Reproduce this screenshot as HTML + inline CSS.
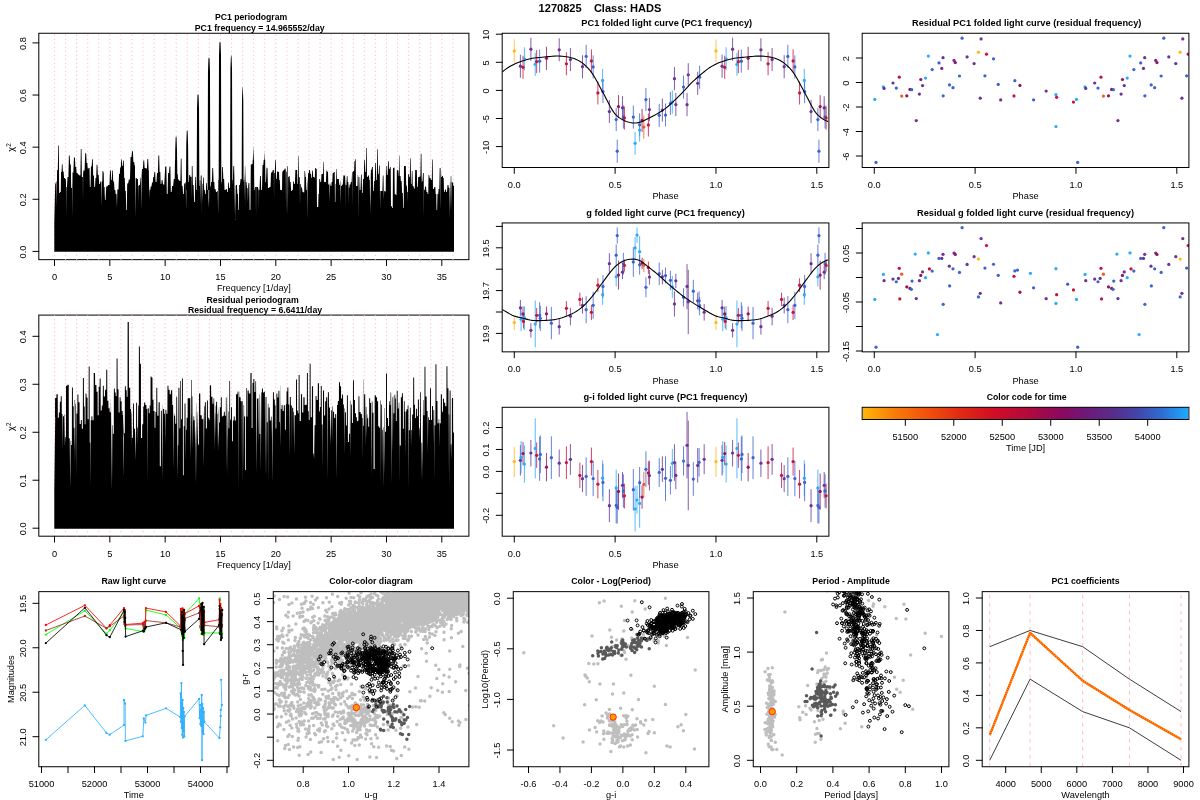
<!DOCTYPE html>
<html lang="en"><head><meta charset="utf-8"><title>1270825 Class: HADS</title>
<style>
html,body{margin:0;padding:0;background:#fff;}
body{width:1200px;height:800px;overflow:hidden;}
svg{display:block;font-family:"Liberation Sans",sans-serif;fill:#000;}
</style></head><body>
<svg width="1200" height="800" viewBox="0 0 1200 800">
<rect width="1200" height="800" fill="#fff"/>
<text x="600" y="11.7" font-size="11.06" text-anchor="middle" font-weight="bold">1270825    Class: HADS</text>
<rect x="38.81" y="33.26" width="430.1" height="226.39" fill="none" stroke="#000" stroke-width="1"/>
<path d="M54.5 259.65V33.26M65.57 259.65V33.26M76.63 259.65V33.26M87.7 259.65V33.26M98.76 259.65V33.26M109.83 259.65V33.26M120.89 259.65V33.26M131.96 259.65V33.26M143.03 259.65V33.26M154.09 259.65V33.26M165.16 259.65V33.26M176.22 259.65V33.26M187.29 259.65V33.26M198.35 259.65V33.26M209.42 259.65V33.26M220.49 259.65V33.26M231.55 259.65V33.26M242.62 259.65V33.26M253.68 259.65V33.26M264.75 259.65V33.26M275.81 259.65V33.26M286.88 259.65V33.26M297.95 259.65V33.26M309.01 259.65V33.26M320.08 259.65V33.26M331.14 259.65V33.26M342.21 259.65V33.26M353.27 259.65V33.26M364.34 259.65V33.26M375.41 259.65V33.26M386.47 259.65V33.26M397.54 259.65V33.26M408.6 259.65V33.26M419.67 259.65V33.26M430.73 259.65V33.26M441.8 259.65V33.26M452.87 259.65V33.26" stroke="#FFB6C4" stroke-width="1.1" fill="none" stroke-dasharray="1 3"/>
<path d="M54.3 251.85L54.3 222.73L55.2 184L55.48 184L56.02 181.5L56.48 181.5L56.76 207.14L57.04 174.45L57.18 170L57.82 170L58.18 145.5L58.82 145.5L59.18 193L59.82 193L60.18 192L60.76 192L61.04 172L61.59 172L61.91 164.2L62.52 164.2L62.88 171.5L63.62 171.5L64.08 178L64.82 178L65.18 179L65.82 179L65.98 182.53L66.15 216.58L66.33 187L66.98 187L67.52 177L68.42 177L68.88 155.5L69.68 155.5L70.12 164.5L70.82 164.5L71.18 188L71.92 188L72.1 181.98L72.31 217.97L72.52 172.5L73.34 172.5L73.96 157.5L74.92 157.5L75.38 167L76.18 167L76.62 173L77.48 173L78.02 174.5L78.98 174.5L79.52 175.5L80.38 175.5L80.82 149L81.52 149L81.88 177L82.78 177L82.86 176.21L83 203.16L83.14 173.34L83.42 170.5L84.58 170.5L85.22 153.2L86.18 153.2L86.62 163L87.32 163L87.68 168.5L88.38 168.5L88.82 168L89.52 168L89.88 187L90.55 187L90.95 166.5L91.68 166.5L92.12 159.2L92.82 159.2L93.18 175.5L93.88 175.5L94.32 187L95.05 187L95.45 178L96.18 178L96.62 164.8L97.42 164.8L97.88 175L98.68 175L99.12 184L99.92 184L100.38 181.5L101.16 181.5L101.48 206.03L101.79 181.5L102.26 181.5L102.54 171L103.18 171L103.62 173L103.75 173L104.12 200.14L104.5 184.66L104.54 187L105.02 187L105.28 200L105.82 200L106.18 186.5L107.3 186.5L108.2 185L109.48 185L110.02 170.5L110.82 170.5L111.18 180L111.82 180L112.18 170.5L112.82 170.5L113.18 181.5L113.98 181.5L114.52 190L115.32 190L115.68 194L116.57 194L116.96 207.81L117.35 189.56L117.36 189.5L118.48 189.5L119.02 174L119.82 174L120.18 167.5L120.82 167.5L121.18 159.5L121.82 159.5L122.18 166L122.82 166L123.18 160.5L123.82 160.5L124.18 178L124.82 178L125.18 191L125.82 191L126.18 210L126.82 210L127.18 183.5L128.14 183.5L128.86 179.5L129.98 179.5L130.52 157L131.48 157L132.02 151.2L132.92 151.2L133.38 162L134.18 162L134.62 165.5L134.96 165.5L135.33 216.74L135.69 178L136.48 178L137.02 179L137.82 179L138.16 185.52L138.3 203.33L138.44 186L138.82 186L139.18 185L139.98 185L140.52 177.5L140.92 177.5L141.26 210.05L141.6 175.68L142.02 169L142.92 169L143.38 160.5L144.18 160.5L144.62 168L145.48 168L146.02 168.5L146.92 168.5L147.38 159L148.18 159L148.62 170L148.84 170L149.21 199.62L149.59 184.81L149.68 190L150.32 190L150.68 186.5L151.48 186.5L152.02 182.5L152.82 182.5L153.18 177L153.92 177L154.38 172L155.18 172L155.62 182L156.48 182L157.02 173L157.92 173L158.38 155.5L159.18 155.5L159.62 172L160.32 172L160.68 184L161.32 184L161.68 180L162.48 180L163.02 184.5L164.3 184.5L165.2 166.5L166.38 166.5L166.82 194L167.62 194L168.08 173L168.98 173L169.52 166.5L170.38 166.5L170.82 192L171.62 192L172.08 186L173.14 186L173.86 179L174.72 179L174.98 160L175.78 160L176.42 160L177.06 160L177.14 174L177.62 174L178.08 179.5L178.98 179.5L179.52 181L180.38 181L180.82 158.5L181.52 158.5L181.88 186L182.62 186L183.08 194L183.82 194L184.18 183.5L184.98 183.5L185.52 182L185.75 182L186.08 210.14L186.42 182L186.64 182L187.36 182L188.16 182L188.34 182L188.82 182L189.18 175L189.98 175L190.52 177L191.38 177L191.45 175.44L191.64 200.13L191.83 166L192.52 166L192.88 185L193.62 185L194.08 202L194.82 202L195.18 177L195.82 177L196.18 190L197.46 190L198.54 186L199.66 186L199.84 180L200.22 180L200.49 204.93L200.76 176.06L200.82 175.5L201.62 175.5L201.64 175.95L201.77 215.7L201.91 180.77L202.08 184L202.45 184L202.81 203.54L203.16 177.84L203.18 177.5L203.82 177.5L204.18 190L204.82 190L205.18 194L205.82 194L206.18 183L206.82 183L207.18 190L208.29 190L208.65 207.59L209.02 188.4L208.74 189.03L208.98 208.01L209.22 188L210.16 188L210.34 186L210.82 186L211.18 182L211.88 182L212.32 168L213.12 168L213.58 182L214.32 182L214.68 189L215.48 189L216.02 192L216.82 192L217.18 191L217.75 191L218.11 213.7L218.47 180L219.3 180L220.2 184L221.16 184L221.34 182L221.82 182L222.18 167L222.88 167L223.32 179L224.12 179L224.58 190L225.48 190L226.02 189L226.82 189L227.18 192L227.82 192L228.18 182.5L228.82 182.5L229.18 188L230.3 188L231.2 184L232.16 184L232.34 180L232.88 180L233.32 166L234.12 166L234.4 178.25L234.67 214.37L234.95 186L235.06 186L235.39 219.91L235.73 185.54L236.02 185L236.92 185L237.38 194L238.02 194L238.28 210L238.82 210L239.18 185L239.98 185L240.52 179L241.7 179L242.5 182L243.39 182L243.61 180L244.12 180L244.29 173.48L244.6 200.23L244.91 166L245.18 166L245.57 180.35L245.7 207.75L245.83 182L246.48 182L247.02 188L247.63 188L247.93 202.37L248.23 185.69L248.52 183L249.32 183L249.68 210L250.38 210L250.82 164.5L251.62 164.5L252.08 164L252.66 164L252.84 160L253.32 160L253.68 160L254.06 160L254.14 190L254.62 190L255.08 187L255.87 187L256.02 218.17L256.17 187L256.86 187L257.98 187L258.52 190L258.81 190L258.95 210.81L259.08 190L259.48 190L260.02 176L260.82 176L261.18 190L261.98 190L262.52 165L263.32 165L263.68 160L264.32 160L264.68 160L265.16 160L265.34 182L265.98 182L266.52 167.8L267.48 167.8L268.02 188L268.98 188L269.52 187L270.48 187L271.02 172.5L272.14 172.5L272.86 170L273.82 170L273.86 170.31L274.02 202.04L274.18 173L274.82 173L275.18 160L275.76 160L276.04 179L276.68 179L277.12 171.5L277.92 171.5L278.38 172L279.02 172L279.28 180L279.82 180L280.18 190L280.92 190L281.38 190L282.02 190L282.28 171.5L282.98 171.5L283.52 170L284.32 170L284.68 168.5L285.48 168.5L285.79 170.51L286.06 213.36L286.34 172L286.82 172L287.18 166L287.63 166L287.89 215.55L288.15 177L288.62 177L288.98 176L289.62 176L289.98 182L290.68 182L291.12 191L291.82 191L292.18 190L292.82 190L293.18 181.5L293.82 181.5L294.18 184L294.92 184L295.38 170L296.12 170L296.48 170L297.12 170L297.48 184L298.02 184L298.28 156L298.72 156L298.98 177L299.62 177L299.78 179.45L300.01 205.32L300.24 184L300.82 184L301.18 187.5L301.98 187.5L302.52 192L303.32 192L303.68 192.5L304.22 192.5L304.48 171L305.05 171L305.45 177L306.02 177L306.28 190L306.82 190L307.18 180L307.32 180L307.59 219.16L307.87 179L308.18 173L308.82 173L309.18 170L309.92 170L310.38 174L311.02 174L311.28 178L311.82 178L312.18 170.5L312.82 170.5L313.18 177L313.82 177L314.18 177.5L314.82 177.5L315.18 168L315.82 168L316.18 169L316.72 169L316.98 207L317.46 207L317.74 207L318.22 207L318.48 194L318.96 194L319.24 179L319.92 179L320.38 182L321.12 182L321.48 174L322.12 174L322.48 174L323.02 174L323.28 162L323.76 162L324.04 182L324.68 182L325.12 182L325.92 182L326.38 170.5L327.12 170.5L327.48 172L328.02 172L328.28 184.5L328.92 184.5L329.02 184.28L329.34 201.9L329.66 183.5L330.18 183.5L330.62 186L331.32 186L331.68 182L332.32 182L332.68 173L333.48 173L334.02 172L334.72 172L334.98 202L335.39 202L335.61 184L336.02 184L336.28 169L336.72 169L336.98 179L337.62 179L338.08 179L338.82 179L339.18 185L339.82 185L340.18 179.5L340.24 179.5L340.58 203.64L340.92 181.32L341.18 186L341.82 186L342.18 184.5L342.92 184.5L343.38 175.5L344.18 175.5L344.62 175.5L345.09 175.5L345.21 210.45L345.34 176.05L345.68 185L346.38 185L346.82 176L347.46 176L347.74 182L348.32 182L348.62 186.94L348.76 204.2L348.9 188L349.32 188L349.68 184.5L350.38 184.5L350.82 182L351.62 182L352.08 172L352.35 172L352.53 205.29L352.7 172L352.92 172L353.38 171L354.12 171L354.48 161L355.02 161L355.28 159L355.72 159L355.98 186L356.52 186L356.88 186L357.46 186L357.74 175L358.12 175L358.33 219.25L358.54 176.22L358.68 177L359.32 177L359.68 190L360.48 190L361.02 174.5L361.72 174.5L361.98 193L362.62 193L363.08 179L363.82 179L364.18 160L364.82 160L365.18 172L365.82 172L366.18 148L366.72 148L366.98 177L367.62 177L368.08 175.5L368.92 175.5L369.38 180L369.8 180L370.18 213.97L370.55 171.57L370.36 176.02L370.62 208.67L370.88 170L371.48 170L372.02 167L372.82 167L373.18 191L373.82 191L374.18 181L374.82 181L375.18 163L375.82 163L376.18 180L376.82 180L377.18 149.2L377.76 149.2L378.04 174L378.68 174L379.12 165.5L379.76 165.5L380.05 209.53L380.34 191L380.98 191L381.52 191L382.38 191L382.82 175.5L383.5 175.5L383.83 199.96L384.15 191L384.62 191L385.08 191.5L385.72 191.5L385.98 166L386.52 166L386.88 175L387.62 175L388.08 161.2L388.72 161.2L388.98 169L389.62 169L390.08 167L390.72 167L390.98 206L391.62 206L392.08 208L392.72 208L392.98 168L393.52 168L393.88 167.5L394.46 167.5L394.74 194L395.38 194L395.82 195L396.52 195L396.88 170L397.52 170L397.88 170.5L398.46 170.5L398.74 176L399.16 176L399.34 155.5L399.72 155.5L399.98 176L400.52 176L400.88 181L401.62 181L402.08 193L402.82 193L403.18 208L403.72 208L403.98 166L404.62 166L405.08 166L405.82 166L406.18 185.5L406.82 185.5L407.18 192L407.72 192L407.86 203.14L408 182.81L408.18 174L408.82 174L409.18 177L409.82 177L410.18 158.2L410.72 158.2L410.98 184L411.52 184L411.88 171L412.46 171L412.74 186L413.48 186L414.02 188.5L414.82 188.5L415.18 170L415.82 170L416.18 170L416.82 170L417.18 187L417.82 187L418.18 177L418.98 177L419.52 176.5L420.38 176.5L420.82 153.8L421.46 153.8L421.74 181.5L422.48 181.5L423.02 173L423.72 173L423.74 174.02L423.89 218.54L424.05 190L424.62 190L425.08 186.5L425.98 186.5L426.52 192L427.32 192L427.68 194L428.26 194L428.54 175L429.18 175L429.62 178L430.48 178L431.02 180L431.82 180L432.18 159.5L432.72 159.5L432.98 189L433.78 189L434.42 187L435.32 187L435.68 194L436.26 194L436.54 210L437.12 210L437.48 194L438.18 194L438.62 189L439.22 189L439.48 168L439.77 168L440.1 210.78L440.44 168L440.96 168L441.24 177L441.82 177L442.18 176L442.82 176L443.18 178L443.72 178L443.98 192L444.62 192L445.08 189.5L445.82 189.5L446.18 192L446.98 192L447.52 185L448.38 185L448.82 188L449.36 188L449.65 219.71L449.95 182L450.15 182L450.45 210.9L450.75 176.85L450.82 176L451.26 176L451.53 212.01L451.8 180.65L451.88 182L452.46 182L452.74 183L453.16 183L453.34 186L454 186L454 251.85Z" fill="#000"/>
<path d="M174.86 190L175.21 149.94L175.66 137.44L176.11 135.94L176.56 137.44L177.01 149.94L177.36 190ZM185.93 190L186.28 143.95L186.73 131.45L187.18 129.95L187.63 131.45L188.08 143.95L188.43 190ZM196.67 190L197.02 107.98L197.47 95.48L198.02 93.98L198.57 95.48L199.02 107.98L199.37 190ZM207.63 190L207.98 71.23L208.43 58.73L208.98 57.23L209.53 58.73L209.98 71.23L210.33 190ZM218.65 190L219 55.6L219.45 43.1L220 41.6L220.55 43.1L221 55.6L221.35 190ZM230.07 190L230.42 69.15L230.87 56.65L231.22 55.15L231.57 56.65L232.02 69.15L232.37 190ZM241.62 190L241.97 100.42L242.42 87.92L242.62 86.42L242.82 87.92L243.27 100.42L243.62 190ZM252.5 190L252.85 159.85L253.3 147.35L253.35 145.85L253.4 147.35L253.85 159.85L254.2 190ZM263.57 190L263.92 165.06L264.37 152.56L264.42 151.06L264.47 152.56L264.92 165.06L265.27 190ZM274.63 190L274.98 174.18L275.43 161.68L275.48 160.18L275.53 161.68L275.98 174.18L276.33 190Z" fill="#000"/>
<path d="M54.5 259.65v5.9M109.83 259.65v5.9M165.16 259.65v5.9M220.49 259.65v5.9M275.81 259.65v5.9M331.14 259.65v5.9M386.47 259.65v5.9M441.8 259.65v5.9" stroke="#000" stroke-width="1" fill="none" stroke-linecap="round"/>
<text x="54.5" y="280.15" font-size="9.24" text-anchor="middle">0</text>
<text x="109.83" y="280.15" font-size="9.24" text-anchor="middle">5</text>
<text x="165.16" y="280.15" font-size="9.24" text-anchor="middle">10</text>
<text x="220.49" y="280.15" font-size="9.24" text-anchor="middle">15</text>
<text x="275.81" y="280.15" font-size="9.24" text-anchor="middle">20</text>
<text x="331.14" y="280.15" font-size="9.24" text-anchor="middle">25</text>
<text x="386.47" y="280.15" font-size="9.24" text-anchor="middle">30</text>
<text x="441.8" y="280.15" font-size="9.24" text-anchor="middle">35</text>
<path d="M38.81 251.4h-5.9M38.81 199.28h-5.9M38.81 147.15h-5.9M38.81 95.03h-5.9M38.81 42.9h-5.9" stroke="#000" stroke-width="1" fill="none" stroke-linecap="round"/>
<text x="25.61" y="252" font-size="9.24" text-anchor="middle" transform="rotate(-90 25.61 252)">0.0</text>
<text x="25.61" y="199.88" font-size="9.24" text-anchor="middle" transform="rotate(-90 25.61 199.88)">0.2</text>
<text x="25.61" y="147.75" font-size="9.24" text-anchor="middle" transform="rotate(-90 25.61 147.75)">0.4</text>
<text x="25.61" y="95.63" font-size="9.24" text-anchor="middle" transform="rotate(-90 25.61 95.63)">0.6</text>
<text x="25.61" y="43.5" font-size="9.24" text-anchor="middle" transform="rotate(-90 25.61 43.5)">0.8</text>
<text x="251.1" y="19.7" font-size="8.7" text-anchor="middle" font-weight="bold">PC1 periodogram</text>
<text x="259.7" y="30.6" font-size="8.74" text-anchor="middle" font-weight="bold">PC1 frequency = 14.965552/day</text>
<text x="253.86" y="291.15" font-size="9.24" text-anchor="middle">Frequency [1/day]</text>
<text x="14.5" y="147.45" font-size="9.24" text-anchor="middle" transform="rotate(-90 14.5 147.45)">χ<tspan font-size="6.5" dy="-3.2">2</tspan></text>
<rect x="38.81" y="315.09" width="430.1" height="221.11" fill="none" stroke="#000" stroke-width="1"/>
<path d="M54.5 536.2V315.09M65.57 536.2V315.09M76.63 536.2V315.09M87.7 536.2V315.09M98.76 536.2V315.09M109.83 536.2V315.09M120.89 536.2V315.09M131.96 536.2V315.09M143.03 536.2V315.09M154.09 536.2V315.09M165.16 536.2V315.09M176.22 536.2V315.09M187.29 536.2V315.09M198.35 536.2V315.09M209.42 536.2V315.09M220.49 536.2V315.09M231.55 536.2V315.09M242.62 536.2V315.09M253.68 536.2V315.09M264.75 536.2V315.09M275.81 536.2V315.09M286.88 536.2V315.09M297.95 536.2V315.09M309.01 536.2V315.09M320.08 536.2V315.09M331.14 536.2V315.09M342.21 536.2V315.09M353.27 536.2V315.09M364.34 536.2V315.09M375.41 536.2V315.09M386.47 536.2V315.09M397.54 536.2V315.09M408.6 536.2V315.09M419.67 536.2V315.09M430.73 536.2V315.09M441.8 536.2V315.09M452.87 536.2V315.09" stroke="#FFB6C4" stroke-width="1.1" fill="none" stroke-dasharray="1 3"/>
<path d="M54.3 528.8L54.3 489.82L55.2 417.52L55.01 417.52L55.09 398.04L56.32 398.04L56.46 394.33L57.75 394.33L57.83 417.72L58.8 417.72L58.89 412.54L59.8 412.54L59.87 401.73L60.73 401.73L60.81 396.25L61.73 396.25L61.81 414.12L62.45 414.12L62.72 451.04L62.99 416.15L63.97 416.15L64.05 414.27L64.4 414.27L64.88 445.8L65.35 436.9L65.95 436.9L66.03 385.67L67.32 385.67L67.46 384.71L68.74 384.71L68.82 438.32L69.72 438.32L69.73 438.41L70.18 488.08L70.63 440.8L71.11 440.8L71.15 444.9L71.87 444.9L71.95 387.46L72.87 387.46L72.95 406.37L73.69 406.37L73.74 427.71L74.45 427.71L74.73 450.23L75.01 400.1L74.6 400.1L75 465.31L75.4 400.1L75.48 400.1L75.56 404.1L75.94 404.1L76.18 477.64L76.42 404.1L76.43 404.1L76.5 413.6L77.36 413.6L77.44 394.6L78.36 394.6L78.44 402.35L79.56 402.35L79.68 424.03L80.8 424.03L80.88 420.03L81.8 420.03L81.88 428.72L82.83 428.72L82.91 378.11L83.86 378.11L83.94 406.55L84.68 406.55L84.73 424.27L85.47 424.27L85.55 393.51L86.47 393.51L86.55 397.51L87.55 397.51L87.64 419.2L88.64 419.2L88.72 366.43L89.64 366.43L89.72 442.69L90.24 442.69L90.48 486.38L90.72 420.32L91.38 420.32L91.46 416.32L92.38 416.32L92.46 420.32L93.6 420.32L93.72 372.89L95.03 372.89L95.14 384.98L96.41 384.98L96.52 391.86L97.61 391.86L97.69 415.22L98.62 415.22L98.7 386.7L99.63 386.7L99.71 378.38L100.63 378.38L100.71 410.61L101.71 410.61L101.8 405.56L102.79 405.56L102.87 385.67L103.79 385.67L103.87 396.56L104.95 396.56L105.06 389.79L106.18 389.79L106.26 369.86L107.23 369.86L107.31 400.63L108.38 400.63L108.49 408.35L109.57 408.35L109.65 412.35L110.72 412.35L110.83 400.1L110.91 400.1L111.23 488.24L111.55 400.1L111.54 400.1L111.96 489.61L112.38 425.16L112.85 425.16L112.92 433.82L113.79 433.82L113.87 388.42L114.79 388.42L114.87 392.42L115.67 392.42L115.73 395.94L116.54 395.94L116.62 358.45L117.54 358.45L117.62 389.21L118.55 389.21L118.63 412.6L119.56 412.6L119.64 397.35L120.56 397.35L120.64 401.35L121.59 401.35L121.68 411.1L122.62 411.1L122.7 415.1L123.17 415.1L123.54 437.81L123.91 433.18L123.1 415.1L123.54 477.51L123.99 433.18L124.79 433.18L124.87 386.36L125.79 386.36L125.87 390.36L126.67 390.36L126.73 396.64L127.54 396.64L127.62 321.89L128.83 321.89L128.97 387.73L130.19 387.73L130.27 409.03L131.02 409.03L131.08 412.45L131.22 412.45L131.43 447.46L131.64 412.45L131.86 412.45L131.95 437.78L132.9 437.78L132.98 403.54L133.9 403.54L133.98 428.73L134.97 428.73L135.04 430.95L135.5 460.72L135.96 431.9L136.06 431.9L136.14 402.85L137.06 402.85L137.14 427.48L137.69 427.48L137.96 445.04L138.24 405.62L138.81 405.62L138.89 346.49L139.85 346.49L139.94 363.68L140.91 363.68L140.99 438.02L142.1 438.02L142.21 424.27L143.19 424.27L143.25 406.58L144.03 406.58L144.11 402.58L145.2 402.58L145.31 404.91L146.41 404.91L146.49 408.91L147.25 408.91L147.5 481.42L147.75 408.35L148.74 408.35L148.82 413.28L149.63 413.28L149.69 405.41L150.49 405.41L150.57 376.46L151.47 376.46L151.55 377.42L152.45 377.42L152.53 399.84L153.48 399.84L153.57 411.1L154.51 411.1L154.59 427.63L155.4 427.63L155.46 412.11L156.26 412.11L156.34 387.73L157.26 387.73L157.34 415.84L158.48 415.84L158.6 402.16L159.74 402.16L159.82 466.16L160.81 466.16L160.91 410.75L161.8 410.75L162.29 479.77L162.78 404.91L162.9 404.91L162.98 408.91L164.12 408.91L164.23 413.73L164.93 413.73L165.22 443.69L165.51 409.73L166.37 409.73L166.45 413.73L167.4 413.73L167.48 385.67L168.43 385.67L168.51 389.67L169.63 389.67L169.75 394.21L170.87 394.21L170.95 390.21L172.17 390.21L172.3 404.91L173.12 404.91L173.54 469.41L173.95 413.56L174.31 413.56L174.36 415.79L175.14 415.79L175.24 423.77L176.23 423.77L176.31 396.67L177.12 396.67L177.5 479.53L177.88 445.35L178.32 445.35L178.42 387.73L179.43 387.73L179.51 428.29L180.24 428.29L180.29 380.9L180.95 380.9L181.01 419.37L181.87 419.37L181.95 378.38L182.87 378.38L182.95 475.15L183.69 475.15L183.74 426.36L184.48 426.36L184.56 403.54L185.48 403.54L185.56 429.86L185.63 429.86L185.83 460.39L186.03 429.86L186.55 429.86L186.64 417.76L187.64 417.76L187.72 398.32L189 398.32L189.14 398.32L190.26 398.32L190.71 458.24L191.16 414.42L191.22 414.42L191.26 380.05L191.84 380.05L191.9 396.25L192.39 396.25L192.72 449.3L193.06 420.32L193.41 420.32L193.49 416.32L193.95 416.32L194.11 439.76L194.27 416.32L194.41 416.32L194.49 420.32L194.96 420.32L195.35 447.25L195.75 403.02L195.51 420.32L195.95 484.62L196.39 402.58L196.54 402.58L196.71 480.41L196.89 402.58L196.89 402.58L196.97 412.13L196.98 412.13L197.31 440.3L197.64 412.13L197.9 412.13L197.98 444.68L198.91 444.68L198.99 393.51L200.27 393.51L200.42 415.22L201.7 415.22L201.78 419.22L202.58 419.22L202.64 418.73L203.29 418.73L203.35 410.69L203.42 410.69L203.89 468.08L204.36 406.16L204.82 406.16L204.9 402.16L205.82 402.16L205.9 428.39L206.85 428.39L206.93 400.38L207.88 400.38L207.96 417.79L208.83 417.79L208.9 419.8L209.77 419.8L209.85 385.26L211.07 385.26L211.2 396.67L212.42 396.67L212.5 403.83L213.43 403.83L213.51 398.28L214.19 398.28L214.56 450.78L214.93 413.54L215.12 413.54L215.15 410.97L215.41 438.6L215.68 405.75L216.09 405.75L216.17 401.75L217.09 401.75L217.17 414.1L217.57 414.1L218.05 451.46L218.53 405.88L218.1 414.1L218.57 447.56L219.03 405.88L219.15 405.88L219.23 422.44L219.98 422.44L220.02 407.17L220.77 407.17L220.85 397.35L221.77 397.35L221.85 416.51L222.78 416.51L222.86 415.79L223.79 415.79L223.87 411.79L224.79 411.79L224.87 415.79L225.8 415.79L225.88 397.51L226.53 397.51L226.91 472.86L227.29 393.51L227.34 393.51L227.59 477.23L227.84 398.66L227.79 393.51L227.96 440.96L228.13 411.56L228.61 411.56L228.65 428.37L229.28 428.37L229.35 380.88L230.07 380.88L230.13 419.77L230.94 419.77L231.02 407.25L231.94 407.25L232.02 441.28L232.82 441.28L232.88 420.6L233.69 420.6L233.77 416.6L234.69 416.6L234.77 420.6L235.9 420.6L236.02 394.33L237.46 394.33L237.59 391.44L238.09 391.44L238.35 488.56L238.6 391.44L239.17 391.44L239.32 397.35L240.6 397.35L240.68 401.35L241.75 401.35L241.81 401.19L242.07 484.38L242.34 401.07L242.93 401.07L242.99 403.86L243.3 472.29L243.6 405.07L244.06 405.07L244.16 416.5L245.13 416.5L245.2 470.1L245.95 470.1L246.01 388L246.65 388L246.7 416.45L247.43 416.45L247.51 390.48L248.73 390.48L248.86 393.51L250.32 393.51L250.44 372.89L251.59 372.89L251.67 427.89L252.48 427.89L252.54 383.07L253.34 383.07L253.42 379.07L254.34 379.07L254.42 391.96L255.33 391.96L255.4 381.27L256.06 381.27L256.49 473.63L256.93 415.59L256.95 398.71L257.61 398.71L257.66 398.33L258.42 398.33L258.76 443.49L259.1 394.33L259.43 394.33L259.51 433.97L260.26 433.97L260.31 395.99L260.39 395.99L260.87 470.04L261.36 392.42L261.87 392.42L261.95 388.42L262.87 388.42L262.95 392.42L264.02 392.42L264.13 391.86L264.88 391.86L265.21 478.34L265.54 396.94L266.44 396.94L266.63 477.21L266.83 422.28L267.61 422.28L267.69 403.54L267.82 403.54L268.07 482.5L268.33 403.54L268.64 403.54L268.72 407.54L269.71 407.54L269.81 420.6L270.8 420.6L270.88 416.6L270.95 416.6L271.12 437.34L271.29 416.6L271.8 416.6L271.88 420.6L272.07 420.6L272.51 483.84L272.95 392.27L273.86 392.27L273.94 399.39L274.81 399.39L274.88 405.17L275.55 405.17L275.6 428.4L276.33 428.4L276.41 393.51L277.33 393.51L277.41 397.51L278.36 397.51L278.45 390.76L279.39 390.76L279.47 421.92L280.01 421.92L280.33 447.53L280.64 385.56L280.78 385.56L280.83 408.91L281.56 408.91L281.64 404.91L282.56 404.91L282.64 411.04L283.71 411.04L283.82 405.33L284.89 405.33L284.97 429.71L285.79 429.71L285.85 404.21L286.51 404.21L286.56 391.46L287.33 391.46L287.41 387.46L288.33 387.46L288.41 404.58L289.24 404.58L289.55 456.54L289.86 396.94L290.8 396.94L290.88 405.62L291.8 405.62L291.97 453.61L292.13 407.66L293.14 407.66L293.22 411.66L293.72 411.66L294.15 454.42L294.59 413.04L294.68 415.34L295.99 415.34L296.07 379.48L296.99 379.48L297.07 410.41L297.81 410.41L297.86 413.22L298.6 413.22L298.68 374.95L299.6 374.95L299.68 421.12L300.82 421.12L300.94 394.33L302.08 394.33L302.16 412.56L303.29 412.56L303.41 397.35L304.55 397.35L304.63 405.07L305.69 405.07L305.79 404.85L306.85 404.85L306.93 372.89L307.85 372.89L307.93 411.33L308.73 411.33L308.79 419.94L309.6 419.94L309.68 363.68L310.6 363.68L310.68 417.18L311.82 417.18L311.93 386.36L313.07 386.36L313.15 453.39L313.64 453.39L314.11 458.93L314.59 425.31L315.51 425.31L315.59 395.98L316.51 395.98L316.59 399.98L317.73 399.98L317.84 383.33L318.98 383.33L319.06 411.55L319.87 411.55L319.93 407.09L320.73 407.09L320.81 386.08L321.73 386.08L321.81 424.48L322.51 424.48L322.78 468.81L323.04 390.48L324.07 390.48L324.15 415.61L325.08 415.61L325.16 401.35L326.09 401.35L326.17 397.35L327.2 397.35L327.55 480.59L327.89 392.27L328.88 392.27L328.96 407.5L329.94 407.5L329.96 409.2L330.25 441.4L330.55 414.18L330.54 414.18L330.88 446.39L331.23 410.29L332 410.29L332.08 406.29L332.52 406.29L332.76 443.98L333 406.29L333 406.29L333.08 411.77L334.08 411.77L334.17 418.12L335.16 418.12L335.24 414.12L336.16 414.12L336.2 415.79L336.62 477.92L337.05 405.07L337.78 405.07L337.86 401.07L338.89 401.07L338.98 382.23L340.01 382.23L340.09 386.23L341.02 386.23L341.11 398.6L342.04 398.6L342.12 394.6L343.04 394.6L343.12 404.42L343.88 404.42L344.22 453.83L344.56 408.35L344.96 408.35L345.04 412.35L345.91 412.35L345.98 425.61L346.85 425.61L346.93 395.29L347.85 395.29L347.93 442.02L348.86 442.02L348.94 433.8L349.87 433.8L349.95 400.38L350.39 400.38L350.74 458.05L351.09 404.38L351.88 404.38L351.97 422.98L352.9 422.98L352.98 380.17L353.9 380.17L353.98 400.04L354.92 400.04L355.01 413.16L355.96 413.16L356.04 417.16L356.86 417.16L356.92 421.37L357.58 421.37L357.63 420.71L358.39 420.71L358.47 396.25L359.39 396.25L359.47 412.07L360.61 412.07L360.73 414.12L361.87 414.12L361.95 418.12L362.52 418.12L362.76 460.59L362.99 379.69L363.27 379.69L363.31 425.71L364.03 425.71L364.11 394.33L365.2 394.33L365.31 406.98L365.33 406.98L365.6 447.71L365.87 406.98L366.41 406.98L366.49 414.56L366.54 414.56L366.82 438.13L367.1 414.56L367.38 414.56L367.46 418.25L368.24 418.25L368.3 426.79L369.12 426.79L369.2 398.32L370.12 398.32L370.2 403L371.12 403L371.48 477.8L371.83 401.48L372.45 401.48L372.53 412.86L373.53 412.86L373.62 469.09L374.61 469.09L374.69 395.29L375.79 395.29L375.9 397.35L376.99 397.35L377.07 401.35L378.09 401.35L378.19 426.31L379.17 426.31L379.24 427.74L380.11 427.74L380.19 400.38L380.66 400.38L380.96 483.06L381.25 404.38L382.04 404.38L382.11 429.74L382.71 429.74L383.11 487.4L383.52 427.3L383.89 427.3L384.26 473.57L384.62 407.94L384.96 407.94L385.04 431.69L385.94 431.69L386.02 373.57L386.92 373.57L387 418.08L387.96 418.08L388.05 426.06L388.92 426.06L388.99 401.28L389.66 401.28L389.71 404.95L390.46 404.95L390.54 392.54L391.15 392.54L391.57 483.13L392 397.26L392.49 397.26L392.87 452.14L393.26 395.97L393.49 395.97L393.55 413.26L394.37 413.26L394.45 394.74L395.19 394.74L395.25 398.58L395.85 398.58L395.9 421.03L396.64 421.03L396.72 390.76L397.64 390.76L397.72 408.5L398.67 408.5L398.76 402.44L399.15 402.44L399.38 482.95L399.61 402.44L399.7 402.44L399.78 445.54L400.78 445.54L400.87 397.23L401.87 397.23L401.95 393.23L402.87 393.23L402.95 428.64L403.8 428.64L403.87 401.33L404.66 401.33L404.73 411.79L405.12 411.79L405.4 455.57L405.68 411.51L406.42 411.51L406.53 409.33L407.64 409.33L407.72 405.33L408.41 405.33L408.65 489.36L408.89 430.21L409.79 430.21L409.9 407.66L410.71 407.66L411.01 447.14L411.32 430.09L412.05 430.09L412.14 414.56L413.14 414.56L413.22 377.42L414.14 377.42L414.22 404.7L415.02 404.7L415.08 418.09L415.89 418.09L415.97 408.63L416.89 408.63L416.97 416.25L417.85 416.25L417.92 399.62L418.9 399.62L418.99 428.3L419.13 428.3L419.34 440.18L419.54 428.3L420.01 428.3L420.09 392.13L420.82 392.13L421.14 481.35L421.47 442.77L422.08 442.77L422.27 470.25L422.45 400.1L422.44 400.1L422.76 480.55L423.07 400.1L423.48 400.1L423.56 415.13L424.45 415.13L424.52 366.7L425.41 366.7L425.49 396.51L426.63 396.51L426.74 411.1L427.57 411.1L427.88 453.02L428.19 417.27L428.89 417.27L428.98 419.95L429.91 419.95L429.99 388.14L430.91 388.14L430.99 420L431.94 420L432.02 405.88L432.97 405.88L433.05 409.88L433.29 409.88L433.51 444.51L433.72 409.88L434.17 409.88L434.28 425.3L434.32 425.3L434.49 483.32L434.66 425.3L435.41 425.3L435.49 364.36L436.41 364.36L436.49 400.92L437.48 400.92L437.57 423.35L438.57 423.35L438.65 419.35L439.22 419.35L439.45 447.44L439.68 423.35L440.72 423.35L440.83 394.19L441.9 394.19L441.98 411.75L442.93 411.75L443.02 398.73L443.97 398.73L444.05 402.73L445.17 402.73L445.28 406.28L446.4 406.28L446.48 366.15L447.4 366.15L447.48 388.21L448.48 388.21L448.57 414.42L448.75 414.42L449.04 487.59L449.33 414.42L449.56 414.42L449.64 390.48L450.56 390.48L450.64 444.15L450.83 444.15L451.1 460.25L451.37 444.15L451.78 444.15L451.9 398.04L453.04 398.04L453.12 432.42L454 432.42L454 528.8Z" fill="#000"/>
<path d="M54.5 536.2v5.9M109.83 536.2v5.9M165.16 536.2v5.9M220.49 536.2v5.9M275.81 536.2v5.9M331.14 536.2v5.9M386.47 536.2v5.9M441.8 536.2v5.9" stroke="#000" stroke-width="1" fill="none" stroke-linecap="round"/>
<text x="54.5" y="556.7" font-size="9.24" text-anchor="middle">0</text>
<text x="109.83" y="556.7" font-size="9.24" text-anchor="middle">5</text>
<text x="165.16" y="556.7" font-size="9.24" text-anchor="middle">10</text>
<text x="220.49" y="556.7" font-size="9.24" text-anchor="middle">15</text>
<text x="275.81" y="556.7" font-size="9.24" text-anchor="middle">20</text>
<text x="331.14" y="556.7" font-size="9.24" text-anchor="middle">25</text>
<text x="386.47" y="556.7" font-size="9.24" text-anchor="middle">30</text>
<text x="441.8" y="556.7" font-size="9.24" text-anchor="middle">35</text>
<path d="M38.81 528.2h-5.9M38.81 480.23h-5.9M38.81 432.25h-5.9M38.81 384.28h-5.9M38.81 336.3h-5.9" stroke="#000" stroke-width="1" fill="none" stroke-linecap="round"/>
<text x="25.61" y="528.8" font-size="9.24" text-anchor="middle" transform="rotate(-90 25.61 528.8)">0.0</text>
<text x="25.61" y="480.83" font-size="9.24" text-anchor="middle" transform="rotate(-90 25.61 480.83)">0.1</text>
<text x="25.61" y="432.85" font-size="9.24" text-anchor="middle" transform="rotate(-90 25.61 432.85)">0.2</text>
<text x="25.61" y="384.88" font-size="9.24" text-anchor="middle" transform="rotate(-90 25.61 384.88)">0.3</text>
<text x="25.61" y="336.9" font-size="9.24" text-anchor="middle" transform="rotate(-90 25.61 336.9)">0.4</text>
<text x="252.6" y="302.5" font-size="8.74" text-anchor="middle" font-weight="bold">Residual periodogram</text>
<text x="255" y="313" font-size="8.74" text-anchor="middle" font-weight="bold">Residual frequency = 6.6411/day</text>
<text x="253.86" y="567.7" font-size="9.24" text-anchor="middle">Frequency [1/day]</text>
<text x="14.5" y="426.64" font-size="9.24" text-anchor="middle" transform="rotate(-90 14.5 426.64)">χ<tspan font-size="6.5" dy="-3.2">2</tspan></text>
<clipPath id="c3"><rect x="502.18" y="33.26" width="326.73" height="134.24"/></clipPath>
<g clip-path="url(#c3)">
<line x1="514.27" y1="39.45" x2="514.27" y2="62.53" stroke="#FFB81C" stroke-width="1" stroke-opacity="0.8"/>
<line x1="715.96" y1="39.45" x2="715.96" y2="62.53" stroke="#FFB81C" stroke-width="1" stroke-opacity="0.8"/>
<line x1="520.39" y1="54.66" x2="520.39" y2="77.75" stroke="#6A3494" stroke-width="1" stroke-opacity="0.8"/>
<line x1="722.08" y1="54.66" x2="722.08" y2="77.75" stroke="#6A3494" stroke-width="1" stroke-opacity="0.8"/>
<line x1="523.02" y1="55.71" x2="523.02" y2="78.8" stroke="#C8143C" stroke-width="1" stroke-opacity="0.8"/>
<line x1="724.71" y1="55.71" x2="724.71" y2="78.8" stroke="#C8143C" stroke-width="1" stroke-opacity="0.8"/>
<line x1="524.42" y1="47.32" x2="524.42" y2="70.41" stroke="#2AAAFF" stroke-width="1" stroke-opacity="0.8"/>
<line x1="726.11" y1="47.32" x2="726.11" y2="70.41" stroke="#2AAAFF" stroke-width="1" stroke-opacity="0.8"/>
<line x1="530.89" y1="37.7" x2="530.89" y2="60.79" stroke="#6A3494" stroke-width="1" stroke-opacity="0.8"/>
<line x1="732.58" y1="37.7" x2="732.58" y2="60.79" stroke="#6A3494" stroke-width="1" stroke-opacity="0.8"/>
<line x1="535.26" y1="52.74" x2="535.26" y2="75.83" stroke="#2AAAFF" stroke-width="1" stroke-opacity="0.8"/>
<line x1="736.95" y1="52.74" x2="736.95" y2="75.83" stroke="#2AAAFF" stroke-width="1" stroke-opacity="0.8"/>
<line x1="536.66" y1="50.12" x2="536.66" y2="73.2" stroke="#C8143C" stroke-width="1" stroke-opacity="0.8"/>
<line x1="738.35" y1="50.12" x2="738.35" y2="73.2" stroke="#C8143C" stroke-width="1" stroke-opacity="0.8"/>
<line x1="539.63" y1="49.59" x2="539.63" y2="72.68" stroke="#3C64D0" stroke-width="1" stroke-opacity="0.8"/>
<line x1="741.32" y1="49.59" x2="741.32" y2="72.68" stroke="#3C64D0" stroke-width="1" stroke-opacity="0.8"/>
<line x1="546.46" y1="46.79" x2="546.46" y2="69.88" stroke="#96145A" stroke-width="1" stroke-opacity="0.8"/>
<line x1="748.15" y1="46.79" x2="748.15" y2="69.88" stroke="#96145A" stroke-width="1" stroke-opacity="0.8"/>
<line x1="559.22" y1="38.22" x2="559.22" y2="61.31" stroke="#6A3494" stroke-width="1" stroke-opacity="0.8"/>
<line x1="760.91" y1="38.22" x2="760.91" y2="61.31" stroke="#6A3494" stroke-width="1" stroke-opacity="0.8"/>
<line x1="566.4" y1="52.21" x2="566.4" y2="75.3" stroke="#C8143C" stroke-width="1" stroke-opacity="0.8"/>
<line x1="768.09" y1="52.21" x2="768.09" y2="75.3" stroke="#C8143C" stroke-width="1" stroke-opacity="0.8"/>
<line x1="570.42" y1="48.02" x2="570.42" y2="71.11" stroke="#6A3494" stroke-width="1" stroke-opacity="0.8"/>
<line x1="772.11" y1="48.02" x2="772.11" y2="71.11" stroke="#6A3494" stroke-width="1" stroke-opacity="0.8"/>
<line x1="582.49" y1="55.19" x2="582.49" y2="78.28" stroke="#6A3494" stroke-width="1" stroke-opacity="0.8"/>
<line x1="784.18" y1="55.19" x2="784.18" y2="78.28" stroke="#6A3494" stroke-width="1" stroke-opacity="0.8"/>
<line x1="586.16" y1="44.87" x2="586.16" y2="67.96" stroke="#3C64D0" stroke-width="1" stroke-opacity="0.8"/>
<line x1="787.85" y1="44.87" x2="787.85" y2="67.96" stroke="#3C64D0" stroke-width="1" stroke-opacity="0.8"/>
<line x1="591.41" y1="49.42" x2="591.41" y2="72.5" stroke="#C8143C" stroke-width="1" stroke-opacity="0.8"/>
<line x1="793.1" y1="49.42" x2="793.1" y2="72.5" stroke="#C8143C" stroke-width="1" stroke-opacity="0.8"/>
<line x1="593.16" y1="55.36" x2="593.16" y2="78.45" stroke="#3C64D0" stroke-width="1" stroke-opacity="0.8"/>
<line x1="794.85" y1="55.36" x2="794.85" y2="78.45" stroke="#3C64D0" stroke-width="1" stroke-opacity="0.8"/>
<line x1="597.88" y1="81.43" x2="597.88" y2="104.51" stroke="#C8143C" stroke-width="1" stroke-opacity="0.8"/>
<line x1="799.57" y1="81.43" x2="799.57" y2="104.51" stroke="#C8143C" stroke-width="1" stroke-opacity="0.8"/>
<line x1="602.6" y1="68.83" x2="602.6" y2="91.92" stroke="#2AAAFF" stroke-width="1" stroke-opacity="0.8"/>
<line x1="804.29" y1="68.83" x2="804.29" y2="91.92" stroke="#2AAAFF" stroke-width="1" stroke-opacity="0.8"/>
<line x1="602.95" y1="80.03" x2="602.95" y2="103.12" stroke="#3C64D0" stroke-width="1" stroke-opacity="0.8"/>
<line x1="804.64" y1="80.03" x2="804.64" y2="103.12" stroke="#3C64D0" stroke-width="1" stroke-opacity="0.8"/>
<line x1="609.37" y1="99.97" x2="609.37" y2="123.06" stroke="#6A3494" stroke-width="1" stroke-opacity="0.8"/>
<line x1="811.06" y1="99.97" x2="811.06" y2="123.06" stroke="#6A3494" stroke-width="1" stroke-opacity="0.8"/>
<line x1="616.19" y1="108.01" x2="616.19" y2="131.1" stroke="#3C64D0" stroke-width="1" stroke-opacity="0.8"/>
<line x1="817.88" y1="108.01" x2="817.88" y2="131.1" stroke="#3C64D0" stroke-width="1" stroke-opacity="0.8"/>
<line x1="617.24" y1="139.67" x2="617.24" y2="162.76" stroke="#3C64D0" stroke-width="1" stroke-opacity="0.8"/>
<line x1="818.93" y1="139.67" x2="818.93" y2="162.76" stroke="#3C64D0" stroke-width="1" stroke-opacity="0.8"/>
<line x1="618.47" y1="95.07" x2="618.47" y2="118.16" stroke="#96145A" stroke-width="1" stroke-opacity="0.8"/>
<line x1="820.16" y1="95.07" x2="820.16" y2="118.16" stroke="#96145A" stroke-width="1" stroke-opacity="0.8"/>
<line x1="622.49" y1="96.29" x2="622.49" y2="119.38" stroke="#6A3494" stroke-width="1" stroke-opacity="0.8"/>
<line x1="824.18" y1="96.29" x2="824.18" y2="119.38" stroke="#6A3494" stroke-width="1" stroke-opacity="0.8"/>
<line x1="623.37" y1="105.39" x2="623.37" y2="128.48" stroke="#3C64D0" stroke-width="1" stroke-opacity="0.8"/>
<line x1="825.06" y1="105.39" x2="825.06" y2="128.48" stroke="#3C64D0" stroke-width="1" stroke-opacity="0.8"/>
<line x1="624.42" y1="106.44" x2="624.42" y2="129.53" stroke="#C8143C" stroke-width="1" stroke-opacity="0.8"/>
<line x1="826.11" y1="106.44" x2="826.11" y2="129.53" stroke="#C8143C" stroke-width="1" stroke-opacity="0.8"/>
<line x1="633.34" y1="105.56" x2="633.34" y2="128.65" stroke="#3C64D0" stroke-width="1" stroke-opacity="0.8"/>
<line x1="635.09" y1="131.8" x2="635.09" y2="154.89" stroke="#2AAAFF" stroke-width="1" stroke-opacity="0.8"/>
<line x1="639.63" y1="113.26" x2="639.63" y2="136.35" stroke="#3C64D0" stroke-width="1" stroke-opacity="0.8"/>
<line x1="639.63" y1="118.51" x2="639.63" y2="141.6" stroke="#2AAAFF" stroke-width="1" stroke-opacity="0.8"/>
<line x1="642.08" y1="108.89" x2="642.08" y2="131.98" stroke="#96145A" stroke-width="1" stroke-opacity="0.8"/>
<line x1="643.83" y1="115.53" x2="643.83" y2="138.62" stroke="#F05A20" stroke-width="1" stroke-opacity="0.8"/>
<line x1="645.93" y1="88.07" x2="645.93" y2="111.16" stroke="#3C64D0" stroke-width="1" stroke-opacity="0.8"/>
<line x1="648.38" y1="113.44" x2="648.38" y2="136.52" stroke="#C8143C" stroke-width="1" stroke-opacity="0.8"/>
<line x1="649.43" y1="98.04" x2="649.43" y2="121.13" stroke="#6A3494" stroke-width="1" stroke-opacity="0.8"/>
<line x1="659.22" y1="103.81" x2="659.22" y2="126.9" stroke="#3C64D0" stroke-width="1" stroke-opacity="0.8"/>
<line x1="662.37" y1="98.57" x2="662.37" y2="121.66" stroke="#6A3494" stroke-width="1" stroke-opacity="0.8"/>
<line x1="665.52" y1="103.47" x2="665.52" y2="126.55" stroke="#3C64D0" stroke-width="1" stroke-opacity="0.8"/>
<line x1="670.42" y1="91.92" x2="670.42" y2="115.01" stroke="#3C64D0" stroke-width="1" stroke-opacity="0.8"/>
<line x1="672.34" y1="90.52" x2="672.34" y2="113.61" stroke="#2AAAFF" stroke-width="1" stroke-opacity="0.8"/>
<line x1="674.44" y1="67.08" x2="674.44" y2="90.17" stroke="#6A3494" stroke-width="1" stroke-opacity="0.8"/>
<line x1="675.84" y1="92.97" x2="675.84" y2="116.06" stroke="#6A3494" stroke-width="1" stroke-opacity="0.8"/>
<line x1="683.54" y1="75.48" x2="683.54" y2="98.57" stroke="#3C64D0" stroke-width="1" stroke-opacity="0.8"/>
<line x1="687.04" y1="93.15" x2="687.04" y2="116.23" stroke="#6A3494" stroke-width="1" stroke-opacity="0.8"/>
<line x1="688.26" y1="63.23" x2="688.26" y2="86.32" stroke="#6A3494" stroke-width="1" stroke-opacity="0.8"/>
<line x1="697.71" y1="71.81" x2="697.71" y2="94.89" stroke="#6A3494" stroke-width="1" stroke-opacity="0.8"/>
<line x1="699.63" y1="65.68" x2="699.63" y2="88.77" stroke="#3C64D0" stroke-width="1" stroke-opacity="0.8"/>
<circle cx="514.27" cy="50.99" r="1.62" fill="#FFB81C"/>
<circle cx="715.96" cy="50.99" r="1.62" fill="#FFB81C"/>
<circle cx="520.39" cy="66.21" r="1.62" fill="#6A3494"/>
<circle cx="722.08" cy="66.21" r="1.62" fill="#6A3494"/>
<circle cx="523.02" cy="67.26" r="1.62" fill="#C8143C"/>
<circle cx="724.71" cy="67.26" r="1.62" fill="#C8143C"/>
<circle cx="524.42" cy="58.86" r="1.62" fill="#2AAAFF"/>
<circle cx="726.11" cy="58.86" r="1.62" fill="#2AAAFF"/>
<circle cx="530.89" cy="49.24" r="1.62" fill="#6A3494"/>
<circle cx="732.58" cy="49.24" r="1.62" fill="#6A3494"/>
<circle cx="535.26" cy="64.28" r="1.62" fill="#2AAAFF"/>
<circle cx="736.95" cy="64.28" r="1.62" fill="#2AAAFF"/>
<circle cx="536.66" cy="61.66" r="1.62" fill="#C8143C"/>
<circle cx="738.35" cy="61.66" r="1.62" fill="#C8143C"/>
<circle cx="539.63" cy="61.14" r="1.62" fill="#3C64D0"/>
<circle cx="741.32" cy="61.14" r="1.62" fill="#3C64D0"/>
<circle cx="546.46" cy="58.34" r="1.62" fill="#96145A"/>
<circle cx="748.15" cy="58.34" r="1.62" fill="#96145A"/>
<circle cx="559.22" cy="49.77" r="1.62" fill="#6A3494"/>
<circle cx="760.91" cy="49.77" r="1.62" fill="#6A3494"/>
<circle cx="566.4" cy="63.76" r="1.62" fill="#C8143C"/>
<circle cx="768.09" cy="63.76" r="1.62" fill="#C8143C"/>
<circle cx="570.42" cy="59.56" r="1.62" fill="#6A3494"/>
<circle cx="772.11" cy="59.56" r="1.62" fill="#6A3494"/>
<circle cx="582.49" cy="66.73" r="1.62" fill="#6A3494"/>
<circle cx="784.18" cy="66.73" r="1.62" fill="#6A3494"/>
<circle cx="586.16" cy="56.41" r="1.62" fill="#3C64D0"/>
<circle cx="787.85" cy="56.41" r="1.62" fill="#3C64D0"/>
<circle cx="591.41" cy="60.96" r="1.62" fill="#C8143C"/>
<circle cx="793.1" cy="60.96" r="1.62" fill="#C8143C"/>
<circle cx="593.16" cy="66.91" r="1.62" fill="#3C64D0"/>
<circle cx="794.85" cy="66.91" r="1.62" fill="#3C64D0"/>
<circle cx="597.88" cy="92.97" r="1.62" fill="#C8143C"/>
<circle cx="799.57" cy="92.97" r="1.62" fill="#C8143C"/>
<circle cx="602.6" cy="80.38" r="1.62" fill="#2AAAFF"/>
<circle cx="804.29" cy="80.38" r="1.62" fill="#2AAAFF"/>
<circle cx="602.95" cy="91.57" r="1.62" fill="#3C64D0"/>
<circle cx="804.64" cy="91.57" r="1.62" fill="#3C64D0"/>
<circle cx="609.37" cy="111.51" r="1.62" fill="#6A3494"/>
<circle cx="811.06" cy="111.51" r="1.62" fill="#6A3494"/>
<circle cx="616.19" cy="119.56" r="1.62" fill="#3C64D0"/>
<circle cx="817.88" cy="119.56" r="1.62" fill="#3C64D0"/>
<circle cx="617.24" cy="151.22" r="1.62" fill="#3C64D0"/>
<circle cx="818.93" cy="151.22" r="1.62" fill="#3C64D0"/>
<circle cx="618.47" cy="106.61" r="1.62" fill="#96145A"/>
<circle cx="820.16" cy="106.61" r="1.62" fill="#96145A"/>
<circle cx="622.49" cy="107.84" r="1.62" fill="#6A3494"/>
<circle cx="824.18" cy="107.84" r="1.62" fill="#6A3494"/>
<circle cx="623.37" cy="116.93" r="1.62" fill="#3C64D0"/>
<circle cx="825.06" cy="116.93" r="1.62" fill="#3C64D0"/>
<circle cx="624.42" cy="117.98" r="1.62" fill="#C8143C"/>
<circle cx="826.11" cy="117.98" r="1.62" fill="#C8143C"/>
<circle cx="633.34" cy="117.11" r="1.62" fill="#3C64D0"/>
<circle cx="635.09" cy="143.35" r="1.62" fill="#2AAAFF"/>
<circle cx="639.63" cy="124.8" r="1.62" fill="#3C64D0"/>
<circle cx="639.63" cy="130.05" r="1.62" fill="#2AAAFF"/>
<circle cx="642.08" cy="120.43" r="1.62" fill="#96145A"/>
<circle cx="643.83" cy="127.08" r="1.62" fill="#F05A20"/>
<circle cx="645.93" cy="99.62" r="1.62" fill="#3C64D0"/>
<circle cx="648.38" cy="124.98" r="1.62" fill="#C8143C"/>
<circle cx="649.43" cy="109.59" r="1.62" fill="#6A3494"/>
<circle cx="659.22" cy="115.36" r="1.62" fill="#3C64D0"/>
<circle cx="662.37" cy="110.11" r="1.62" fill="#6A3494"/>
<circle cx="665.52" cy="115.01" r="1.62" fill="#3C64D0"/>
<circle cx="670.42" cy="103.47" r="1.62" fill="#3C64D0"/>
<circle cx="672.34" cy="102.07" r="1.62" fill="#2AAAFF"/>
<circle cx="674.44" cy="78.63" r="1.62" fill="#6A3494"/>
<circle cx="675.84" cy="104.51" r="1.62" fill="#6A3494"/>
<circle cx="683.54" cy="87.02" r="1.62" fill="#3C64D0"/>
<circle cx="687.04" cy="104.69" r="1.62" fill="#6A3494"/>
<circle cx="688.26" cy="74.78" r="1.62" fill="#6A3494"/>
<circle cx="697.71" cy="83.35" r="1.62" fill="#6A3494"/>
<circle cx="699.63" cy="77.23" r="1.62" fill="#3C64D0"/>
<path d="M502.18 71.97L504.18 70.39L506.18 68.88L508.18 67.52L510.18 66.3L512.18 65.19L514.18 64.14L516.18 63.22L518.18 62.44L520.18 61.75L522.18 61.09L524.18 60.44L526.18 59.82L528.18 59.25L530.18 58.74L532.18 58.33L534.18 58.03L536.18 57.82L538.18 57.64L540.18 57.44L542.18 57.22L544.18 57.01L546.18 56.81L548.18 56.63L550.18 56.46L552.18 56.3L554.18 56.15L556.18 56.07L558.18 56.07L560.18 56.14L562.18 56.28L564.18 56.48L566.18 56.76L568.18 57.08L570.18 57.45L572.18 57.92L574.18 58.56L576.18 59.4L578.18 60.38L580.18 61.53L582.18 62.9L584.18 64.53L586.18 66.33L588.18 68.35L590.18 70.67L592.18 73.35L594.18 76.47L596.18 79.93L598.18 83.61L600.18 87.39L602.18 91.14L604.18 94.83L606.18 98.7L608.18 102.62L610.18 106.42L612.18 109.88L614.18 112.82L616.18 115.14L618.18 116.93L620.18 118.36L622.18 119.57L624.18 120.61L626.18 121.42L628.18 122.03L630.18 122.49L632.18 122.83L634.18 123.01L636.18 122.93L638.18 122.62L640.18 122.12L642.18 121.42L644.18 120.56L646.18 119.59L648.18 118.59L650.18 117.6L652.18 116.57L654.18 115.49L656.18 114.36L658.18 113.18L660.18 111.96L662.18 110.69L664.18 109.34L666.18 107.85L668.18 106.22L670.18 104.45L672.18 102.59L674.18 100.7L676.18 98.78L678.18 96.82L680.18 94.81L682.18 92.78L684.18 90.71L686.18 88.56L688.18 86.35L690.18 84.2L692.18 82.19L694.18 80.34L696.18 78.53L698.18 76.75L700.18 75.03L702.18 73.35L704.18 71.72L706.18 70.15L708.18 68.66L710.18 67.33L712.18 66.12L714.18 65.02L716.18 63.99L718.18 63.09L720.18 62.33L722.18 61.65L724.18 60.99L726.18 60.34L728.18 59.73L730.18 59.16L732.18 58.67L734.18 58.27L736.18 58L738.18 57.79L740.18 57.61L742.18 57.4L744.18 57.19L746.18 56.98L748.18 56.78L750.18 56.61L752.18 56.44L754.18 56.27L756.18 56.14L758.18 56.07L760.18 56.08L762.18 56.16L764.18 56.3L766.18 56.52L768.18 56.81L770.18 57.13L772.18 57.51L774.18 58L776.18 58.68L778.18 59.54L780.18 60.55L782.18 61.73L784.18 63.14L786.18 64.8L788.18 66.63L790.18 68.69L792.18 71.05L794.18 73.81L796.18 76.98L798.18 80.49L800.18 84.19L802.18 87.98L804.18 91.72L806.18 95.42L808.18 99.31L810.18 103.23L812.18 106.98L814.18 110.37L816.18 113.22L818.18 115.45L820.18 117.18L822.18 118.56L824.18 119.74L826.18 120.75L828.18 121.53" fill="none" stroke="#000" stroke-width="1.1"/>
</g>
<rect x="502.18" y="33.26" width="326.73" height="134.24" fill="none" stroke="#000" stroke-width="1"/>
<path d="M514.28 167.5v5.9M615.12 167.5v5.9M715.97 167.5v5.9M816.81 167.5v5.9" stroke="#000" stroke-width="1" fill="none" stroke-linecap="round"/>
<text x="514.28" y="188" font-size="9.24" text-anchor="middle">0.0</text>
<text x="615.12" y="188" font-size="9.24" text-anchor="middle">0.5</text>
<text x="715.97" y="188" font-size="9.24" text-anchor="middle">1.0</text>
<text x="816.81" y="188" font-size="9.24" text-anchor="middle">1.5</text>
<path d="M502.18 146.6h-5.9M502.18 118.5h-5.9M502.18 90.4h-5.9M502.18 62.3h-5.9M502.18 34.2h-5.9" stroke="#000" stroke-width="1" fill="none" stroke-linecap="round"/>
<text x="488.98" y="147.2" font-size="9.24" text-anchor="middle" transform="rotate(-90 488.98 147.2)">-10</text>
<text x="488.98" y="119.1" font-size="9.24" text-anchor="middle" transform="rotate(-90 488.98 119.1)">-5</text>
<text x="488.98" y="91" font-size="9.24" text-anchor="middle" transform="rotate(-90 488.98 91)">0</text>
<text x="488.98" y="62.9" font-size="9.24" text-anchor="middle" transform="rotate(-90 488.98 62.9)">5</text>
<text x="488.98" y="34.8" font-size="9.24" text-anchor="middle" transform="rotate(-90 488.98 34.8)">10</text>
<text x="666.75" y="26.06" font-size="9.24" text-anchor="middle" font-weight="bold">PC1 folded light curve (PC1 frequency)</text>
<text x="665.54" y="199" font-size="9.24" text-anchor="middle">Phase</text>
<clipPath id="c5"><rect x="502.18" y="222.94" width="326.73" height="128.91"/></clipPath>
<g clip-path="url(#c5)">
<line x1="514.27" y1="315.33" x2="514.27" y2="330.2" stroke="#FFB81C" stroke-width="1" stroke-opacity="0.8"/>
<line x1="715.96" y1="315.33" x2="715.96" y2="330.2" stroke="#FFB81C" stroke-width="1" stroke-opacity="0.8"/>
<line x1="520.39" y1="299.94" x2="520.39" y2="315.85" stroke="#6A3494" stroke-width="1" stroke-opacity="0.8"/>
<line x1="722.08" y1="299.94" x2="722.08" y2="315.85" stroke="#6A3494" stroke-width="1" stroke-opacity="0.8"/>
<line x1="521.09" y1="307.46" x2="521.09" y2="331.07" stroke="#2AAAFF" stroke-width="1" stroke-opacity="0.8"/>
<line x1="722.78" y1="307.46" x2="722.78" y2="331.07" stroke="#2AAAFF" stroke-width="1" stroke-opacity="0.8"/>
<line x1="523.02" y1="306.58" x2="523.02" y2="321.45" stroke="#96145A" stroke-width="1" stroke-opacity="0.8"/>
<line x1="724.71" y1="306.58" x2="724.71" y2="321.45" stroke="#96145A" stroke-width="1" stroke-opacity="0.8"/>
<line x1="523.54" y1="314.46" x2="523.54" y2="328.45" stroke="#C8143C" stroke-width="1" stroke-opacity="0.8"/>
<line x1="725.23" y1="314.46" x2="725.23" y2="328.45" stroke="#C8143C" stroke-width="1" stroke-opacity="0.8"/>
<line x1="524.42" y1="306.06" x2="524.42" y2="330.2" stroke="#2AAAFF" stroke-width="1" stroke-opacity="0.8"/>
<line x1="726.11" y1="306.06" x2="726.11" y2="330.2" stroke="#2AAAFF" stroke-width="1" stroke-opacity="0.8"/>
<line x1="530.89" y1="323.2" x2="530.89" y2="337.54" stroke="#6A3494" stroke-width="1" stroke-opacity="0.8"/>
<line x1="732.58" y1="323.2" x2="732.58" y2="337.54" stroke="#6A3494" stroke-width="1" stroke-opacity="0.8"/>
<line x1="535.26" y1="300.46" x2="535.26" y2="347.34" stroke="#2AAAFF" stroke-width="1" stroke-opacity="0.8"/>
<line x1="736.95" y1="300.46" x2="736.95" y2="347.34" stroke="#2AAAFF" stroke-width="1" stroke-opacity="0.8"/>
<line x1="536.66" y1="307.98" x2="536.66" y2="322.85" stroke="#C8143C" stroke-width="1" stroke-opacity="0.8"/>
<line x1="738.35" y1="307.98" x2="738.35" y2="322.85" stroke="#C8143C" stroke-width="1" stroke-opacity="0.8"/>
<line x1="539.63" y1="302.21" x2="539.63" y2="328.45" stroke="#3C64D0" stroke-width="1" stroke-opacity="0.8"/>
<line x1="741.32" y1="302.21" x2="741.32" y2="328.45" stroke="#3C64D0" stroke-width="1" stroke-opacity="0.8"/>
<line x1="540.33" y1="305.71" x2="540.33" y2="331.07" stroke="#3C64D0" stroke-width="1" stroke-opacity="0.8"/>
<line x1="742.02" y1="305.71" x2="742.02" y2="331.07" stroke="#3C64D0" stroke-width="1" stroke-opacity="0.8"/>
<line x1="546.46" y1="306.58" x2="546.46" y2="321.1" stroke="#96145A" stroke-width="1" stroke-opacity="0.8"/>
<line x1="748.15" y1="306.58" x2="748.15" y2="321.1" stroke="#96145A" stroke-width="1" stroke-opacity="0.8"/>
<line x1="551.35" y1="306.93" x2="551.35" y2="339.29" stroke="#3C64D0" stroke-width="1" stroke-opacity="0.8"/>
<line x1="753.04" y1="306.93" x2="753.04" y2="339.29" stroke="#3C64D0" stroke-width="1" stroke-opacity="0.8"/>
<line x1="559.22" y1="318.83" x2="559.22" y2="334.57" stroke="#6A3494" stroke-width="1" stroke-opacity="0.8"/>
<line x1="760.91" y1="318.83" x2="760.91" y2="334.57" stroke="#6A3494" stroke-width="1" stroke-opacity="0.8"/>
<line x1="566.4" y1="300.99" x2="566.4" y2="315.85" stroke="#C8143C" stroke-width="1" stroke-opacity="0.8"/>
<line x1="768.09" y1="300.99" x2="768.09" y2="315.85" stroke="#C8143C" stroke-width="1" stroke-opacity="0.8"/>
<line x1="570.42" y1="307.81" x2="570.42" y2="325.3" stroke="#6A3494" stroke-width="1" stroke-opacity="0.8"/>
<line x1="772.11" y1="307.81" x2="772.11" y2="325.3" stroke="#6A3494" stroke-width="1" stroke-opacity="0.8"/>
<line x1="579.86" y1="292.59" x2="579.86" y2="306.06" stroke="#C8143C" stroke-width="1" stroke-opacity="0.8"/>
<line x1="781.55" y1="292.59" x2="781.55" y2="306.06" stroke="#C8143C" stroke-width="1" stroke-opacity="0.8"/>
<line x1="582.49" y1="297.49" x2="582.49" y2="313.58" stroke="#6A3494" stroke-width="1" stroke-opacity="0.8"/>
<line x1="784.18" y1="297.49" x2="784.18" y2="313.58" stroke="#6A3494" stroke-width="1" stroke-opacity="0.8"/>
<line x1="586.16" y1="296.09" x2="586.16" y2="323.2" stroke="#3C64D0" stroke-width="1" stroke-opacity="0.8"/>
<line x1="787.85" y1="296.09" x2="787.85" y2="323.2" stroke="#3C64D0" stroke-width="1" stroke-opacity="0.8"/>
<line x1="591.41" y1="304.83" x2="591.41" y2="320.05" stroke="#C8143C" stroke-width="1" stroke-opacity="0.8"/>
<line x1="793.1" y1="304.83" x2="793.1" y2="320.05" stroke="#C8143C" stroke-width="1" stroke-opacity="0.8"/>
<line x1="593.16" y1="291.72" x2="593.16" y2="318.83" stroke="#3C64D0" stroke-width="1" stroke-opacity="0.8"/>
<line x1="794.85" y1="291.72" x2="794.85" y2="318.83" stroke="#3C64D0" stroke-width="1" stroke-opacity="0.8"/>
<line x1="597.88" y1="278.25" x2="597.88" y2="292.07" stroke="#C8143C" stroke-width="1" stroke-opacity="0.8"/>
<line x1="799.57" y1="278.25" x2="799.57" y2="292.07" stroke="#C8143C" stroke-width="1" stroke-opacity="0.8"/>
<line x1="602.6" y1="285.07" x2="602.6" y2="304.83" stroke="#2AAAFF" stroke-width="1" stroke-opacity="0.8"/>
<line x1="804.29" y1="285.07" x2="804.29" y2="304.83" stroke="#2AAAFF" stroke-width="1" stroke-opacity="0.8"/>
<line x1="602.95" y1="275.1" x2="602.95" y2="297.84" stroke="#3C64D0" stroke-width="1" stroke-opacity="0.8"/>
<line x1="804.64" y1="275.1" x2="804.64" y2="297.84" stroke="#3C64D0" stroke-width="1" stroke-opacity="0.8"/>
<line x1="609.37" y1="253.23" x2="609.37" y2="274.22" stroke="#6A3494" stroke-width="1" stroke-opacity="0.8"/>
<line x1="811.06" y1="253.23" x2="811.06" y2="274.22" stroke="#6A3494" stroke-width="1" stroke-opacity="0.8"/>
<line x1="616.19" y1="244.49" x2="616.19" y2="265.83" stroke="#3C64D0" stroke-width="1" stroke-opacity="0.8"/>
<line x1="817.88" y1="244.49" x2="817.88" y2="265.83" stroke="#3C64D0" stroke-width="1" stroke-opacity="0.8"/>
<line x1="616.19" y1="267.23" x2="616.19" y2="286.47" stroke="#2AAAFF" stroke-width="1" stroke-opacity="0.8"/>
<line x1="817.88" y1="267.23" x2="817.88" y2="286.47" stroke="#2AAAFF" stroke-width="1" stroke-opacity="0.8"/>
<line x1="617.24" y1="227.35" x2="617.24" y2="243.61" stroke="#3C64D0" stroke-width="1" stroke-opacity="0.8"/>
<line x1="818.93" y1="227.35" x2="818.93" y2="243.61" stroke="#3C64D0" stroke-width="1" stroke-opacity="0.8"/>
<line x1="618.47" y1="260.58" x2="618.47" y2="289.62" stroke="#96145A" stroke-width="1" stroke-opacity="0.8"/>
<line x1="820.16" y1="260.58" x2="820.16" y2="289.62" stroke="#96145A" stroke-width="1" stroke-opacity="0.8"/>
<line x1="622.49" y1="265.48" x2="622.49" y2="279.12" stroke="#6A3494" stroke-width="1" stroke-opacity="0.8"/>
<line x1="824.18" y1="265.48" x2="824.18" y2="279.12" stroke="#6A3494" stroke-width="1" stroke-opacity="0.8"/>
<line x1="623.37" y1="252.88" x2="623.37" y2="274.57" stroke="#3C64D0" stroke-width="1" stroke-opacity="0.8"/>
<line x1="825.06" y1="252.88" x2="825.06" y2="274.57" stroke="#3C64D0" stroke-width="1" stroke-opacity="0.8"/>
<line x1="624.42" y1="259.36" x2="624.42" y2="271.6" stroke="#C8143C" stroke-width="1" stroke-opacity="0.8"/>
<line x1="826.11" y1="259.36" x2="826.11" y2="271.6" stroke="#C8143C" stroke-width="1" stroke-opacity="0.8"/>
<line x1="633.34" y1="247.11" x2="633.34" y2="276.85" stroke="#3C64D0" stroke-width="1" stroke-opacity="0.8"/>
<line x1="635.09" y1="237.14" x2="635.09" y2="259.36" stroke="#2AAAFF" stroke-width="1" stroke-opacity="0.8"/>
<line x1="637.01" y1="227.35" x2="637.01" y2="242.74" stroke="#2AAAFF" stroke-width="1" stroke-opacity="0.8"/>
<line x1="639.63" y1="236.09" x2="639.63" y2="267.23" stroke="#2AAAFF" stroke-width="1" stroke-opacity="0.8"/>
<line x1="639.63" y1="254.98" x2="639.63" y2="274.57" stroke="#3C64D0" stroke-width="1" stroke-opacity="0.8"/>
<line x1="642.08" y1="257.61" x2="642.08" y2="268.98" stroke="#96145A" stroke-width="1" stroke-opacity="0.8"/>
<line x1="643.83" y1="258.83" x2="643.83" y2="272.13" stroke="#F05A20" stroke-width="1" stroke-opacity="0.8"/>
<line x1="648.38" y1="261.63" x2="648.38" y2="273.87" stroke="#C8143C" stroke-width="1" stroke-opacity="0.8"/>
<line x1="645.93" y1="277.37" x2="645.93" y2="297.31" stroke="#3C64D0" stroke-width="1" stroke-opacity="0.8"/>
<line x1="649.43" y1="269.85" x2="649.43" y2="284.72" stroke="#6A3494" stroke-width="1" stroke-opacity="0.8"/>
<line x1="659.22" y1="262.5" x2="659.22" y2="285.07" stroke="#3C64D0" stroke-width="1" stroke-opacity="0.8"/>
<line x1="662.37" y1="269.85" x2="662.37" y2="284.37" stroke="#6A3494" stroke-width="1" stroke-opacity="0.8"/>
<line x1="665.52" y1="267.58" x2="665.52" y2="283.32" stroke="#3C64D0" stroke-width="1" stroke-opacity="0.8"/>
<line x1="670.42" y1="270.73" x2="670.42" y2="289.97" stroke="#3C64D0" stroke-width="1" stroke-opacity="0.8"/>
<line x1="672.34" y1="275.97" x2="672.34" y2="297.84" stroke="#2AAAFF" stroke-width="1" stroke-opacity="0.8"/>
<line x1="674.44" y1="291.37" x2="674.44" y2="316.55" stroke="#6A3494" stroke-width="1" stroke-opacity="0.8"/>
<line x1="675.84" y1="273.87" x2="675.84" y2="288.22" stroke="#6A3494" stroke-width="1" stroke-opacity="0.8"/>
<line x1="683.54" y1="288.22" x2="683.54" y2="306.58" stroke="#3C64D0" stroke-width="1" stroke-opacity="0.8"/>
<line x1="687.04" y1="264.08" x2="687.04" y2="309.21" stroke="#6A3494" stroke-width="1" stroke-opacity="0.8"/>
<line x1="688.26" y1="269.85" x2="688.26" y2="334.05" stroke="#6A3494" stroke-width="1" stroke-opacity="0.8"/>
<line x1="693.33" y1="279.82" x2="693.33" y2="302.56" stroke="#3C64D0" stroke-width="1" stroke-opacity="0.8"/>
<line x1="697.71" y1="292.59" x2="697.71" y2="309.21" stroke="#6A3494" stroke-width="1" stroke-opacity="0.8"/>
<line x1="699.11" y1="291.37" x2="699.11" y2="310.61" stroke="#3C64D0" stroke-width="1" stroke-opacity="0.8"/>
<line x1="699.63" y1="296.96" x2="699.63" y2="315.33" stroke="#3C64D0" stroke-width="1" stroke-opacity="0.8"/>
<line x1="704.18" y1="303.96" x2="704.18" y2="320.58" stroke="#6A3494" stroke-width="1" stroke-opacity="0.8"/>
<circle cx="514.27" cy="322.5" r="1.62" fill="#FFB81C"/>
<circle cx="715.96" cy="322.5" r="1.62" fill="#FFB81C"/>
<circle cx="520.39" cy="307.81" r="1.62" fill="#6A3494"/>
<circle cx="722.08" cy="307.81" r="1.62" fill="#6A3494"/>
<circle cx="521.09" cy="319.18" r="1.62" fill="#2AAAFF"/>
<circle cx="722.78" cy="319.18" r="1.62" fill="#2AAAFF"/>
<circle cx="523.02" cy="313.93" r="1.62" fill="#96145A"/>
<circle cx="724.71" cy="313.93" r="1.62" fill="#96145A"/>
<circle cx="523.54" cy="321.45" r="1.62" fill="#C8143C"/>
<circle cx="725.23" cy="321.45" r="1.62" fill="#C8143C"/>
<circle cx="524.42" cy="317.95" r="1.62" fill="#2AAAFF"/>
<circle cx="726.11" cy="317.95" r="1.62" fill="#2AAAFF"/>
<circle cx="530.89" cy="330.37" r="1.62" fill="#6A3494"/>
<circle cx="732.58" cy="330.37" r="1.62" fill="#6A3494"/>
<circle cx="535.26" cy="324.08" r="1.62" fill="#2AAAFF"/>
<circle cx="736.95" cy="324.08" r="1.62" fill="#2AAAFF"/>
<circle cx="536.66" cy="315.33" r="1.62" fill="#C8143C"/>
<circle cx="738.35" cy="315.33" r="1.62" fill="#C8143C"/>
<circle cx="539.63" cy="315.33" r="1.62" fill="#3C64D0"/>
<circle cx="741.32" cy="315.33" r="1.62" fill="#3C64D0"/>
<circle cx="540.33" cy="318.3" r="1.62" fill="#3C64D0"/>
<circle cx="742.02" cy="318.3" r="1.62" fill="#3C64D0"/>
<circle cx="546.46" cy="313.76" r="1.62" fill="#96145A"/>
<circle cx="748.15" cy="313.76" r="1.62" fill="#96145A"/>
<circle cx="551.35" cy="323.2" r="1.62" fill="#3C64D0"/>
<circle cx="753.04" cy="323.2" r="1.62" fill="#3C64D0"/>
<circle cx="559.22" cy="326.7" r="1.62" fill="#6A3494"/>
<circle cx="760.91" cy="326.7" r="1.62" fill="#6A3494"/>
<circle cx="566.4" cy="308.33" r="1.62" fill="#C8143C"/>
<circle cx="768.09" cy="308.33" r="1.62" fill="#C8143C"/>
<circle cx="570.42" cy="316.2" r="1.62" fill="#6A3494"/>
<circle cx="772.11" cy="316.2" r="1.62" fill="#6A3494"/>
<circle cx="579.86" cy="299.41" r="1.62" fill="#C8143C"/>
<circle cx="781.55" cy="299.41" r="1.62" fill="#C8143C"/>
<circle cx="582.49" cy="305.36" r="1.62" fill="#6A3494"/>
<circle cx="784.18" cy="305.36" r="1.62" fill="#6A3494"/>
<circle cx="586.16" cy="309.73" r="1.62" fill="#3C64D0"/>
<circle cx="787.85" cy="309.73" r="1.62" fill="#3C64D0"/>
<circle cx="591.41" cy="312.36" r="1.62" fill="#C8143C"/>
<circle cx="793.1" cy="312.36" r="1.62" fill="#C8143C"/>
<circle cx="593.16" cy="305.36" r="1.62" fill="#3C64D0"/>
<circle cx="794.85" cy="305.36" r="1.62" fill="#3C64D0"/>
<circle cx="597.88" cy="285.24" r="1.62" fill="#C8143C"/>
<circle cx="799.57" cy="285.24" r="1.62" fill="#C8143C"/>
<circle cx="602.6" cy="294.69" r="1.62" fill="#2AAAFF"/>
<circle cx="804.29" cy="294.69" r="1.62" fill="#2AAAFF"/>
<circle cx="602.95" cy="286.47" r="1.62" fill="#3C64D0"/>
<circle cx="804.64" cy="286.47" r="1.62" fill="#3C64D0"/>
<circle cx="609.37" cy="263.73" r="1.62" fill="#6A3494"/>
<circle cx="811.06" cy="263.73" r="1.62" fill="#6A3494"/>
<circle cx="616.19" cy="255.16" r="1.62" fill="#3C64D0"/>
<circle cx="817.88" cy="255.16" r="1.62" fill="#3C64D0"/>
<circle cx="616.19" cy="276.85" r="1.62" fill="#2AAAFF"/>
<circle cx="817.88" cy="276.85" r="1.62" fill="#2AAAFF"/>
<circle cx="617.24" cy="235.57" r="1.62" fill="#3C64D0"/>
<circle cx="818.93" cy="235.57" r="1.62" fill="#3C64D0"/>
<circle cx="618.47" cy="275.1" r="1.62" fill="#96145A"/>
<circle cx="820.16" cy="275.1" r="1.62" fill="#96145A"/>
<circle cx="622.49" cy="272.13" r="1.62" fill="#6A3494"/>
<circle cx="824.18" cy="272.13" r="1.62" fill="#6A3494"/>
<circle cx="623.37" cy="263.73" r="1.62" fill="#3C64D0"/>
<circle cx="825.06" cy="263.73" r="1.62" fill="#3C64D0"/>
<circle cx="624.42" cy="265.48" r="1.62" fill="#C8143C"/>
<circle cx="826.11" cy="265.48" r="1.62" fill="#C8143C"/>
<circle cx="633.34" cy="261.98" r="1.62" fill="#3C64D0"/>
<circle cx="635.09" cy="247.99" r="1.62" fill="#2AAAFF"/>
<circle cx="637.01" cy="235.04" r="1.62" fill="#2AAAFF"/>
<circle cx="639.63" cy="251.66" r="1.62" fill="#2AAAFF"/>
<circle cx="639.63" cy="264.78" r="1.62" fill="#3C64D0"/>
<circle cx="642.08" cy="263.2" r="1.62" fill="#96145A"/>
<circle cx="643.83" cy="265.13" r="1.62" fill="#F05A20"/>
<circle cx="648.38" cy="267.58" r="1.62" fill="#C8143C"/>
<circle cx="645.93" cy="287.34" r="1.62" fill="#3C64D0"/>
<circle cx="649.43" cy="277.02" r="1.62" fill="#6A3494"/>
<circle cx="659.22" cy="273.7" r="1.62" fill="#3C64D0"/>
<circle cx="662.37" cy="276.85" r="1.62" fill="#6A3494"/>
<circle cx="665.52" cy="275.62" r="1.62" fill="#3C64D0"/>
<circle cx="670.42" cy="280.35" r="1.62" fill="#3C64D0"/>
<circle cx="672.34" cy="286.82" r="1.62" fill="#2AAAFF"/>
<circle cx="674.44" cy="303.96" r="1.62" fill="#6A3494"/>
<circle cx="675.84" cy="280.87" r="1.62" fill="#6A3494"/>
<circle cx="683.54" cy="297.31" r="1.62" fill="#3C64D0"/>
<circle cx="687.04" cy="286.47" r="1.62" fill="#6A3494"/>
<circle cx="688.26" cy="301.86" r="1.62" fill="#6A3494"/>
<circle cx="693.33" cy="291.19" r="1.62" fill="#3C64D0"/>
<circle cx="697.71" cy="300.81" r="1.62" fill="#6A3494"/>
<circle cx="699.11" cy="300.81" r="1.62" fill="#3C64D0"/>
<circle cx="699.63" cy="305.71" r="1.62" fill="#3C64D0"/>
<circle cx="704.18" cy="312.18" r="1.62" fill="#6A3494"/>
<path d="M502.18 309.48L504.18 310.65L506.18 311.81L508.18 312.99L510.18 314.13L512.18 315.17L514.18 316.03L516.18 316.65L518.18 317.11L520.18 317.52L522.18 317.99L524.18 318.54L526.18 319.1L528.18 319.62L530.18 320.05L532.18 320.35L534.18 320.51L536.18 320.58L538.18 320.58L540.18 320.58L542.18 320.56L544.18 320.51L546.18 320.41L548.18 320.27L550.18 320.09L552.18 319.88L554.18 319.62L556.18 319.27L558.18 318.83L560.18 318.29L562.18 317.66L564.18 316.97L566.18 316.21L568.18 315.43L570.18 314.59L572.18 313.68L574.18 312.63L576.18 311.42L578.18 310.1L580.18 308.65L582.18 307.05L584.18 305.25L586.18 303.27L588.18 301.11L590.18 298.81L592.18 296.41L594.18 293.88L596.18 291.23L598.18 288.5L600.18 285.74L602.18 283.03L604.18 280.37L606.18 277.65L608.18 274.92L610.18 272.28L612.18 269.82L614.18 267.63L616.18 265.73L618.18 264.1L620.18 262.73L622.18 261.6L624.18 260.7L626.18 260.02L628.18 259.54L630.18 259.24L632.18 259.09L634.18 259.14L636.18 259.44L638.18 260L640.18 260.86L642.18 262.07L644.18 263.56L646.18 265.19L648.18 266.81L650.18 268.36L652.18 269.92L654.18 271.52L656.18 273.15L658.18 274.85L660.18 276.62L662.18 278.45L664.18 280.28L666.18 282.08L668.18 283.83L670.18 285.57L672.18 287.29L674.18 288.98L676.18 290.64L678.18 292.29L680.18 293.9L682.18 295.47L684.18 296.97L686.18 298.41L688.18 299.78L690.18 301.11L692.18 302.4L694.18 303.65L696.18 304.89L698.18 306.1L700.18 307.3L702.18 308.49L704.18 309.66L706.18 310.83L708.18 312L710.18 313.17L712.18 314.3L714.18 315.32L716.18 316.14L718.18 316.73L720.18 317.17L722.18 317.58L724.18 318.08L726.18 318.63L728.18 319.18L730.18 319.69L732.18 320.11L734.18 320.39L736.18 320.53L738.18 320.58L740.18 320.58L742.18 320.58L744.18 320.55L746.18 320.49L748.18 320.39L750.18 320.25L752.18 320.06L754.18 319.84L756.18 319.57L758.18 319.21L760.18 318.75L762.18 318.2L764.18 317.56L766.18 316.85L768.18 316.09L770.18 315.3L772.18 314.46L774.18 313.52L776.18 312.45L778.18 311.23L780.18 309.89L782.18 308.41L784.18 306.78L786.18 304.96L788.18 302.95L790.18 300.76L792.18 298.45L794.18 296.03L796.18 293.48L798.18 290.81L800.18 288.07L802.18 285.32L804.18 282.62L806.18 279.95L808.18 277.22L810.18 274.5L812.18 271.88L814.18 269.46L816.18 267.32L818.18 265.46L820.18 263.88L822.18 262.54L824.18 261.45L826.18 260.58L828.18 259.93" fill="none" stroke="#000" stroke-width="1.1"/>
</g>
<rect x="502.18" y="222.94" width="326.73" height="128.91" fill="none" stroke="#000" stroke-width="1"/>
<path d="M514.28 351.85v5.9M615.12 351.85v5.9M715.97 351.85v5.9M816.81 351.85v5.9" stroke="#000" stroke-width="1" fill="none" stroke-linecap="round"/>
<text x="514.28" y="372.35" font-size="9.24" text-anchor="middle">0.0</text>
<text x="615.12" y="372.35" font-size="9.24" text-anchor="middle">0.5</text>
<text x="715.97" y="372.35" font-size="9.24" text-anchor="middle">1.0</text>
<text x="816.81" y="372.35" font-size="9.24" text-anchor="middle">1.5</text>
<path d="M502.18 226.4h-5.9M502.18 247.8h-5.9M502.18 269.2h-5.9M502.18 290.6h-5.9M502.18 312h-5.9M502.18 333.4h-5.9" stroke="#000" stroke-width="1" fill="none" stroke-linecap="round"/>
<text x="488.98" y="248.4" font-size="9.24" text-anchor="middle" transform="rotate(-90 488.98 248.4)">19.5</text>
<text x="488.98" y="291.2" font-size="9.24" text-anchor="middle" transform="rotate(-90 488.98 291.2)">19.7</text>
<text x="488.98" y="334" font-size="9.24" text-anchor="middle" transform="rotate(-90 488.98 334)">19.9</text>
<text x="665.54" y="215.74" font-size="9.24" text-anchor="middle" font-weight="bold">g folded light curve (PC1 frequency)</text>
<text x="665.54" y="383.85" font-size="9.24" text-anchor="middle">Phase</text>
<clipPath id="c7"><rect x="502.18" y="407.29" width="326.73" height="128.91"/></clipPath>
<g clip-path="url(#c7)">
<line x1="514.27" y1="446.88" x2="514.27" y2="476.96" stroke="#FFB81C" stroke-width="1" stroke-opacity="0.8"/>
<line x1="715.96" y1="446.88" x2="715.96" y2="476.96" stroke="#FFB81C" stroke-width="1" stroke-opacity="0.8"/>
<line x1="520.39" y1="445.13" x2="520.39" y2="475.56" stroke="#6A3494" stroke-width="1" stroke-opacity="0.8"/>
<line x1="722.08" y1="445.13" x2="722.08" y2="475.56" stroke="#6A3494" stroke-width="1" stroke-opacity="0.8"/>
<line x1="521.09" y1="441.11" x2="521.09" y2="473.47" stroke="#2AAAFF" stroke-width="1" stroke-opacity="0.8"/>
<line x1="722.78" y1="441.11" x2="722.78" y2="473.47" stroke="#2AAAFF" stroke-width="1" stroke-opacity="0.8"/>
<line x1="523.02" y1="441.98" x2="523.02" y2="465.07" stroke="#96145A" stroke-width="1" stroke-opacity="0.8"/>
<line x1="724.71" y1="441.98" x2="724.71" y2="465.07" stroke="#96145A" stroke-width="1" stroke-opacity="0.8"/>
<line x1="524.42" y1="445.48" x2="524.42" y2="482.56" stroke="#2AAAFF" stroke-width="1" stroke-opacity="0.8"/>
<line x1="726.11" y1="445.48" x2="726.11" y2="482.56" stroke="#2AAAFF" stroke-width="1" stroke-opacity="0.8"/>
<line x1="530.89" y1="439.88" x2="530.89" y2="466.47" stroke="#6A3494" stroke-width="1" stroke-opacity="0.8"/>
<line x1="732.58" y1="439.88" x2="732.58" y2="466.47" stroke="#6A3494" stroke-width="1" stroke-opacity="0.8"/>
<line x1="535.26" y1="418.37" x2="535.26" y2="478.36" stroke="#2AAAFF" stroke-width="1" stroke-opacity="0.8"/>
<line x1="736.95" y1="418.37" x2="736.95" y2="478.36" stroke="#2AAAFF" stroke-width="1" stroke-opacity="0.8"/>
<line x1="536.66" y1="442.5" x2="536.66" y2="467.87" stroke="#C8143C" stroke-width="1" stroke-opacity="0.8"/>
<line x1="738.35" y1="442.5" x2="738.35" y2="467.87" stroke="#C8143C" stroke-width="1" stroke-opacity="0.8"/>
<line x1="539.63" y1="436.73" x2="539.63" y2="480.81" stroke="#3C64D0" stroke-width="1" stroke-opacity="0.8"/>
<line x1="741.32" y1="436.73" x2="741.32" y2="480.81" stroke="#3C64D0" stroke-width="1" stroke-opacity="0.8"/>
<line x1="540.33" y1="435.51" x2="540.33" y2="473.12" stroke="#3C64D0" stroke-width="1" stroke-opacity="0.8"/>
<line x1="742.02" y1="435.51" x2="742.02" y2="473.12" stroke="#3C64D0" stroke-width="1" stroke-opacity="0.8"/>
<line x1="546.46" y1="453" x2="546.46" y2="481.34" stroke="#96145A" stroke-width="1" stroke-opacity="0.8"/>
<line x1="748.15" y1="453" x2="748.15" y2="481.34" stroke="#96145A" stroke-width="1" stroke-opacity="0.8"/>
<line x1="551.35" y1="436.38" x2="551.35" y2="479.06" stroke="#3C64D0" stroke-width="1" stroke-opacity="0.8"/>
<line x1="753.04" y1="436.38" x2="753.04" y2="479.06" stroke="#3C64D0" stroke-width="1" stroke-opacity="0.8"/>
<line x1="559.22" y1="449.5" x2="559.22" y2="476.96" stroke="#6A3494" stroke-width="1" stroke-opacity="0.8"/>
<line x1="760.91" y1="449.5" x2="760.91" y2="476.96" stroke="#6A3494" stroke-width="1" stroke-opacity="0.8"/>
<line x1="566.4" y1="446.35" x2="566.4" y2="479.06" stroke="#C8143C" stroke-width="1" stroke-opacity="0.8"/>
<line x1="768.09" y1="446.35" x2="768.09" y2="479.06" stroke="#C8143C" stroke-width="1" stroke-opacity="0.8"/>
<line x1="570.42" y1="444.08" x2="570.42" y2="474.86" stroke="#6A3494" stroke-width="1" stroke-opacity="0.8"/>
<line x1="772.11" y1="444.08" x2="772.11" y2="474.86" stroke="#6A3494" stroke-width="1" stroke-opacity="0.8"/>
<line x1="579.86" y1="462.62" x2="579.86" y2="487.98" stroke="#C8143C" stroke-width="1" stroke-opacity="0.8"/>
<line x1="781.55" y1="462.62" x2="781.55" y2="487.98" stroke="#C8143C" stroke-width="1" stroke-opacity="0.8"/>
<line x1="582.49" y1="465.07" x2="582.49" y2="492.18" stroke="#6A3494" stroke-width="1" stroke-opacity="0.8"/>
<line x1="784.18" y1="465.07" x2="784.18" y2="492.18" stroke="#6A3494" stroke-width="1" stroke-opacity="0.8"/>
<line x1="586.16" y1="457.37" x2="586.16" y2="495.85" stroke="#3C64D0" stroke-width="1" stroke-opacity="0.8"/>
<line x1="787.85" y1="457.37" x2="787.85" y2="495.85" stroke="#3C64D0" stroke-width="1" stroke-opacity="0.8"/>
<line x1="591.41" y1="447.58" x2="591.41" y2="475.56" stroke="#C8143C" stroke-width="1" stroke-opacity="0.8"/>
<line x1="793.1" y1="447.58" x2="793.1" y2="475.56" stroke="#C8143C" stroke-width="1" stroke-opacity="0.8"/>
<line x1="593.16" y1="460.87" x2="593.16" y2="496.2" stroke="#3C64D0" stroke-width="1" stroke-opacity="0.8"/>
<line x1="794.85" y1="460.87" x2="794.85" y2="496.2" stroke="#3C64D0" stroke-width="1" stroke-opacity="0.8"/>
<line x1="597.88" y1="469.97" x2="597.88" y2="498.3" stroke="#C8143C" stroke-width="1" stroke-opacity="0.8"/>
<line x1="799.57" y1="469.97" x2="799.57" y2="498.3" stroke="#C8143C" stroke-width="1" stroke-opacity="0.8"/>
<line x1="602.6" y1="460.35" x2="602.6" y2="496.2" stroke="#2AAAFF" stroke-width="1" stroke-opacity="0.8"/>
<line x1="804.29" y1="460.35" x2="804.29" y2="496.2" stroke="#2AAAFF" stroke-width="1" stroke-opacity="0.8"/>
<line x1="602.95" y1="463.84" x2="602.95" y2="501.1" stroke="#3C64D0" stroke-width="1" stroke-opacity="0.8"/>
<line x1="804.64" y1="463.84" x2="804.64" y2="501.1" stroke="#3C64D0" stroke-width="1" stroke-opacity="0.8"/>
<line x1="609.37" y1="489.21" x2="609.37" y2="522.09" stroke="#6A3494" stroke-width="1" stroke-opacity="0.8"/>
<line x1="811.06" y1="489.21" x2="811.06" y2="522.09" stroke="#6A3494" stroke-width="1" stroke-opacity="0.8"/>
<line x1="616.19" y1="469.62" x2="616.19" y2="506.35" stroke="#2AAAFF" stroke-width="1" stroke-opacity="0.8"/>
<line x1="817.88" y1="469.62" x2="817.88" y2="506.35" stroke="#2AAAFF" stroke-width="1" stroke-opacity="0.8"/>
<line x1="616.19" y1="487.46" x2="616.19" y2="523.49" stroke="#3C64D0" stroke-width="1" stroke-opacity="0.8"/>
<line x1="817.88" y1="487.46" x2="817.88" y2="523.49" stroke="#3C64D0" stroke-width="1" stroke-opacity="0.8"/>
<line x1="617.24" y1="490.96" x2="617.24" y2="523.49" stroke="#3C64D0" stroke-width="1" stroke-opacity="0.8"/>
<line x1="818.93" y1="490.96" x2="818.93" y2="523.49" stroke="#3C64D0" stroke-width="1" stroke-opacity="0.8"/>
<line x1="618.47" y1="473.47" x2="618.47" y2="509.85" stroke="#96145A" stroke-width="1" stroke-opacity="0.8"/>
<line x1="820.16" y1="473.47" x2="820.16" y2="509.85" stroke="#96145A" stroke-width="1" stroke-opacity="0.8"/>
<line x1="622.49" y1="472.07" x2="622.49" y2="497.95" stroke="#6A3494" stroke-width="1" stroke-opacity="0.8"/>
<line x1="824.18" y1="472.07" x2="824.18" y2="497.95" stroke="#6A3494" stroke-width="1" stroke-opacity="0.8"/>
<line x1="623.37" y1="474.34" x2="623.37" y2="507.57" stroke="#3C64D0" stroke-width="1" stroke-opacity="0.8"/>
<line x1="825.06" y1="474.34" x2="825.06" y2="507.57" stroke="#3C64D0" stroke-width="1" stroke-opacity="0.8"/>
<line x1="624.42" y1="483.61" x2="624.42" y2="508.45" stroke="#C8143C" stroke-width="1" stroke-opacity="0.8"/>
<line x1="826.11" y1="483.61" x2="826.11" y2="508.45" stroke="#C8143C" stroke-width="1" stroke-opacity="0.8"/>
<line x1="633.34" y1="469.09" x2="633.34" y2="510.55" stroke="#3C64D0" stroke-width="1" stroke-opacity="0.8"/>
<line x1="635.09" y1="486.06" x2="635.09" y2="531.54" stroke="#2AAAFF" stroke-width="1" stroke-opacity="0.8"/>
<line x1="637.01" y1="485.71" x2="637.01" y2="513.7" stroke="#2AAAFF" stroke-width="1" stroke-opacity="0.8"/>
<line x1="639.63" y1="479.59" x2="639.63" y2="527.69" stroke="#2AAAFF" stroke-width="1" stroke-opacity="0.8"/>
<line x1="639.63" y1="466.99" x2="639.63" y2="498.3" stroke="#3C64D0" stroke-width="1" stroke-opacity="0.8"/>
<line x1="642.08" y1="485.36" x2="642.08" y2="508.8" stroke="#96145A" stroke-width="1" stroke-opacity="0.8"/>
<line x1="643.83" y1="471.72" x2="643.83" y2="497.08" stroke="#F05A20" stroke-width="1" stroke-opacity="0.8"/>
<line x1="645.93" y1="451.25" x2="645.93" y2="487.11" stroke="#3C64D0" stroke-width="1" stroke-opacity="0.8"/>
<line x1="648.38" y1="461.22" x2="648.38" y2="484.83" stroke="#C8143C" stroke-width="1" stroke-opacity="0.8"/>
<line x1="649.43" y1="460.7" x2="649.43" y2="490.43" stroke="#6A3494" stroke-width="1" stroke-opacity="0.8"/>
<line x1="659.22" y1="458.07" x2="659.22" y2="486.93" stroke="#3C64D0" stroke-width="1" stroke-opacity="0.8"/>
<line x1="662.37" y1="456.32" x2="662.37" y2="481.86" stroke="#6A3494" stroke-width="1" stroke-opacity="0.8"/>
<line x1="665.52" y1="456.32" x2="665.52" y2="500.93" stroke="#3C64D0" stroke-width="1" stroke-opacity="0.8"/>
<line x1="670.42" y1="466.12" x2="670.42" y2="494.46" stroke="#3C64D0" stroke-width="1" stroke-opacity="0.8"/>
<line x1="672.34" y1="448.98" x2="672.34" y2="477.84" stroke="#2AAAFF" stroke-width="1" stroke-opacity="0.8"/>
<line x1="674.44" y1="444.25" x2="674.44" y2="480.81" stroke="#6A3494" stroke-width="1" stroke-opacity="0.8"/>
<line x1="675.84" y1="461.57" x2="675.84" y2="489.21" stroke="#6A3494" stroke-width="1" stroke-opacity="0.8"/>
<line x1="683.54" y1="446.35" x2="683.54" y2="475.56" stroke="#3C64D0" stroke-width="1" stroke-opacity="0.8"/>
<line x1="687.04" y1="411.89" x2="687.04" y2="478.36" stroke="#6A3494" stroke-width="1" stroke-opacity="0.8"/>
<line x1="688.26" y1="420.64" x2="688.26" y2="510.2" stroke="#6A3494" stroke-width="1" stroke-opacity="0.8"/>
<line x1="693.33" y1="462.1" x2="693.33" y2="495.85" stroke="#3C64D0" stroke-width="1" stroke-opacity="0.8"/>
<line x1="697.71" y1="448.1" x2="697.71" y2="482.56" stroke="#6A3494" stroke-width="1" stroke-opacity="0.8"/>
<line x1="699.11" y1="448.1" x2="699.11" y2="476.44" stroke="#3C64D0" stroke-width="1" stroke-opacity="0.8"/>
<line x1="704.18" y1="444.25" x2="704.18" y2="474.16" stroke="#6A3494" stroke-width="1" stroke-opacity="0.8"/>
<circle cx="514.27" cy="461.57" r="1.62" fill="#FFB81C"/>
<circle cx="715.96" cy="461.57" r="1.62" fill="#FFB81C"/>
<circle cx="520.39" cy="460.35" r="1.62" fill="#6A3494"/>
<circle cx="722.08" cy="460.35" r="1.62" fill="#6A3494"/>
<circle cx="521.09" cy="457.37" r="1.62" fill="#2AAAFF"/>
<circle cx="722.78" cy="457.37" r="1.62" fill="#2AAAFF"/>
<circle cx="523.02" cy="453.52" r="1.62" fill="#96145A"/>
<circle cx="724.71" cy="453.52" r="1.62" fill="#96145A"/>
<circle cx="524.42" cy="464.02" r="1.62" fill="#2AAAFF"/>
<circle cx="726.11" cy="464.02" r="1.62" fill="#2AAAFF"/>
<circle cx="530.89" cy="453" r="1.62" fill="#6A3494"/>
<circle cx="732.58" cy="453" r="1.62" fill="#6A3494"/>
<circle cx="535.26" cy="448.45" r="1.62" fill="#2AAAFF"/>
<circle cx="736.95" cy="448.45" r="1.62" fill="#2AAAFF"/>
<circle cx="536.66" cy="455.27" r="1.62" fill="#C8143C"/>
<circle cx="738.35" cy="455.27" r="1.62" fill="#C8143C"/>
<circle cx="539.63" cy="458.95" r="1.62" fill="#3C64D0"/>
<circle cx="741.32" cy="458.95" r="1.62" fill="#3C64D0"/>
<circle cx="540.33" cy="454.4" r="1.62" fill="#3C64D0"/>
<circle cx="742.02" cy="454.4" r="1.62" fill="#3C64D0"/>
<circle cx="546.46" cy="467.17" r="1.62" fill="#96145A"/>
<circle cx="748.15" cy="467.17" r="1.62" fill="#96145A"/>
<circle cx="551.35" cy="457.72" r="1.62" fill="#3C64D0"/>
<circle cx="753.04" cy="457.72" r="1.62" fill="#3C64D0"/>
<circle cx="559.22" cy="463.15" r="1.62" fill="#6A3494"/>
<circle cx="760.91" cy="463.15" r="1.62" fill="#6A3494"/>
<circle cx="566.4" cy="462.62" r="1.62" fill="#C8143C"/>
<circle cx="768.09" cy="462.62" r="1.62" fill="#C8143C"/>
<circle cx="570.42" cy="459.3" r="1.62" fill="#6A3494"/>
<circle cx="772.11" cy="459.3" r="1.62" fill="#6A3494"/>
<circle cx="579.86" cy="475.39" r="1.62" fill="#C8143C"/>
<circle cx="781.55" cy="475.39" r="1.62" fill="#C8143C"/>
<circle cx="582.49" cy="478.71" r="1.62" fill="#6A3494"/>
<circle cx="784.18" cy="478.71" r="1.62" fill="#6A3494"/>
<circle cx="586.16" cy="476.44" r="1.62" fill="#3C64D0"/>
<circle cx="787.85" cy="476.44" r="1.62" fill="#3C64D0"/>
<circle cx="591.41" cy="461.57" r="1.62" fill="#C8143C"/>
<circle cx="793.1" cy="461.57" r="1.62" fill="#C8143C"/>
<circle cx="593.16" cy="478.54" r="1.62" fill="#3C64D0"/>
<circle cx="794.85" cy="478.54" r="1.62" fill="#3C64D0"/>
<circle cx="597.88" cy="484.14" r="1.62" fill="#C8143C"/>
<circle cx="799.57" cy="484.14" r="1.62" fill="#C8143C"/>
<circle cx="602.6" cy="478.19" r="1.62" fill="#2AAAFF"/>
<circle cx="804.29" cy="478.19" r="1.62" fill="#2AAAFF"/>
<circle cx="602.95" cy="482.39" r="1.62" fill="#3C64D0"/>
<circle cx="804.64" cy="482.39" r="1.62" fill="#3C64D0"/>
<circle cx="609.37" cy="505.65" r="1.62" fill="#6A3494"/>
<circle cx="811.06" cy="505.65" r="1.62" fill="#6A3494"/>
<circle cx="616.19" cy="487.98" r="1.62" fill="#2AAAFF"/>
<circle cx="817.88" cy="487.98" r="1.62" fill="#2AAAFF"/>
<circle cx="616.19" cy="505.47" r="1.62" fill="#3C64D0"/>
<circle cx="817.88" cy="505.47" r="1.62" fill="#3C64D0"/>
<circle cx="617.24" cy="507.4" r="1.62" fill="#3C64D0"/>
<circle cx="818.93" cy="507.4" r="1.62" fill="#3C64D0"/>
<circle cx="618.47" cy="491.48" r="1.62" fill="#96145A"/>
<circle cx="820.16" cy="491.48" r="1.62" fill="#96145A"/>
<circle cx="622.49" cy="485.36" r="1.62" fill="#6A3494"/>
<circle cx="824.18" cy="485.36" r="1.62" fill="#6A3494"/>
<circle cx="623.37" cy="490.96" r="1.62" fill="#3C64D0"/>
<circle cx="825.06" cy="490.96" r="1.62" fill="#3C64D0"/>
<circle cx="624.42" cy="495.85" r="1.62" fill="#C8143C"/>
<circle cx="826.11" cy="495.85" r="1.62" fill="#C8143C"/>
<circle cx="633.34" cy="489.73" r="1.62" fill="#3C64D0"/>
<circle cx="635.09" cy="508.97" r="1.62" fill="#2AAAFF"/>
<circle cx="637.01" cy="500.05" r="1.62" fill="#2AAAFF"/>
<circle cx="639.63" cy="503.38" r="1.62" fill="#2AAAFF"/>
<circle cx="639.63" cy="482.74" r="1.62" fill="#3C64D0"/>
<circle cx="642.08" cy="497.08" r="1.62" fill="#96145A"/>
<circle cx="643.83" cy="484.48" r="1.62" fill="#F05A20"/>
<circle cx="645.93" cy="469.27" r="1.62" fill="#3C64D0"/>
<circle cx="648.38" cy="472.94" r="1.62" fill="#C8143C"/>
<circle cx="649.43" cy="475.56" r="1.62" fill="#6A3494"/>
<circle cx="659.22" cy="472.42" r="1.62" fill="#3C64D0"/>
<circle cx="662.37" cy="469.27" r="1.62" fill="#6A3494"/>
<circle cx="665.52" cy="478.36" r="1.62" fill="#3C64D0"/>
<circle cx="670.42" cy="480.29" r="1.62" fill="#3C64D0"/>
<circle cx="672.34" cy="463.32" r="1.62" fill="#2AAAFF"/>
<circle cx="674.44" cy="462.62" r="1.62" fill="#6A3494"/>
<circle cx="675.84" cy="475.39" r="1.62" fill="#6A3494"/>
<circle cx="683.54" cy="461.05" r="1.62" fill="#3C64D0"/>
<circle cx="687.04" cy="445.3" r="1.62" fill="#6A3494"/>
<circle cx="688.26" cy="465.42" r="1.62" fill="#6A3494"/>
<circle cx="693.33" cy="479.06" r="1.62" fill="#3C64D0"/>
<circle cx="697.71" cy="465.42" r="1.62" fill="#6A3494"/>
<circle cx="699.11" cy="462.27" r="1.62" fill="#3C64D0"/>
<circle cx="704.18" cy="459.3" r="1.62" fill="#6A3494"/>
</g>
<rect x="502.18" y="407.29" width="326.73" height="128.91" fill="none" stroke="#000" stroke-width="1"/>
<path d="M514.28 536.2v5.9M615.12 536.2v5.9M715.97 536.2v5.9M816.81 536.2v5.9" stroke="#000" stroke-width="1" fill="none" stroke-linecap="round"/>
<text x="514.28" y="556.7" font-size="9.24" text-anchor="middle">0.0</text>
<text x="615.12" y="556.7" font-size="9.24" text-anchor="middle">0.5</text>
<text x="715.97" y="556.7" font-size="9.24" text-anchor="middle">1.0</text>
<text x="816.81" y="556.7" font-size="9.24" text-anchor="middle">1.5</text>
<path d="M502.18 427.5h-5.9M502.18 449.45h-5.9M502.18 471.4h-5.9M502.18 493.35h-5.9M502.18 515.3h-5.9" stroke="#000" stroke-width="1" fill="none" stroke-linecap="round"/>
<text x="488.98" y="428.1" font-size="9.24" text-anchor="middle" transform="rotate(-90 488.98 428.1)">0.2</text>
<text x="488.98" y="450.05" font-size="9.24" text-anchor="middle" transform="rotate(-90 488.98 450.05)">0.1</text>
<text x="488.98" y="472" font-size="9.24" text-anchor="middle" transform="rotate(-90 488.98 472)">0.0</text>
<text x="488.98" y="515.9" font-size="9.24" text-anchor="middle" transform="rotate(-90 488.98 515.9)">-0.2</text>
<text x="665.54" y="400.09" font-size="9.24" text-anchor="middle" font-weight="bold">g-i folded light curve (PC1 frequency)</text>
<text x="665.54" y="567.7" font-size="9.24" text-anchor="middle">Phase</text>
<clipPath id="c4"><rect x="862.18" y="33.26" width="326.73" height="134.24"/></clipPath>
<g clip-path="url(#c4)">
<circle cx="874.8" cy="99.44" r="1.62" fill="#2AAAFF"/>
<circle cx="1076.49" cy="99.44" r="1.62" fill="#2AAAFF"/>
<circle cx="876.02" cy="162.41" r="1.62" fill="#3C64D0"/>
<circle cx="1077.71" cy="162.41" r="1.62" fill="#3C64D0"/>
<circle cx="883.37" cy="86.85" r="1.62" fill="#2AAAFF"/>
<circle cx="1085.06" cy="86.85" r="1.62" fill="#2AAAFF"/>
<circle cx="884.07" cy="88.42" r="1.62" fill="#6A3494"/>
<circle cx="1085.76" cy="88.42" r="1.62" fill="#6A3494"/>
<circle cx="892.99" cy="83" r="1.62" fill="#6A3494"/>
<circle cx="1094.68" cy="83" r="1.62" fill="#6A3494"/>
<circle cx="896.31" cy="88.07" r="1.62" fill="#3C64D0"/>
<circle cx="1098" cy="88.07" r="1.62" fill="#3C64D0"/>
<circle cx="899.28" cy="77.23" r="1.62" fill="#C8143C"/>
<circle cx="1100.97" cy="77.23" r="1.62" fill="#C8143C"/>
<circle cx="901.73" cy="96.12" r="1.62" fill="#F05A20"/>
<circle cx="1103.42" cy="96.12" r="1.62" fill="#F05A20"/>
<circle cx="906.81" cy="95.77" r="1.62" fill="#96145A"/>
<circle cx="1108.5" cy="95.77" r="1.62" fill="#96145A"/>
<circle cx="909.95" cy="89.47" r="1.62" fill="#96145A"/>
<circle cx="1111.64" cy="89.47" r="1.62" fill="#96145A"/>
<circle cx="911.7" cy="89.65" r="1.62" fill="#3C64D0"/>
<circle cx="1113.39" cy="89.65" r="1.62" fill="#3C64D0"/>
<circle cx="916.25" cy="120.61" r="1.62" fill="#6A3494"/>
<circle cx="1117.94" cy="120.61" r="1.62" fill="#6A3494"/>
<circle cx="919.4" cy="94.02" r="1.62" fill="#6A3494"/>
<circle cx="1121.09" cy="94.02" r="1.62" fill="#6A3494"/>
<circle cx="920.8" cy="79.5" r="1.62" fill="#96145A"/>
<circle cx="1122.49" cy="79.5" r="1.62" fill="#96145A"/>
<circle cx="922.55" cy="85.62" r="1.62" fill="#6A3494"/>
<circle cx="1124.24" cy="85.62" r="1.62" fill="#6A3494"/>
<circle cx="925.52" cy="78.1" r="1.62" fill="#2AAAFF"/>
<circle cx="1127.21" cy="78.1" r="1.62" fill="#2AAAFF"/>
<circle cx="928.32" cy="56.06" r="1.62" fill="#2AAAFF"/>
<circle cx="1130.01" cy="56.06" r="1.62" fill="#2AAAFF"/>
<circle cx="932.17" cy="69.53" r="1.62" fill="#3C64D0"/>
<circle cx="1133.86" cy="69.53" r="1.62" fill="#3C64D0"/>
<circle cx="938.99" cy="62.88" r="1.62" fill="#3C64D0"/>
<circle cx="1140.68" cy="62.88" r="1.62" fill="#3C64D0"/>
<circle cx="941.79" cy="68.48" r="1.62" fill="#6A3494"/>
<circle cx="1143.48" cy="68.48" r="1.62" fill="#6A3494"/>
<circle cx="943.01" cy="57.64" r="1.62" fill="#6A3494"/>
<circle cx="1144.7" cy="57.64" r="1.62" fill="#6A3494"/>
<circle cx="943.19" cy="95.77" r="1.62" fill="#3C64D0"/>
<circle cx="1144.88" cy="95.77" r="1.62" fill="#3C64D0"/>
<circle cx="949.48" cy="84.92" r="1.62" fill="#3C64D0"/>
<circle cx="1151.17" cy="84.92" r="1.62" fill="#3C64D0"/>
<circle cx="952.98" cy="87.72" r="1.62" fill="#3C64D0"/>
<circle cx="1154.67" cy="87.72" r="1.62" fill="#3C64D0"/>
<circle cx="954.03" cy="60.44" r="1.62" fill="#6A3494"/>
<circle cx="1155.72" cy="60.44" r="1.62" fill="#6A3494"/>
<circle cx="955.26" cy="62.53" r="1.62" fill="#96145A"/>
<circle cx="1156.95" cy="62.53" r="1.62" fill="#96145A"/>
<circle cx="959.46" cy="76" r="1.62" fill="#3C64D0"/>
<circle cx="1161.15" cy="76" r="1.62" fill="#3C64D0"/>
<circle cx="962.08" cy="38.22" r="1.62" fill="#3C64D0"/>
<circle cx="1163.77" cy="38.22" r="1.62" fill="#3C64D0"/>
<circle cx="967.1" cy="56.94" r="1.62" fill="#6A3494"/>
<circle cx="1168.79" cy="56.94" r="1.62" fill="#6A3494"/>
<circle cx="974.1" cy="63.58" r="1.62" fill="#6A3494"/>
<circle cx="1175.79" cy="63.58" r="1.62" fill="#6A3494"/>
<circle cx="978.47" cy="52.21" r="1.62" fill="#FFB81C"/>
<circle cx="1180.16" cy="52.21" r="1.62" fill="#FFB81C"/>
<circle cx="980.22" cy="98.22" r="1.62" fill="#6A3494"/>
<circle cx="1181.91" cy="98.22" r="1.62" fill="#6A3494"/>
<circle cx="981.09" cy="38.92" r="1.62" fill="#6A3494"/>
<circle cx="1182.78" cy="38.92" r="1.62" fill="#6A3494"/>
<circle cx="984.94" cy="75.83" r="1.62" fill="#3C64D0"/>
<circle cx="1186.63" cy="75.83" r="1.62" fill="#3C64D0"/>
<circle cx="986.51" cy="54.14" r="1.62" fill="#C8143C"/>
<circle cx="1188.2" cy="54.14" r="1.62" fill="#C8143C"/>
<circle cx="993.51" cy="58.86" r="1.62" fill="#3C64D0"/>
<circle cx="998.23" cy="84.4" r="1.62" fill="#3C64D0"/>
<circle cx="1000.68" cy="99.97" r="1.62" fill="#6A3494"/>
<circle cx="1013.98" cy="95.94" r="1.62" fill="#C8143C"/>
<circle cx="1014.85" cy="80.73" r="1.62" fill="#3C64D0"/>
<circle cx="1019.92" cy="85.45" r="1.62" fill="#96145A"/>
<circle cx="1033.57" cy="99.79" r="1.62" fill="#3C64D0"/>
<circle cx="1046.16" cy="91.05" r="1.62" fill="#6A3494"/>
<circle cx="1055.96" cy="94.72" r="1.62" fill="#2AAAFF"/>
<circle cx="1055.96" cy="126.55" r="1.62" fill="#2AAAFF"/>
<circle cx="1056.66" cy="97.34" r="1.62" fill="#C8143C"/>
<circle cx="1073.45" cy="102.07" r="1.62" fill="#C8143C"/>
</g>
<rect x="862.18" y="33.26" width="326.73" height="134.24" fill="none" stroke="#000" stroke-width="1"/>
<path d="M874.28 167.5v5.9M975.12 167.5v5.9M1075.97 167.5v5.9M1176.81 167.5v5.9" stroke="#000" stroke-width="1" fill="none" stroke-linecap="round"/>
<text x="874.28" y="188" font-size="9.24" text-anchor="middle">0.0</text>
<text x="975.12" y="188" font-size="9.24" text-anchor="middle">0.5</text>
<text x="1075.97" y="188" font-size="9.24" text-anchor="middle">1.0</text>
<text x="1176.81" y="188" font-size="9.24" text-anchor="middle">1.5</text>
<path d="M862.18 156h-5.9M862.18 131.5h-5.9M862.18 107h-5.9M862.18 82.5h-5.9M862.18 58h-5.9" stroke="#000" stroke-width="1" fill="none" stroke-linecap="round"/>
<text x="848.98" y="156.6" font-size="9.24" text-anchor="middle" transform="rotate(-90 848.98 156.6)">-6</text>
<text x="848.98" y="132.1" font-size="9.24" text-anchor="middle" transform="rotate(-90 848.98 132.1)">-4</text>
<text x="848.98" y="107.6" font-size="9.24" text-anchor="middle" transform="rotate(-90 848.98 107.6)">-2</text>
<text x="848.98" y="83.1" font-size="9.24" text-anchor="middle" transform="rotate(-90 848.98 83.1)">0</text>
<text x="848.98" y="58.6" font-size="9.24" text-anchor="middle" transform="rotate(-90 848.98 58.6)">2</text>
<text x="1026.75" y="26.06" font-size="9.24" text-anchor="middle" font-weight="bold">Residual PC1 folded light curve (residual frequency)</text>
<text x="1025.55" y="199" font-size="9.24" text-anchor="middle">Phase</text>
<clipPath id="c6"><rect x="862.18" y="222.94" width="326.73" height="128.91"/></clipPath>
<g clip-path="url(#c6)">
<circle cx="874.8" cy="299.41" r="1.62" fill="#2AAAFF"/>
<circle cx="1076.49" cy="299.41" r="1.62" fill="#2AAAFF"/>
<circle cx="876.02" cy="347.16" r="1.62" fill="#3C64D0"/>
<circle cx="1077.71" cy="347.16" r="1.62" fill="#3C64D0"/>
<circle cx="883.37" cy="274.4" r="1.62" fill="#2AAAFF"/>
<circle cx="1085.06" cy="274.4" r="1.62" fill="#2AAAFF"/>
<circle cx="884.07" cy="280.7" r="1.62" fill="#6A3494"/>
<circle cx="1085.76" cy="280.7" r="1.62" fill="#6A3494"/>
<circle cx="892.99" cy="279.12" r="1.62" fill="#6A3494"/>
<circle cx="1094.68" cy="279.12" r="1.62" fill="#6A3494"/>
<circle cx="896.31" cy="281.75" r="1.62" fill="#3C64D0"/>
<circle cx="1098" cy="281.75" r="1.62" fill="#3C64D0"/>
<circle cx="898.41" cy="278.42" r="1.62" fill="#6A3494"/>
<circle cx="1100.1" cy="278.42" r="1.62" fill="#6A3494"/>
<circle cx="899.28" cy="268.28" r="1.62" fill="#C8143C"/>
<circle cx="1100.97" cy="268.28" r="1.62" fill="#C8143C"/>
<circle cx="899.81" cy="298.89" r="1.62" fill="#C8143C"/>
<circle cx="1101.5" cy="298.89" r="1.62" fill="#C8143C"/>
<circle cx="901.73" cy="274.22" r="1.62" fill="#F05A20"/>
<circle cx="1103.42" cy="274.22" r="1.62" fill="#F05A20"/>
<circle cx="906.81" cy="286.99" r="1.62" fill="#96145A"/>
<circle cx="1108.5" cy="286.99" r="1.62" fill="#96145A"/>
<circle cx="909.95" cy="288.39" r="1.62" fill="#96145A"/>
<circle cx="1111.64" cy="288.39" r="1.62" fill="#96145A"/>
<circle cx="911.35" cy="289.27" r="1.62" fill="#3C64D0"/>
<circle cx="1113.04" cy="289.27" r="1.62" fill="#3C64D0"/>
<circle cx="912.05" cy="281.05" r="1.62" fill="#3C64D0"/>
<circle cx="1113.74" cy="281.05" r="1.62" fill="#3C64D0"/>
<circle cx="915.2" cy="254.11" r="1.62" fill="#2AAAFF"/>
<circle cx="1116.89" cy="254.11" r="1.62" fill="#2AAAFF"/>
<circle cx="916.25" cy="298.54" r="1.62" fill="#6A3494"/>
<circle cx="1117.94" cy="298.54" r="1.62" fill="#6A3494"/>
<circle cx="919.4" cy="280.7" r="1.62" fill="#6A3494"/>
<circle cx="1121.09" cy="280.7" r="1.62" fill="#6A3494"/>
<circle cx="920.8" cy="275.45" r="1.62" fill="#96145A"/>
<circle cx="1122.49" cy="275.45" r="1.62" fill="#96145A"/>
<circle cx="922.55" cy="271.95" r="1.62" fill="#6A3494"/>
<circle cx="1124.24" cy="271.95" r="1.62" fill="#6A3494"/>
<circle cx="925.52" cy="277.72" r="1.62" fill="#2AAAFF"/>
<circle cx="1127.21" cy="277.72" r="1.62" fill="#2AAAFF"/>
<circle cx="928.32" cy="252.88" r="1.62" fill="#2AAAFF"/>
<circle cx="1130.01" cy="252.88" r="1.62" fill="#2AAAFF"/>
<circle cx="929.37" cy="268.98" r="1.62" fill="#C8143C"/>
<circle cx="1131.06" cy="268.98" r="1.62" fill="#C8143C"/>
<circle cx="932.17" cy="271.08" r="1.62" fill="#3C64D0"/>
<circle cx="1133.86" cy="271.08" r="1.62" fill="#3C64D0"/>
<circle cx="937.42" cy="334.57" r="1.62" fill="#2AAAFF"/>
<circle cx="1139.11" cy="334.57" r="1.62" fill="#2AAAFF"/>
<circle cx="938.99" cy="258.48" r="1.62" fill="#3C64D0"/>
<circle cx="1140.68" cy="258.48" r="1.62" fill="#3C64D0"/>
<circle cx="941.79" cy="258.48" r="1.62" fill="#6A3494"/>
<circle cx="1143.48" cy="258.48" r="1.62" fill="#6A3494"/>
<circle cx="943.01" cy="254.28" r="1.62" fill="#6A3494"/>
<circle cx="1144.7" cy="254.28" r="1.62" fill="#6A3494"/>
<circle cx="943.19" cy="304.31" r="1.62" fill="#3C64D0"/>
<circle cx="1144.88" cy="304.31" r="1.62" fill="#3C64D0"/>
<circle cx="949.31" cy="266.18" r="1.62" fill="#6A3494"/>
<circle cx="1151" cy="266.18" r="1.62" fill="#6A3494"/>
<circle cx="949.66" cy="285.94" r="1.62" fill="#3C64D0"/>
<circle cx="1151.35" cy="285.94" r="1.62" fill="#3C64D0"/>
<circle cx="952.98" cy="268.8" r="1.62" fill="#3C64D0"/>
<circle cx="1154.67" cy="268.8" r="1.62" fill="#3C64D0"/>
<circle cx="954.03" cy="253.06" r="1.62" fill="#6A3494"/>
<circle cx="1155.72" cy="253.06" r="1.62" fill="#6A3494"/>
<circle cx="955.26" cy="254.46" r="1.62" fill="#96145A"/>
<circle cx="1156.95" cy="254.46" r="1.62" fill="#96145A"/>
<circle cx="959.46" cy="272.48" r="1.62" fill="#3C64D0"/>
<circle cx="1161.15" cy="272.48" r="1.62" fill="#3C64D0"/>
<circle cx="962.08" cy="227.7" r="1.62" fill="#3C64D0"/>
<circle cx="1163.77" cy="227.7" r="1.62" fill="#3C64D0"/>
<circle cx="967.1" cy="264.43" r="1.62" fill="#6A3494"/>
<circle cx="1168.79" cy="264.43" r="1.62" fill="#6A3494"/>
<circle cx="974.1" cy="256.73" r="1.62" fill="#6A3494"/>
<circle cx="1175.79" cy="256.73" r="1.62" fill="#6A3494"/>
<circle cx="978.47" cy="259.01" r="1.62" fill="#FFB81C"/>
<circle cx="1180.16" cy="259.01" r="1.62" fill="#FFB81C"/>
<circle cx="978.47" cy="296.96" r="1.62" fill="#3C64D0"/>
<circle cx="1180.16" cy="296.96" r="1.62" fill="#3C64D0"/>
<circle cx="980.22" cy="293.29" r="1.62" fill="#6A3494"/>
<circle cx="1181.91" cy="293.29" r="1.62" fill="#6A3494"/>
<circle cx="981.09" cy="238.54" r="1.62" fill="#6A3494"/>
<circle cx="1182.78" cy="238.54" r="1.62" fill="#6A3494"/>
<circle cx="984.94" cy="268.1" r="1.62" fill="#3C64D0"/>
<circle cx="1186.63" cy="268.1" r="1.62" fill="#3C64D0"/>
<circle cx="986.51" cy="245.54" r="1.62" fill="#C8143C"/>
<circle cx="1188.2" cy="245.54" r="1.62" fill="#C8143C"/>
<circle cx="993.51" cy="264.25" r="1.62" fill="#3C64D0"/>
<circle cx="998.23" cy="275.27" r="1.62" fill="#3C64D0"/>
<circle cx="1000.68" cy="302.91" r="1.62" fill="#6A3494"/>
<circle cx="1013.98" cy="276.32" r="1.62" fill="#C8143C"/>
<circle cx="1014.85" cy="270.9" r="1.62" fill="#3C64D0"/>
<circle cx="1017.48" cy="270.03" r="1.62" fill="#3C64D0"/>
<circle cx="1019.92" cy="292.24" r="1.62" fill="#96145A"/>
<circle cx="1030.42" cy="273.35" r="1.62" fill="#2AAAFF"/>
<circle cx="1033.57" cy="287.87" r="1.62" fill="#3C64D0"/>
<circle cx="1046.16" cy="298.71" r="1.62" fill="#6A3494"/>
<circle cx="1055.96" cy="268.63" r="1.62" fill="#2AAAFF"/>
<circle cx="1055.96" cy="303.44" r="1.62" fill="#2AAAFF"/>
<circle cx="1056.66" cy="294.69" r="1.62" fill="#C8143C"/>
<circle cx="1067.68" cy="284.19" r="1.62" fill="#3C64D0"/>
<circle cx="1073.45" cy="289.97" r="1.62" fill="#C8143C"/>
</g>
<rect x="862.18" y="222.94" width="326.73" height="128.91" fill="none" stroke="#000" stroke-width="1"/>
<path d="M874.28 351.85v5.9M975.12 351.85v5.9M1075.97 351.85v5.9M1176.81 351.85v5.9" stroke="#000" stroke-width="1" fill="none" stroke-linecap="round"/>
<text x="874.28" y="372.35" font-size="9.24" text-anchor="middle">0.0</text>
<text x="975.12" y="372.35" font-size="9.24" text-anchor="middle">0.5</text>
<text x="1075.97" y="372.35" font-size="9.24" text-anchor="middle">1.0</text>
<text x="1176.81" y="372.35" font-size="9.24" text-anchor="middle">1.5</text>
<path d="M862.18 228.5h-5.9M862.18 253h-5.9M862.18 277.5h-5.9M862.18 302h-5.9M862.18 326.5h-5.9M862.18 351h-5.9" stroke="#000" stroke-width="1" fill="none" stroke-linecap="round"/>
<text x="848.98" y="253.6" font-size="9.24" text-anchor="middle" transform="rotate(-90 848.98 253.6)">0.05</text>
<text x="848.98" y="302.6" font-size="9.24" text-anchor="middle" transform="rotate(-90 848.98 302.6)">-0.05</text>
<text x="848.98" y="351.6" font-size="9.24" text-anchor="middle" transform="rotate(-90 848.98 351.6)">-0.15</text>
<text x="1025.55" y="215.74" font-size="9.24" text-anchor="middle" font-weight="bold">Residual g folded light curve (residual frequency)</text>
<text x="1025.55" y="383.85" font-size="9.24" text-anchor="middle">Phase</text>
<defs><linearGradient id="cb" x1="0" x2="1" y1="0" y2="0"><stop offset="0" stop-color="#FFB40A"/><stop offset="0.1" stop-color="#F87A08"/><stop offset="0.2" stop-color="#F0500C"/><stop offset="0.3" stop-color="#E02A14"/><stop offset="0.4" stop-color="#D00E24"/><stop offset="0.5" stop-color="#B40A3C"/><stop offset="0.55" stop-color="#A00A4C"/><stop offset="0.62" stop-color="#860A62"/><stop offset="0.7" stop-color="#6A1C7C"/><stop offset="0.78" stop-color="#55308F"/><stop offset="0.85" stop-color="#4048AE"/><stop offset="0.92" stop-color="#2E6ED2"/><stop offset="1" stop-color="#1EAAFF"/></linearGradient></defs>
<rect x="863" y="407.29" width="325.2" height="12.21" fill="url(#cb)"/>
<rect x="862.18" y="407.29" width="326.73" height="12.21" fill="none" stroke="#000" stroke-width="1"/>
<path d="M905.3 419.5v5.9M953.78 419.5v5.9M1002.26 419.5v5.9M1050.74 419.5v5.9M1099.22 419.5v5.9M1147.7 419.5v5.9" stroke="#000" stroke-width="1" fill="none" stroke-linecap="round"/>
<text x="905.3" y="440" font-size="9.24" text-anchor="middle">51500</text>
<text x="953.78" y="440" font-size="9.24" text-anchor="middle">52000</text>
<text x="1002.26" y="440" font-size="9.24" text-anchor="middle">52500</text>
<text x="1050.74" y="440" font-size="9.24" text-anchor="middle">53000</text>
<text x="1099.22" y="440" font-size="9.24" text-anchor="middle">53500</text>
<text x="1147.7" y="440" font-size="9.24" text-anchor="middle">54000</text>
<text x="1026.64" y="400.09" font-size="8.73" text-anchor="middle" font-weight="bold">Color code for time</text>
<text x="1025.55" y="451" font-size="9.24" text-anchor="middle">Time [JD]</text>
<clipPath id="c9"><rect x="38.81" y="591.64" width="190.1" height="175.1"/></clipPath>
<g clip-path="url(#c9)">
<path d="M45.87 739.8L84.8 705.4L106.4 732.9L109.7 734.7L124 725.1L124 699.9L125.1 703.7L125.4 740.9L142.8 736.3L143.8 718.5L145.4 722.6L146.1 715.4L166.1 708.3L180.4 717.2L180.6 693.5L181 722L181.4 683.1L181.8 728L182 704L182.3 735L182.6 700L182.9 737.6L183.2 708L183.5 731L183.9 712L184.3 736.5L184.6 716.4L199.1 698.9L199.6 718L200 705L200.4 724L200.9 710L201.3 726L201.7 695L202 760.2L202.3 704L202.7 732L203.1 708L203.5 734L203.9 712L204.4 722.1L219.4 738L220.2 727.3L220.7 716L220.8 709.9L221.8 705L221.1 679.8" fill="none" stroke="#30B0FF" stroke-width="0.85" stroke-linejoin="round"/>
<g fill="#30B0FF"><circle cx="45.87" cy="739.8" r="1.15"/><circle cx="84.8" cy="705.4" r="1.15"/><circle cx="106.4" cy="732.9" r="1.15"/><circle cx="109.7" cy="734.7" r="1.15"/><circle cx="124" cy="725.1" r="1.15"/><circle cx="124" cy="699.9" r="1.15"/><circle cx="125.1" cy="703.7" r="1.15"/><circle cx="125.4" cy="740.9" r="1.15"/><circle cx="142.8" cy="736.3" r="1.15"/><circle cx="143.8" cy="718.5" r="1.15"/><circle cx="145.4" cy="722.6" r="1.15"/><circle cx="146.1" cy="715.4" r="1.15"/><circle cx="166.1" cy="708.3" r="1.15"/><circle cx="180.4" cy="717.2" r="1.15"/><circle cx="180.6" cy="693.5" r="1.15"/><circle cx="181" cy="722" r="1.15"/><circle cx="181.4" cy="683.1" r="1.15"/><circle cx="181.8" cy="728" r="1.15"/><circle cx="182" cy="704" r="1.15"/><circle cx="182.3" cy="735" r="1.15"/><circle cx="182.6" cy="700" r="1.15"/><circle cx="182.9" cy="737.6" r="1.15"/><circle cx="183.2" cy="708" r="1.15"/><circle cx="183.5" cy="731" r="1.15"/><circle cx="183.9" cy="712" r="1.15"/><circle cx="184.3" cy="736.5" r="1.15"/><circle cx="184.6" cy="716.4" r="1.15"/><circle cx="199.1" cy="698.9" r="1.15"/><circle cx="199.6" cy="718" r="1.15"/><circle cx="200" cy="705" r="1.15"/><circle cx="200.4" cy="724" r="1.15"/><circle cx="200.9" cy="710" r="1.15"/><circle cx="201.3" cy="726" r="1.15"/><circle cx="201.7" cy="695" r="1.15"/><circle cx="202" cy="760.2" r="1.15"/><circle cx="202.3" cy="704" r="1.15"/><circle cx="202.7" cy="732" r="1.15"/><circle cx="203.1" cy="708" r="1.15"/><circle cx="203.5" cy="734" r="1.15"/><circle cx="203.9" cy="712" r="1.15"/><circle cx="204.4" cy="722.1" r="1.15"/><circle cx="219.4" cy="738" r="1.15"/><circle cx="220.2" cy="727.3" r="1.15"/><circle cx="220.7" cy="716" r="1.15"/><circle cx="220.8" cy="709.9" r="1.15"/><circle cx="221.8" cy="705" r="1.15"/><circle cx="221.1" cy="679.8" r="1.15"/></g>
<path d="M45.85 634.6L84.9 610.8L106.5 633.7L109.8 630.2L124.1 612L124.45 620L124.8 614L125.15 625L125.5 628.5L143 631.5L143.72 627L144.45 631L145.18 629L145.9 610.1L166 614.9L180.6 628L180.98 611L181.36 632L181.75 615L182.13 636L182.51 620L182.89 640L183.27 612L183.65 634L184.04 618L184.42 638L184.8 614L199.1 598.3L200 606L200.5 628L201 612L201.5 634L202 608L202.5 630L203 616L203.5 635L204 610L204.5 632.9L219.3 633L219.69 598.3L220.07 628L220.46 606L220.84 634L221.23 612L221.61 636L222 634" fill="none" stroke="#00FF00" stroke-width="0.85" stroke-linejoin="round"/>
<g fill="#00FF00"><circle cx="45.85" cy="634.6" r="1.15"/><circle cx="84.9" cy="610.8" r="1.15"/><circle cx="106.5" cy="633.7" r="1.15"/><circle cx="109.8" cy="630.2" r="1.15"/><circle cx="124.1" cy="612" r="1.15"/><circle cx="124.45" cy="620" r="1.15"/><circle cx="124.8" cy="614" r="1.15"/><circle cx="125.15" cy="625" r="1.15"/><circle cx="125.5" cy="628.5" r="1.15"/><circle cx="143" cy="631.5" r="1.15"/><circle cx="143.72" cy="627" r="1.15"/><circle cx="144.45" cy="631" r="1.15"/><circle cx="145.18" cy="629" r="1.15"/><circle cx="145.9" cy="610.1" r="1.15"/><circle cx="166" cy="614.9" r="1.15"/><circle cx="180.6" cy="628" r="1.15"/><circle cx="180.98" cy="611" r="1.15"/><circle cx="181.36" cy="632" r="1.15"/><circle cx="181.75" cy="615" r="1.15"/><circle cx="182.13" cy="636" r="1.15"/><circle cx="182.51" cy="620" r="1.15"/><circle cx="182.89" cy="640" r="1.15"/><circle cx="183.27" cy="612" r="1.15"/><circle cx="183.65" cy="634" r="1.15"/><circle cx="184.04" cy="618" r="1.15"/><circle cx="184.42" cy="638" r="1.15"/><circle cx="184.8" cy="614" r="1.15"/><circle cx="199.1" cy="598.3" r="1.15"/><circle cx="200" cy="606" r="1.15"/><circle cx="200.5" cy="628" r="1.15"/><circle cx="201" cy="612" r="1.15"/><circle cx="201.5" cy="634" r="1.15"/><circle cx="202" cy="608" r="1.15"/><circle cx="202.5" cy="630" r="1.15"/><circle cx="203" cy="616" r="1.15"/><circle cx="203.5" cy="635" r="1.15"/><circle cx="204" cy="610" r="1.15"/><circle cx="204.5" cy="632.9" r="1.15"/><circle cx="219.3" cy="633" r="1.15"/><circle cx="219.69" cy="598.3" r="1.15"/><circle cx="220.07" cy="628" r="1.15"/><circle cx="220.46" cy="606" r="1.15"/><circle cx="220.84" cy="634" r="1.15"/><circle cx="221.23" cy="612" r="1.15"/><circle cx="221.61" cy="636" r="1.15"/><circle cx="222" cy="634" r="1.15"/></g>
<path d="M45.85 625L84.9 605.3L106.5 628.3L109.8 625.2L124 608.1L124.38 618L124.75 610L125.12 622L125.5 624.5L142.9 623.2L143.65 626L144.4 622L145.15 627L145.9 608.1L166 611.9L180.5 626L180.9 609L181.3 630L181.7 612L182.1 628L182.5 608.5L182.9 632L183.3 614L183.7 627L184.1 610L184.5 630L184.9 613.5L199.1 605.9L200 608L200.5 626L201 612L201.5 630L202 606L202.5 628L203 615L203.5 631L204 611L204.5 622.4L219.2 619.7L219.6 600L220 624L220.4 604L220.8 628L221.2 608L221.6 626L222 615" fill="none" stroke="#FF0000" stroke-width="0.85" stroke-linejoin="round"/>
<g fill="#FF0000"><circle cx="45.85" cy="625" r="1.15"/><circle cx="84.9" cy="605.3" r="1.15"/><circle cx="106.5" cy="628.3" r="1.15"/><circle cx="109.8" cy="625.2" r="1.15"/><circle cx="124" cy="608.1" r="1.15"/><circle cx="124.38" cy="618" r="1.15"/><circle cx="124.75" cy="610" r="1.15"/><circle cx="125.12" cy="622" r="1.15"/><circle cx="125.5" cy="624.5" r="1.15"/><circle cx="142.9" cy="623.2" r="1.15"/><circle cx="143.65" cy="626" r="1.15"/><circle cx="144.4" cy="622" r="1.15"/><circle cx="145.15" cy="627" r="1.15"/><circle cx="145.9" cy="608.1" r="1.15"/><circle cx="166" cy="611.9" r="1.15"/><circle cx="180.5" cy="626" r="1.15"/><circle cx="180.9" cy="609" r="1.15"/><circle cx="181.3" cy="630" r="1.15"/><circle cx="181.7" cy="612" r="1.15"/><circle cx="182.1" cy="628" r="1.15"/><circle cx="182.5" cy="608.5" r="1.15"/><circle cx="182.9" cy="632" r="1.15"/><circle cx="183.3" cy="614" r="1.15"/><circle cx="183.7" cy="627" r="1.15"/><circle cx="184.1" cy="610" r="1.15"/><circle cx="184.5" cy="630" r="1.15"/><circle cx="184.9" cy="613.5" r="1.15"/><circle cx="199.1" cy="605.9" r="1.15"/><circle cx="200" cy="608" r="1.15"/><circle cx="200.5" cy="626" r="1.15"/><circle cx="201" cy="612" r="1.15"/><circle cx="201.5" cy="630" r="1.15"/><circle cx="202" cy="606" r="1.15"/><circle cx="202.5" cy="628" r="1.15"/><circle cx="203" cy="615" r="1.15"/><circle cx="203.5" cy="631" r="1.15"/><circle cx="204" cy="611" r="1.15"/><circle cx="204.5" cy="622.4" r="1.15"/><circle cx="219.2" cy="619.7" r="1.15"/><circle cx="219.6" cy="600" r="1.15"/><circle cx="220" cy="624" r="1.15"/><circle cx="220.4" cy="604" r="1.15"/><circle cx="220.8" cy="628" r="1.15"/><circle cx="221.2" cy="608" r="1.15"/><circle cx="221.6" cy="626" r="1.15"/><circle cx="222" cy="615" r="1.15"/></g>
<path d="M45.85 630.5L84.9 616L106.5 628.3L109.8 626.3L124 616L124.4 624L124.8 618L125.2 626L125.6 625L143.1 624.6L143.8 628L144.5 625L145.2 627.6L145.9 620.6L166 622.8L180.6 627L180.98 615L181.36 630L181.75 618L182.13 632L182.51 614L182.89 629L183.27 617L183.65 631L184.04 616L184.42 628L184.8 618.5L199.1 612.9L200 611L200.5 627L201 614L201.5 629L202 610L202.5 628L203 616L203.5 630L204 613L204.5 625.4L219.2 626.7L219.6 609L220 628L220.4 612L220.8 630L221.2 614L221.6 627L222 625" fill="none" stroke="#A52A2A" stroke-width="0.85" stroke-linejoin="round"/>
<g fill="#A52A2A"><circle cx="45.85" cy="630.5" r="1.15"/><circle cx="84.9" cy="616" r="1.15"/><circle cx="106.5" cy="628.3" r="1.15"/><circle cx="109.8" cy="626.3" r="1.15"/><circle cx="124" cy="616" r="1.15"/><circle cx="124.4" cy="624" r="1.15"/><circle cx="124.8" cy="618" r="1.15"/><circle cx="125.2" cy="626" r="1.15"/><circle cx="125.6" cy="625" r="1.15"/><circle cx="143.1" cy="624.6" r="1.15"/><circle cx="143.8" cy="628" r="1.15"/><circle cx="144.5" cy="625" r="1.15"/><circle cx="145.2" cy="627.6" r="1.15"/><circle cx="145.9" cy="620.6" r="1.15"/><circle cx="166" cy="622.8" r="1.15"/><circle cx="180.6" cy="627" r="1.15"/><circle cx="180.98" cy="615" r="1.15"/><circle cx="181.36" cy="630" r="1.15"/><circle cx="181.75" cy="618" r="1.15"/><circle cx="182.13" cy="632" r="1.15"/><circle cx="182.51" cy="614" r="1.15"/><circle cx="182.89" cy="629" r="1.15"/><circle cx="183.27" cy="617" r="1.15"/><circle cx="183.65" cy="631" r="1.15"/><circle cx="184.04" cy="616" r="1.15"/><circle cx="184.42" cy="628" r="1.15"/><circle cx="184.8" cy="618.5" r="1.15"/><circle cx="199.1" cy="612.9" r="1.15"/><circle cx="200" cy="611" r="1.15"/><circle cx="200.5" cy="627" r="1.15"/><circle cx="201" cy="614" r="1.15"/><circle cx="201.5" cy="629" r="1.15"/><circle cx="202" cy="610" r="1.15"/><circle cx="202.5" cy="628" r="1.15"/><circle cx="203" cy="616" r="1.15"/><circle cx="203.5" cy="630" r="1.15"/><circle cx="204" cy="613" r="1.15"/><circle cx="204.5" cy="625.4" r="1.15"/><circle cx="219.2" cy="626.7" r="1.15"/><circle cx="219.6" cy="609" r="1.15"/><circle cx="220" cy="628" r="1.15"/><circle cx="220.4" cy="612" r="1.15"/><circle cx="220.8" cy="630" r="1.15"/><circle cx="221.2" cy="614" r="1.15"/><circle cx="221.6" cy="627" r="1.15"/><circle cx="222" cy="625" r="1.15"/></g>
<path d="M45.85 643.1L84.9 607.8L106.5 635.2L109.8 637.2L124.1 610L124.47 622L124.85 612L125.22 618L125.6 636.6L143.1 630.7L143.82 631.5L144.55 629L145.28 628.3L146 627L166 622.8L181.5 630L181.81 612L182.12 634L182.43 616L182.74 651L183.05 664.9L183.35 618L183.66 638L183.97 610L184.28 632L184.59 620L184.9 631.5L199.1 618.9L201.3 604L201.61 630L201.92 608L202.23 634L202.54 603L202.86 632L203.17 612L203.48 633L203.79 607L204.1 644.2L219.2 625L219.63 606L220.06 634L220.49 611L220.91 640L221.34 614L221.77 638L222.2 610" fill="none" stroke="#000000" stroke-width="0.85" stroke-linejoin="round"/>
<g fill="#000000"><circle cx="45.85" cy="643.1" r="1.15"/><circle cx="84.9" cy="607.8" r="1.15"/><circle cx="106.5" cy="635.2" r="1.15"/><circle cx="109.8" cy="637.2" r="1.15"/><circle cx="124.1" cy="610" r="1.15"/><circle cx="124.47" cy="622" r="1.15"/><circle cx="124.85" cy="612" r="1.15"/><circle cx="125.22" cy="618" r="1.15"/><circle cx="125.6" cy="636.6" r="1.15"/><circle cx="143.1" cy="630.7" r="1.15"/><circle cx="143.82" cy="631.5" r="1.15"/><circle cx="144.55" cy="629" r="1.15"/><circle cx="145.28" cy="628.3" r="1.15"/><circle cx="146" cy="627" r="1.15"/><circle cx="166" cy="622.8" r="1.15"/><circle cx="181.5" cy="630" r="1.15"/><circle cx="181.81" cy="612" r="1.15"/><circle cx="182.12" cy="634" r="1.15"/><circle cx="182.43" cy="616" r="1.15"/><circle cx="182.74" cy="651" r="1.15"/><circle cx="183.05" cy="664.9" r="1.15"/><circle cx="183.35" cy="618" r="1.15"/><circle cx="183.66" cy="638" r="1.15"/><circle cx="183.97" cy="610" r="1.15"/><circle cx="184.28" cy="632" r="1.15"/><circle cx="184.59" cy="620" r="1.15"/><circle cx="184.9" cy="631.5" r="1.15"/><circle cx="199.1" cy="618.9" r="1.15"/><circle cx="201.3" cy="604" r="1.15"/><circle cx="201.61" cy="630" r="1.15"/><circle cx="201.92" cy="608" r="1.15"/><circle cx="202.23" cy="634" r="1.15"/><circle cx="202.54" cy="603" r="1.15"/><circle cx="202.86" cy="632" r="1.15"/><circle cx="203.17" cy="612" r="1.15"/><circle cx="203.48" cy="633" r="1.15"/><circle cx="203.79" cy="607" r="1.15"/><circle cx="204.1" cy="644.2" r="1.15"/><circle cx="219.2" cy="625" r="1.15"/><circle cx="219.63" cy="606" r="1.15"/><circle cx="220.06" cy="634" r="1.15"/><circle cx="220.49" cy="611" r="1.15"/><circle cx="220.91" cy="640" r="1.15"/><circle cx="221.34" cy="614" r="1.15"/><circle cx="221.77" cy="638" r="1.15"/><circle cx="222.2" cy="610" r="1.15"/></g>
</g>
<rect x="38.81" y="591.64" width="190.1" height="175.1" fill="none" stroke="#000" stroke-width="1"/>
<path d="M41.5 766.74v5.9M68 766.74v5.9M94.5 766.74v5.9M121 766.74v5.9M147.5 766.74v5.9M174 766.74v5.9M200.5 766.74v5.9M227 766.74v5.9" stroke="#000" stroke-width="1" fill="none" stroke-linecap="round"/>
<text x="41.5" y="787.24" font-size="9.24" text-anchor="middle">51000</text>
<text x="94.5" y="787.24" font-size="9.24" text-anchor="middle">52000</text>
<text x="147.5" y="787.24" font-size="9.24" text-anchor="middle">53000</text>
<text x="200.5" y="787.24" font-size="9.24" text-anchor="middle">54000</text>
<path d="M38.81 603.3h-5.9M38.81 647.77h-5.9M38.81 692.23h-5.9M38.81 736.7h-5.9" stroke="#000" stroke-width="1" fill="none" stroke-linecap="round"/>
<text x="25.61" y="603.9" font-size="9.24" text-anchor="middle" transform="rotate(-90 25.61 603.9)">19.5</text>
<text x="25.61" y="648.37" font-size="9.24" text-anchor="middle" transform="rotate(-90 25.61 648.37)">20.0</text>
<text x="25.61" y="692.83" font-size="9.24" text-anchor="middle" transform="rotate(-90 25.61 692.83)">20.5</text>
<text x="25.61" y="737.3" font-size="9.24" text-anchor="middle" transform="rotate(-90 25.61 737.3)">21.0</text>
<text x="133.86" y="584.44" font-size="8.75" text-anchor="middle" font-weight="bold">Raw light curve</text>
<text x="133.86" y="798.24" font-size="9.24" text-anchor="middle">Time</text>
<text x="13.61" y="679.19" font-size="9.24" text-anchor="middle" transform="rotate(-90 13.61 679.19)">Magnitudes</text>
<clipPath id="c10"><rect x="273.26" y="591.64" width="195.65" height="175.1"/></clipPath>
<g clip-path="url(#c10)">
<path d="M461.5 592.2h0M376.4 626.3h0M420.1 630.8h0M414.5 611.1h0M341.6 638.4h0M441.4 595h0M369.3 634.2h0M416.2 614.6h0M357.4 631.3h0M378.5 623h0M453.6 613.5h0M422.3 599.9h0M272.2 692.7h0M341.7 632.8h0M471.1 589.6h0M405.6 608.7h0M387.8 598h0M435.1 619.7h0M418 634.9h0M356.6 627.4h0M397.8 626.8h0M362.8 641.1h0M390.4 612h0M426.4 611.5h0M423.4 622.8h0M402.5 597.5h0M442.3 601.3h0M388.7 598.7h0M412.4 598.1h0M379.9 624.8h0M452.1 601.7h0M429.5 613.7h0M346.7 640.4h0M325.1 646h0M316 647.4h0M368.7 615.5h0M286.3 663.8h0M456.8 608.1h0M426.5 599.8h0M392.2 622.8h0M448.3 616.9h0M397.2 602h0M337.4 651.8h0M286.6 677.9h0M359.4 615.3h0M465.4 590.7h0M386.3 608.6h0M444.7 602.9h0M395.3 607h0M390.1 607.8h0M391.8 608.9h0M451.6 588.8h0M443.9 608.1h0M327.7 662.4h0M380.4 620.4h0M298.5 688.4h0M463.7 599.7h0M463.4 605.2h0M413.3 607.5h0M412.2 613.3h0M351.3 647.3h0M420.4 611h0M452.2 603h0M391.6 609.1h0M426.6 601.2h0M370.3 633.9h0M410 593.9h0M382 612.5h0M389.1 620.7h0M377 640.5h0M295.7 667.5h0M447.3 619.4h0M321.6 629.4h0M299.2 662.7h0M431.1 598.6h0M469.7 610h0M409.2 618h0M348.9 638.6h0M408.5 639.4h0M418.1 608.6h0M366.5 620.4h0M466.9 595.5h0M426.1 609.9h0M432.1 595.8h0M440.1 593.1h0M401 616.8h0M351.7 619.8h0M435.6 620.6h0M341.9 631.1h0M394.1 623.6h0M339.6 654.8h0M439 605.2h0M301.1 650.6h0M454.6 597.9h0M336.5 629.9h0M436.5 614h0M462.8 598.6h0M439 620h0M382.6 619.8h0M408 613.1h0M365.1 617.8h0M326.7 623.5h0M369.5 622.5h0M416.2 600h0M390.4 619h0M430.9 603.2h0M428.2 612.4h0M412 618.5h0M460 600.6h0M397.2 615.8h0M360.1 624.2h0M279.2 685.1h0M420.4 623.9h0M338.7 634.2h0M369.7 600.2h0M309.9 660.3h0M340 615.8h0M368.4 595.8h0M330.9 630.3h0M373 615.1h0M313.9 653h0M404.6 617.7h0M420.4 603.4h0M437.2 589.3h0M405.7 628.5h0M449.1 591.5h0M423.2 611.2h0M451.4 609.7h0M305.3 654.7h0M320.2 651.1h0M380.9 629.1h0M432.8 609.8h0M464.3 598.3h0M365.4 658.2h0M453.5 589.4h0M467.8 603.5h0M464.3 589.3h0M385.7 651.2h0M407.2 599.5h0M345.5 619.6h0M350.7 617h0M371.2 629.4h0M446.1 601.4h0M319.3 644.1h0M317.9 667.6h0M387.2 605.9h0M426.5 604h0M342 627h0M341.1 619.4h0M382.4 599.8h0M432.8 599.9h0M432.8 600h0M354.8 653.6h0M354.1 632.8h0M397.3 612.6h0M464.9 596.3h0M345.5 635.9h0M470.5 620.3h0M322.5 647.3h0M442.7 605.6h0M395 591.8h0M455.8 606.3h0M361.7 627.3h0M433.6 618.7h0M376.2 624.9h0M437.7 606.7h0M379.3 613h0M437.8 594.2h0M469.1 592.7h0M337.5 633.1h0M441.6 596h0M337.8 646.2h0M435.4 596.3h0M297.9 662h0M385.8 607.6h0M442 599.9h0M459.2 601.7h0M432.8 617.8h0M436.1 605.8h0M458.5 589h0M419.4 601.9h0M424 606.3h0M404.3 632h0M323.7 640.3h0M455.3 611h0M429.6 593h0M420.8 604.2h0M323.9 655.6h0M302.1 666.4h0M426.6 598.8h0M381.1 605.8h0M405.1 601.3h0M340.6 637.9h0M428 592.3h0M438.2 611.7h0M349 641.2h0M436 604.6h0M386.7 608.5h0M302.5 670.3h0M414.6 619.6h0M312.8 649.3h0M378.7 615.3h0M394.6 621.7h0M447.8 591.9h0M410.8 603h0M441.5 619.8h0M426.1 602.2h0M448.1 589.2h0M407.3 610.3h0M400.7 612.7h0M373.4 633.4h0M353.7 632.7h0M448.9 590.3h0M412.2 605.2h0M448.2 601.9h0M369.3 647.7h0M339.1 615.1h0M390.2 636.5h0M435 589.3h0M369.9 619.6h0M425.4 610.8h0M469 592.3h0M392.3 590.2h0M400.1 601.6h0M392 590h0M427 601.7h0M440 591h0M386.8 605.2h0M339.4 630.6h0M446.7 588.9h0M380.7 641.4h0M387.3 593.2h0M357.9 621.3h0M439.7 595.4h0M358.9 659.4h0M402.8 608.7h0M436.8 589.4h0M426.2 597.4h0M300.3 671h0M413.7 605.1h0M459.6 592.8h0M436.8 608.2h0M415.4 627.7h0M379.9 632.2h0M331 650.8h0M401.5 603.6h0M444.3 593.8h0M424 612.4h0M387.4 624.7h0M375.3 611.8h0M364.6 644.7h0M469 591.1h0M370.7 619.8h0M394.6 609.6h0M312.1 676.9h0M407.7 604.6h0M304.8 662h0M341.8 636.6h0M415.2 619.4h0M391.1 595.4h0M384.2 612.6h0M427.4 608.4h0M290 662.6h0M442.7 599.9h0M431.4 601.9h0M398.5 604h0M280.2 681.5h0M363.3 599.3h0M352.1 628.7h0M401.8 603.6h0M458.3 589.6h0M416.2 605.7h0M279.2 695.5h0M301.2 672.7h0M421.3 591h0M395.5 617.6h0M352.8 644.2h0M455.7 591.8h0M413.3 595.9h0M338.4 622.9h0M378.2 625h0M420.3 613.7h0M428.8 589.3h0M417.8 605.6h0M270.9 689.5h0M413.4 596.6h0M363.3 615.5h0M445.4 599.2h0M364.5 629.7h0M325.4 646h0M343.5 633.8h0M377.8 629.6h0M442.9 605.6h0M371.3 626h0M428.4 593.3h0M410 613.5h0M373.4 607.1h0M357.8 622.1h0M427.9 597.2h0M453.6 616.6h0M371.1 593.9h0M327.7 651h0M365.1 628h0M458 594.8h0M399.2 617.3h0M296 657.3h0M468.4 601h0M404.2 627.1h0M401 610.5h0M389.3 616.8h0M463.1 601.6h0M347.4 630.9h0M471.8 596.5h0M377.5 627.7h0M421.6 597.6h0M447 591.1h0M438.5 589h0M376 611h0M447 591h0M367.6 615.1h0M333.1 651.6h0M402.5 618.1h0M402.3 621h0M413.9 588.9h0M354.5 635.9h0M304.3 667.5h0M345.3 634.2h0M366.6 604.8h0M401.5 610.2h0M380.4 623h0M393.5 594h0M378.9 609.9h0M389.1 627.1h0M436.9 597.3h0M310.7 648.2h0M301.5 669.8h0M375.9 608h0M463 591.2h0M446.3 598.8h0M343.8 635.3h0M344.9 608.7h0M424.5 605.2h0M440.5 599.6h0M289.3 674.8h0M324.8 646.2h0M467.4 595.5h0M382 592h0M381.2 616.6h0M366 612.9h0M436.1 602h0M381.2 631.1h0M389.5 622.1h0M280.4 676.3h0M361.8 614.8h0M390.3 593.4h0M371.5 617.3h0M317.2 636.6h0M374.4 635.2h0M395.5 614.7h0M464.6 589.9h0M421.2 616.5h0M420.3 613.6h0M449.4 593.9h0M328.1 624.2h0M319.9 657.8h0M396.4 611.6h0M470.5 600.4h0M383.1 628.9h0M360.8 609.7h0M317.6 655.4h0M439.9 590.2h0M467.4 602.4h0M327.3 648.5h0M429.3 602.3h0M333.2 647.1h0M447.8 600.8h0M408.6 599.1h0M394.1 612.3h0M416.5 603.3h0M420.3 592.3h0M363.7 626.9h0M435.5 600h0M386.4 617.4h0M413.5 595.7h0M455.1 601.6h0M367.7 630h0M400.2 604.4h0M319.9 640.9h0M317.5 661.5h0M440.4 594.4h0M446.7 610.2h0M404.8 617h0M426.1 608.1h0M428.6 604.1h0M366.9 632.5h0M416.1 615.5h0M322.1 642.8h0M323.9 647.4h0M392.5 610.9h0M417.8 611.7h0M416.9 611.9h0M413.9 606.2h0M400 611.2h0M302 671.6h0M450.8 601.4h0M397.2 607.7h0M362.2 607.2h0M381.5 617.9h0M392 625.7h0M281.5 672.3h0M399.3 607.5h0M360 635.7h0M340.1 639.3h0M401.6 602.3h0M463.9 592.1h0M418.9 614.3h0M312.6 662.1h0M359.4 642.1h0M398.6 593.2h0M455.5 592.8h0M319.2 669.2h0M404.9 633.5h0M294.5 661.1h0M412.5 590.5h0M436.5 607.9h0M386.2 608.4h0M374 617.6h0M412.3 616.3h0M390.4 595.4h0M299.1 649.9h0M343.7 626.6h0M443.1 596.2h0M381.4 605.1h0M412.3 603.2h0M416 620.6h0M408.9 638.5h0M293.2 682.2h0M393.1 605.6h0M384.5 622.9h0M304.3 636.8h0M334.2 630.2h0M331.5 632.8h0M393.7 592.8h0M442.3 592.6h0M462.1 592.1h0M382.2 601.1h0M298.9 682.7h0M392.3 617.4h0M442.8 590.4h0M403.7 614.7h0M388.4 611.5h0M397.6 616.2h0M361.3 626.9h0M410.3 617.9h0M431.5 604.6h0M403.1 627.4h0M424.6 606.6h0M448.1 596.9h0M416.8 601.4h0M367.4 605.8h0M373.8 611.6h0M423.7 593.1h0M464.8 619.3h0M419.8 589.6h0M428.6 598.8h0M363.1 611.8h0M457.3 597.9h0M353.8 626.1h0M365.5 598.9h0M323.4 652.7h0M386.5 634.2h0M435.9 596.7h0M424.2 588.9h0M458.8 598.4h0M404.1 622h0M423.1 597.6h0M384.2 618h0M292.1 649.6h0M347.2 609.5h0M427.6 599.8h0M436.5 598.9h0M396.4 606.8h0M428.1 618.5h0M430.3 613.9h0M413.1 611.9h0M304.1 643h0M320.5 656.5h0M379 626.2h0M414.2 613.6h0M332.2 648.7h0M424 603.6h0M414.5 607.5h0M296.9 669.1h0M323.9 651.4h0M351.7 642.4h0M300 659.9h0M444.2 595.9h0M455.1 602.9h0M402.9 604.4h0M406.8 606.6h0M414 606.8h0M388.2 621.2h0M340.5 643.3h0M410.4 603.8h0M285.4 687.3h0M405.1 611.8h0M358.8 633.4h0M311.2 655.2h0M341 633h0M372.5 624.8h0M397.4 589h0M450.9 616.4h0M388.7 602h0M346.3 624.6h0M319 633.6h0M282.1 670.1h0M432 598.4h0M293.6 674h0M392.9 610.7h0M468.8 590.3h0M305.2 653.9h0M431.8 609h0M446.1 595.1h0M364 645.3h0M335.4 639.1h0M366.5 614.3h0M400.8 600.4h0M344.6 668h0M459.1 592h0M373.8 642.2h0M293.6 654.3h0M439.1 604.2h0M382.3 612.3h0M456.8 620.8h0M444.7 614.6h0M471.1 595.6h0M289.2 668.6h0M326.5 648.8h0M414.3 600.5h0M435.7 595.2h0M395.6 601.4h0M416.1 613h0M443.1 606.1h0M423.8 592.6h0M441.3 621h0M388.9 625.9h0M304.1 660.9h0M464.8 596.4h0M431.1 598.5h0M334.5 661.5h0M412.1 604.2h0M389.6 612.3h0M389.1 615.8h0M444.7 613h0M430 597.7h0M395.9 627.3h0M449.3 603.1h0M300.4 638.1h0M403.2 610.8h0M400.6 620h0M384.9 627.9h0M343.1 618.8h0M448.1 608.2h0M421.6 597.2h0M314.4 676.1h0M454.3 594.9h0M450 601.1h0M421 606h0M365.6 631h0M343.8 623.3h0M372.5 609.8h0M471.3 618.5h0M464.3 598.9h0M293 693.6h0M344.7 624.2h0M389.6 613.5h0M357.6 651.9h0M453.7 607.2h0M330.5 643.9h0M342.9 630.9h0M386.5 603.3h0M409 611h0M416.8 603.7h0M402.9 605.8h0M440.7 601.9h0M435.7 600.5h0M381.1 618.7h0M338.1 627.6h0M407.8 604.2h0M384.4 624.4h0M393.8 601.3h0M380.4 630.1h0M390.6 610.1h0M428.5 606.2h0M442.9 591.9h0M370 637.6h0M393 629.5h0M401.9 606.9h0M469.3 589.5h0M348.5 621.7h0M354.5 628.3h0M417.3 609.1h0M276.4 663.3h0M464.6 593.4h0M398.5 631h0M452.6 609.4h0M452.7 612.9h0M441.4 592.5h0M437.3 607.9h0M406.7 607.4h0M388.4 611.7h0M445.7 592.8h0M332.5 622.9h0M423.2 594.4h0M295.8 655.2h0M413.8 615.6h0M429.5 637.1h0M390.9 630.8h0M324.7 651h0M427.9 591.2h0M340.4 629.1h0M394.6 604.7h0M417.5 606.1h0M427.5 595.8h0M406.7 600.4h0M341.1 636h0M469.8 605.5h0M411.8 617.5h0M387.7 603.6h0M466.9 599.6h0M367.9 628.6h0M317.8 660.4h0M412.1 600.6h0M458.8 595.8h0M369.4 610.3h0M367.2 618.7h0M406.3 610.4h0M351.8 644h0M367.5 633.7h0M445.4 608.7h0M361.6 632h0M362.1 658.5h0M372.9 615.3h0M421.1 607.3h0M457.5 592.1h0M320.8 657.8h0M315 648.9h0M310.7 639.7h0M397.6 631.5h0M414.1 602.9h0M452.7 600h0M367.2 618.9h0M400.4 615.3h0M425.4 603.6h0M418.3 606h0M435 595.6h0M355 631.6h0M409.9 625.6h0M360 629.2h0M292.9 660.8h0M386.2 630.2h0M406 602h0M408.7 621h0M399.3 603.6h0M368.8 631.7h0M470.6 593h0M288.1 674.7h0M459.5 590.8h0M389.9 613.8h0M440.6 596h0M429.2 595.3h0M388.3 614.1h0M446.7 592.9h0M416.5 603.4h0M405.6 629.6h0M379.1 603.9h0M371.4 626h0M376.4 619.2h0M315.2 661.8h0M363.1 609.7h0M313.6 670.2h0M342.6 621.9h0M411.9 603.3h0M392.9 624.1h0M404.2 603.6h0M409.7 615.4h0M290.3 673.3h0M464.8 599.2h0M375.6 643.1h0M335.3 613.2h0M347.8 625.3h0M334.1 655h0M380.4 617.1h0M459.2 592.3h0M417.3 614h0M433.4 594h0M470.4 589.9h0M457.6 605.7h0M467.1 597.5h0M342.5 631.3h0M379.5 645.2h0M466.4 593.3h0M336.1 667.6h0M376.5 603.3h0M305.5 650.3h0M361 635.6h0M389.2 616h0M393.9 616.8h0M330.1 669.6h0M358.3 610.6h0M352.2 625.6h0M437.5 592h0M362.8 603.5h0M431.9 604.3h0M288.8 652.1h0M337.5 635.7h0M378.8 598.9h0M340.8 636.4h0M468.3 593h0M425.1 601.1h0M379.2 609.3h0M442.6 592h0M359.4 605.7h0M403.3 605.6h0M443.8 591.1h0M399.9 626.9h0M446.2 596.9h0M331.4 646.5h0M460.1 594.5h0M370 621.2h0M393.6 622.6h0M391.8 630.9h0M449.7 610h0M329.8 652.7h0M391 617.2h0M461.8 597.4h0M373.8 619.5h0M370.8 610.3h0M305 652.2h0M466.8 594.9h0M301.9 654.6h0M348.3 618.5h0M385.9 614.8h0M396.1 615.7h0M408.8 622.2h0M345.7 646.9h0M441.8 603.7h0M307.5 665.8h0M416.9 624.8h0M413.9 614.9h0M456 597.7h0M337.4 652h0M451.2 599.4h0M342.3 612.3h0M398.3 624.6h0M444.1 598.5h0M442.8 588.8h0M404.2 628.2h0M339.5 663.5h0M453.7 599.6h0M309.8 647.1h0M394.5 593.8h0M302.2 662.9h0M335.6 644.4h0M389.2 637.5h0M467 614h0M352.9 665.5h0M353.8 643.7h0M357.9 630.2h0M363 600.4h0M397.7 593.7h0M455.4 591.8h0M340.7 635.3h0M307.1 675.3h0M302.8 651.2h0M417.6 623.2h0M359.3 636.6h0M398.3 609.9h0M423.9 616.2h0M368.4 632.9h0M394.7 605h0M384.5 600.6h0M375 627.8h0M341.9 623.6h0M470.9 620.5h0M378.6 637h0M452 594.7h0M457.1 600.7h0M310 644.2h0M369.3 606.6h0M296.7 685h0M305 648.3h0M435.5 596.6h0M416.8 614.4h0M320 653.3h0M432.5 604.1h0M397.6 598.3h0M447.5 597.9h0M385.5 599.5h0M375.8 616.1h0M421.9 603.5h0M403.8 603.9h0M317.4 668.9h0M382 611h0M396.5 631.1h0M373.6 634.1h0M368.9 637.4h0M420.9 590.7h0M365 600.5h0M391.5 616.6h0M304.2 672.6h0M376.8 627.4h0M432.1 626.5h0M419.7 601.5h0M454 590.7h0M337.7 658.6h0M448.7 595.9h0M388.9 610.3h0M372.7 625.4h0M292.6 681.9h0M355.4 638.1h0M370.6 633.9h0M355.4 601.9h0M393.3 594.7h0M380.7 619.3h0M397.2 619.7h0M403.3 604.3h0M325.1 644.9h0M366 635.8h0M413.5 612h0M452.9 597.1h0M373.3 629.7h0M371.5 607.7h0M400.6 598.4h0M439.6 591.5h0M288.1 676h0M405.5 610.4h0M451.3 598.9h0M318.5 675h0M417.6 598.8h0M401.2 617.6h0M338 627.2h0M431.7 605.8h0M412.4 594.4h0M340.3 639.4h0M325.8 645.7h0M422.2 612.3h0M471.1 605.9h0M444.2 608.7h0M350.8 637.8h0M401.6 600.2h0M446.6 610.2h0M383.1 617.9h0M417.9 618.4h0M444.5 588.7h0M357.9 635.9h0M350.4 644.1h0M326.3 637.5h0M378.2 624.7h0M440.1 596.3h0M384.8 619.5h0M379.9 612.6h0M316.5 649.1h0M302.9 657.1h0M406.5 600.7h0M400.3 644.9h0M436.4 618.6h0M397.9 629.7h0M404.3 611.3h0M439.5 593.1h0M393.5 609.9h0M280.8 665.4h0M422.1 598.3h0M308.9 653.3h0M372.7 647.8h0M398.2 599h0M357 624h0M425.2 612.5h0M320 662.8h0M306 643.6h0M422.4 609.6h0M333.8 638.3h0M441.5 606.4h0M431.2 607.2h0M298.5 673.3h0M417.7 592.8h0M370.6 630h0M346.9 630.6h0M409.6 622.8h0M387.6 613.6h0M455.3 612.9h0M328.5 639.9h0M382.3 630.4h0M455.1 608.9h0M428.8 588.9h0M470.6 588.8h0M305.7 662h0M315.4 656.7h0M437 607.5h0M328 643.4h0M421.3 610.9h0M365.1 642.4h0M407.9 625.6h0M378.8 605.6h0M379.1 631.3h0M397.5 615.2h0M361.6 641.2h0M328.6 648.2h0M469.7 601.5h0M367.8 635.6h0M321.1 655.3h0M416.4 598.2h0M339.9 611.9h0M388.2 618.7h0M357.6 641.6h0M390.6 632.9h0M270.5 670.5h0M415.7 604.5h0M410.2 621.6h0M427.1 602.4h0M424.1 594.2h0M399.2 601.9h0M335.9 644h0M407.1 593h0M304.7 649.4h0M413.4 591.8h0M457.4 612.3h0M336.5 632.6h0M374 644.6h0M434 595.3h0M467.4 601.1h0M453.5 598.3h0M460.3 591.9h0M364.9 621.3h0M414.1 613.5h0M450.9 590.6h0M324.7 637h0M418.1 614.6h0M390 592.6h0M446.1 605.7h0M344.1 632h0M297.2 673.3h0M407.8 610.6h0M398.2 615.2h0M437.8 613.4h0M396.5 629.3h0M400.8 593.7h0M465.3 591.1h0M387.9 603.5h0M354.5 631.3h0M341.3 643.5h0M427.4 597h0M388.6 611.4h0M420.9 609.5h0M367.1 630.8h0M422.8 599.5h0M452.1 593.5h0M426.6 607.8h0M466.8 591.8h0M405.7 625.9h0M400.2 593.6h0M426.8 589.9h0M410.7 624.1h0M444.3 607.2h0M285.9 679.9h0M389.6 627.6h0M360 624.4h0M311.9 659.3h0M449.2 607.4h0M413.6 619.3h0M306.1 667.8h0M424.4 601.9h0M432.9 592.9h0M441.1 592.3h0M410.5 603.4h0M337 628.8h0M435.5 599.3h0M381.2 630.3h0M402.7 603h0M377.8 614h0M321.3 647.8h0M304.2 661.3h0M417.7 592.1h0M433.8 605.2h0M369.2 616.5h0M364.9 621.6h0M324.9 657.7h0M415.5 622.7h0M361.5 613h0M469 603.6h0M432.8 593.7h0M332.7 636.3h0M373 616.2h0M456.6 598h0M316.4 641.7h0M324.6 635.5h0M375.2 624.9h0M407.6 615.8h0M415.4 611.4h0M377.4 605.3h0M379.1 621.5h0M418.9 591.8h0M313.8 665.4h0M467.3 609.3h0M390.3 609.6h0M415.1 608.9h0M459.3 593.2h0M411 596.2h0M306.8 655.3h0M449.6 604h0M390.2 614.6h0M384.2 629.6h0M460.9 592.8h0M382.3 614.9h0M434.1 603.7h0M387 612.1h0M340.7 624.2h0M332.9 627.8h0M362.3 634.6h0M433.9 592.2h0M425.1 619.1h0M410.5 600.7h0M395.4 616.2h0M404.8 622.3h0M399.3 602.8h0M447.7 589.8h0M420.3 593.7h0M340.3 649.4h0M330 641.6h0M375.6 638.5h0M411.6 605.7h0M338.9 642.1h0M400.6 605.7h0M353.7 611.4h0M365.9 619.4h0M396.5 605.5h0M406 602.7h0M469.2 591.2h0M413.4 617.1h0M452 592.5h0M400.4 601.3h0M398 626.9h0M414.9 611.6h0M429.2 589.1h0M358 618.9h0M431.8 610.3h0M390.4 615.2h0M389.3 614h0M435.2 593h0M377 622h0M436.1 601.4h0M351.2 626.9h0M425.8 603.8h0M293.6 666.2h0M405.2 635.9h0M359.6 627.8h0M461.7 601.9h0M405 618h0M468.9 593.6h0M380.1 610.4h0M390.4 614h0M402 605h0M419.9 615.4h0M467.1 597.3h0M365.6 629.6h0M420.2 598.1h0M457.2 589.6h0M318.8 685.6h0M408.8 616.6h0M299 645h0M389.6 629.1h0M364.3 611.6h0M443.1 602h0M452.8 603h0M427.7 611.2h0M350.7 601.5h0M336.3 621h0M352.6 618h0M464 596.5h0M445.1 601.6h0M321.3 650.5h0M352.4 625.1h0M331.3 638.8h0M425.8 598.5h0M451.7 608.5h0M400.4 624.6h0M398.6 608.7h0M428.6 620.8h0M389.3 624.2h0M398.1 599.4h0M379.9 619.1h0M357.1 622.2h0M438 602.8h0M434.4 617h0M470.4 590.5h0M424.1 592.4h0M315.8 649.6h0M389.4 606h0M304.9 661h0M412.4 615.4h0M371.7 608.9h0M387.5 620.3h0M436.9 601.8h0M432.7 591.8h0M339 627.6h0M329.7 625.8h0M409.7 590.1h0M387.8 637.8h0M448.9 601.8h0M428.5 594.8h0M319.8 642.8h0M376.8 633.7h0M447.6 601.8h0M376.1 637.2h0M386.4 612.8h0M435.4 609.9h0M370.7 603.8h0M329.2 654.4h0M394 634.3h0M339.2 633.7h0M331.3 631.8h0M445 615.2h0M399.1 615h0M289.5 653.2h0M433.9 597.1h0M427.3 607.5h0M387.3 638.5h0M354.1 641.6h0M444.2 590.9h0M320.8 641.6h0M363.1 620.6h0M405.8 594.1h0M398 598.7h0M440.9 600.5h0M336.2 644.6h0M434.2 619.1h0M447.2 596.2h0M353.2 627.9h0M316.8 646.8h0M467.5 592h0M424.5 621.7h0M324.1 638.1h0M376.6 636.2h0M445.3 612.7h0M344.1 635.5h0M404.1 612.2h0M420.9 616.5h0M346.9 627h0M409.6 597.9h0M393.3 608.6h0M451.9 609.8h0M360.3 635h0M374.6 641.1h0M450.2 616.5h0M308.2 638.2h0M335.7 649.5h0M439.7 594.2h0M368.1 610.9h0M411.6 621.8h0M389 606.7h0M443.6 595h0M431.1 619.6h0M355.5 635.7h0M422.1 598.5h0M355.5 632.6h0M425.4 612.6h0M273.1 672.5h0M342 650.4h0M342.3 639.2h0M394 607.8h0M370.6 630.9h0M403.8 608.6h0M285.6 658.6h0M467.2 596.5h0M398.2 597.3h0M366.3 608.2h0M335.8 637.1h0M346.3 639.3h0M344.5 638h0M464.7 602.7h0M396.4 618.3h0M328.1 641.3h0M444.4 595.9h0M337.2 644.1h0M290.1 658.7h0M376.5 633.2h0M393.4 611.5h0M391.4 603.4h0M299.4 667.7h0M400.7 595.4h0M433.3 593.4h0M470.6 606.5h0M402.3 609.5h0M362.4 636.7h0M365.5 617.7h0M418.1 599.1h0M429.1 612.6h0M445 595.7h0M398.3 613.9h0M341.3 643.9h0M292.1 655.8h0M453 604.7h0M363.2 611.8h0M456.7 592.6h0M421.7 615h0M404.7 608.3h0M422.2 604.8h0M425.1 606.2h0M427.8 593.3h0M296.2 662.1h0M338.8 624.8h0M396.4 594.6h0M443.1 615.2h0M390.4 614.4h0M305.9 668.4h0M342.3 655.4h0M427.1 610.4h0M344.9 609.2h0M363.1 612.5h0M392.3 629.1h0M337.3 637.9h0M468 589.9h0M442.9 607.6h0M453.9 599.4h0M408.9 613.7h0M315.1 664.3h0M324.6 653.6h0M445.3 597.2h0M436.1 589.8h0M317.9 629.7h0M404.3 607.1h0M447.5 606.8h0M405.7 612.1h0M316.5 639.4h0M365.1 629.2h0M371.3 625.2h0M360.3 617h0M447.9 593.7h0M386.9 611h0M372.2 620h0M440 606.8h0M429.3 591.8h0M438.1 610.1h0M331.2 628.4h0M460.5 592.2h0M311.1 653.4h0M395.3 596.8h0M467.3 591.9h0M340.8 637.3h0M412.5 619.1h0M346.1 634.8h0M443.3 602.6h0M342.9 639.4h0M437.3 597.1h0M455.6 588.7h0M361.8 631.3h0M387.3 623.4h0M453.5 596.3h0M410.7 621.7h0M455.9 591.4h0M413.9 598h0M346.6 631.5h0M361.8 602.4h0M425.5 613.8h0M388.4 589h0M341.9 634.7h0M296.1 684.2h0M319 628.4h0M369.7 625.7h0M470.4 604.6h0M397.1 622.7h0M416.8 600h0M367.8 633.6h0M349.2 624h0M408.9 611.4h0M350.3 647.2h0M341.1 622.3h0M342.5 650.2h0M454.2 599.6h0M435.6 605.7h0M434.5 611.9h0M414.4 607.9h0M451.2 594.5h0M350.1 627.4h0M406.4 625.2h0M397.5 597.7h0M467.8 593.6h0M302.8 657.4h0M366.3 623.6h0M360 625h0M458.3 596.5h0M371.6 608.7h0M338 651h0M296.8 650.6h0M371 625.7h0M366.6 621.1h0M393.7 633.1h0M450 596.1h0M404.2 592h0M397.8 602.3h0M437.9 601.7h0M375.9 618.8h0M377.5 619.5h0M406.1 603.6h0M431.6 610.1h0M439.7 597.2h0M428.3 594.3h0M386.3 617h0M349 620.3h0M465.4 593.6h0M425.4 636.4h0M470.9 590.7h0M393.8 630.7h0M470.1 601.4h0M409.8 617.3h0M430 598.5h0M341 614.3h0M351.1 627.5h0M309.1 662.2h0M371.2 629.6h0M386.1 617.9h0M385 619.5h0M399.8 620.1h0M428.7 609.3h0M402.5 611h0M359.6 619.8h0M387.7 629.2h0M458.1 597.8h0M462.4 595.7h0M437.9 611.6h0M359.9 629.5h0M458.7 590.6h0M385.5 625.8h0M321.3 657.4h0M320.1 642.7h0M407.7 610.2h0M323.9 637.9h0M365.3 632h0M305.3 659.4h0M341.7 631.2h0M440.4 594.9h0M401.8 618.3h0M359.5 616.6h0M409.2 608h0M391.3 625.4h0M383.9 624.1h0M463.1 592.1h0M422.1 590.5h0M367.7 639.2h0M315.9 658.5h0M421.9 610.9h0M465.6 599.9h0M418.8 607.2h0M303.1 669.4h0M366.6 634.1h0M277.2 688.1h0M412.5 624.1h0M348.7 651.9h0M352.3 635.7h0M415.6 601.5h0M348.9 630h0M425 594.1h0M444.8 593.9h0M426.6 610.1h0M461.2 604.5h0M379.5 610.8h0M436.2 607.1h0M418 621.6h0M448.9 589h0M290.6 660.5h0M398 618.4h0M411.1 595.8h0M396.5 620.6h0M338 644.4h0M399.1 612.6h0M428.6 602.5h0M432.8 608.4h0M383.2 617.8h0M401.5 609.1h0M400.5 619h0M455.1 596.4h0M447.9 589.4h0M325.3 630.9h0M466.3 593.2h0M339.6 618.9h0M326.6 636.1h0M323.7 652.6h0M363 625.6h0M334.8 653.1h0M449.8 601.1h0M332.1 648.3h0M409.4 614h0M444.8 611.3h0M434 604h0M436.8 607.9h0M429.7 611.5h0M467.2 593.8h0M385.3 613.5h0M381.7 628.6h0M420.2 604.5h0M328.5 651.5h0M431.3 603.2h0M448.2 607.7h0M334.4 622.4h0M424.1 600.9h0M409.5 608.2h0M432.6 606.2h0M345.7 615.5h0M395.3 611h0M440.5 614.4h0M463.1 614.5h0M418.1 594.1h0M397.3 604.6h0M439.1 603.4h0M424.2 624.1h0M445.6 609.2h0M456.5 590.2h0M424.1 623.3h0M405.8 592.1h0M319 644.4h0M314.4 667h0M301.1 663.1h0M346.2 631h0M302.5 658.1h0M302.7 662.1h0M360.3 618.9h0M309.4 652.2h0M416.9 619.1h0M348.1 624.6h0M330.6 647.5h0M388.9 626.1h0M400 593.3h0M396.3 617.7h0M452.7 611.2h0M380.4 613h0M446.5 602.7h0M360.4 653.3h0M398.6 612.7h0M471.5 592h0M404.1 629.4h0M386.5 623.2h0M302.8 644.7h0M434.9 606.5h0M438.3 609.8h0M349.5 617.8h0M471.5 595.3h0M422.6 608.7h0M338.8 652.8h0M418.6 610.1h0M433.7 603.4h0M309.6 658.8h0M371.2 629h0M363 636.1h0M382.3 603.5h0M322.6 628.4h0M357.2 637.1h0M331 643.5h0M292.2 679.5h0M340.4 628.7h0M427 599.1h0M370.3 598.7h0M305.8 620h0M381.7 622.3h0M459.4 590.8h0M429.6 590.3h0M394.8 606h0M380.8 611.7h0M457.7 613.8h0M276.5 675.8h0M447.3 606h0M424.7 603h0M396.1 604h0M367.2 640.9h0M378.2 641.4h0M431.1 608.9h0M451.3 593.3h0M463.6 599.4h0M352.1 629.3h0M320.1 634.2h0M444 632.3h0M375.4 617.8h0M409.5 612.3h0M398.3 628.1h0M328.7 624h0M332.2 663.2h0M451.6 625.5h0M378.3 611.4h0M423.3 609.3h0M449.7 589.8h0M391.7 597.4h0M450.6 590.3h0M436.2 604.7h0M459.7 595.2h0M311.1 660.2h0M443.2 594.4h0M396.9 599.7h0M425.3 597.3h0M408.8 622.6h0M297.3 645.2h0M338.7 632h0M417.4 623.5h0M392.6 621h0M441.6 598.3h0M382.5 589.4h0M422.9 601.2h0M417.4 628.7h0M340.1 637.1h0M372.2 622h0M363 634.4h0M295.6 674.5h0M417.9 595.9h0M464.6 593.8h0M319.6 641.4h0M399.2 614.5h0M376 628.3h0M383.6 617.4h0M411.6 616.3h0M421.4 595.7h0M311 665.3h0M458.8 591.2h0M410.8 596.9h0M372.5 639.7h0M439.7 594.7h0M360.7 614.2h0M364.5 630.3h0M350.8 639.3h0M356 628.8h0M335.6 631.8h0M419.8 613.8h0M389 614.2h0M367.5 623.6h0M457.1 590h0M400.9 603.8h0M415 604.4h0M427.8 613.8h0M458.4 593.6h0M359.1 642.1h0M359.6 620.3h0M391.5 632.9h0M399.7 618.6h0M423.4 592.7h0M463.3 603.7h0M303.1 645.4h0M441.1 593.6h0M442.5 624.2h0M411.4 636.3h0M442.1 597.6h0M378.4 633.1h0M362.8 629.1h0M427.5 605.7h0M436.8 615.2h0M404.6 594.5h0M449.7 606h0M408.4 615.2h0M460.3 600.1h0M376.3 616h0M377.8 610.8h0M348.3 655.7h0M443.8 600.1h0M304.9 631.3h0M451.5 598.3h0M370.5 598h0M417.7 589h0M434.4 600h0M311.5 647.8h0M310.9 652.7h0M419.7 598.7h0M348.8 618.5h0M344.7 619.9h0M372.6 602.5h0M431.3 591.5h0M375.1 631.7h0M325.8 628.2h0M433 590.6h0M389.9 640.9h0M316.2 629.1h0M402.4 595.3h0M372.4 603.8h0M290 670.9h0M363.7 629h0M302.3 664.9h0M446.3 589.4h0M367.7 633.6h0M432.6 608.1h0M430.7 600.2h0M399.6 618.2h0M353.7 597.7h0M359.9 649.6h0M376.7 614.5h0M421.4 608.7h0M353 628.4h0M408 616h0M418.5 625.1h0M349.7 639.3h0M349.8 651.8h0M408.2 614.4h0M463.9 618.3h0M287.5 657.9h0M417.4 620.2h0M383.4 606.6h0M414.6 602.1h0M401.2 606.5h0M440.5 598.5h0M307.9 649h0M381.2 607.3h0M346.9 617.8h0M404.7 616.5h0M416 622.1h0M409.1 600.6h0M374.2 612.2h0M413.5 623.3h0M412.4 602.8h0M369.4 600.6h0M335.2 631h0M319.7 648.9h0M425.2 599.9h0M336.6 634.4h0M382.6 616.9h0M397.8 616.6h0M347.9 656.8h0M377.4 631.4h0M397.2 620.2h0M471 604.3h0M399.2 617.9h0M423.2 604.4h0M454.7 592.6h0M437.9 589.6h0M333.5 637.3h0M429.8 603.9h0M379.1 635h0M445 602.9h0M431.7 614.4h0M462.9 597.4h0M341.4 638.4h0M446.1 603.5h0M335 632.9h0M327.3 620.5h0M346.1 629h0M435 594.6h0M419.9 608.7h0M412.1 610.9h0M410.9 609.4h0M350.8 613h0M448.5 605.2h0M334.7 630.4h0M339.5 619.9h0M445.9 594h0M462.9 590h0M451.5 589.4h0M469.5 603.3h0M430.9 615h0M417.7 593.1h0M462.2 591.8h0M333.2 644.4h0M434.6 602.5h0M357.3 640.5h0M324.1 636.1h0M415.7 604.6h0M438.1 596.4h0M369.6 601.7h0M342.9 637.1h0M445.7 603.4h0M426.5 605.6h0M380.3 588.7h0M366.4 638.8h0M435.9 603.5h0M468.5 602.2h0M281.2 675.3h0M467.7 590.9h0M370.5 616.4h0M463.7 596.6h0M369.2 613.7h0M348.1 617.7h0M409 591.2h0M422 602.9h0M405.9 627.3h0M392.2 606h0M324.9 652.5h0M445.3 595.8h0M343.9 627.9h0M440.3 591.1h0M295.1 655.7h0M467.4 594.9h0M362.6 639.2h0M435.1 616.9h0M373.3 610.3h0M414.1 599.7h0M403.3 598.5h0M345.6 639h0M431.8 591.9h0M436.9 600h0M437.2 594.5h0M457.4 592h0M435.5 591h0M441.3 601.9h0M356 650.9h0M437 593h0M363.4 641.6h0M462.3 606.4h0M358.4 639.6h0M377 634h0M399.7 628.4h0M397.9 601.6h0M466.3 592.3h0M379.9 618.4h0M322.5 645.2h0M380.2 627.1h0M378.1 647.4h0M402.3 598.5h0M401.6 626h0M372.5 609.3h0M426.9 611.5h0M435.4 597.8h0M457.3 596.9h0M381.9 629.1h0M390.2 602.2h0M395.5 626.7h0M414.4 605.2h0M416.2 593.6h0M441.6 590.4h0M425.1 602.7h0M443.6 598.1h0M304.9 647.7h0M381.4 623.1h0M304.4 669.4h0M355.3 623.1h0M410.7 596.2h0M377.9 596.1h0M319.3 660.9h0M362 631.7h0M402.2 597h0M431.9 596.9h0M433.6 610.7h0M348.8 645.9h0M382.2 607.2h0M348.7 605.1h0M380.5 627.1h0M409.2 611.2h0M417.5 602.6h0M405.3 625.3h0M452.3 600.7h0M470.6 597h0M347.4 642.7h0M407.6 613.7h0M411.8 591.1h0M443.8 595.3h0M414.9 596.6h0M308.3 658.6h0M350.2 653.9h0M275.2 675.7h0M393.3 611.9h0M425.5 595.6h0M298.3 650.6h0M323.9 654.1h0M359.8 609.3h0M361.3 639h0M423 608.6h0M326.8 646.7h0M378.2 614.2h0M372.6 644.4h0M456.3 605.9h0M398.7 620.2h0M456.6 605.4h0M410.7 612.2h0M308.5 659.6h0M416.9 614.3h0M353.1 642.5h0M378.5 631.9h0M317.1 663.3h0M396.6 621.5h0M378.3 620h0M420.4 605.5h0M415.5 598.3h0M338.8 617.7h0M406.3 619.2h0M337.8 619.1h0M396.5 613.7h0M407.4 593.8h0M360.9 636.2h0M414.6 612.9h0M427 605.4h0M464.2 621.1h0M363.9 612.7h0M371.5 618.3h0M389.7 631.9h0M437.1 589.1h0M468 594.8h0M426.4 607.1h0M277.2 647.7h0M469.3 594.8h0M410.8 601.6h0M400.9 601.5h0M422.2 628.6h0M416.1 615.7h0M425.3 603.2h0M457.4 602.7h0M423.9 602.9h0M454 599.3h0M439.5 598.9h0M432.1 589.8h0M346.6 631.5h0M445.5 600.4h0M464.2 605.4h0M357.7 619.5h0M335.3 660.5h0M286.2 668.2h0M361.4 626h0M356.9 652.1h0M385.9 630.4h0M434.4 595.9h0M336 644.9h0M316 632.6h0M335.2 648.3h0M464.2 590.3h0M464.4 589.7h0M405.7 632.9h0M365.2 620.2h0M438 611.9h0M373.3 640.9h0M374.6 633.3h0M448.1 591.8h0M411.4 610.6h0M419.5 613h0M295.4 637.4h0M326.7 653.4h0M353.1 645.2h0M279 661h0M464.1 591.4h0M284.8 652.5h0M347.9 661.9h0M411.3 619.4h0M392.6 603.5h0M362.4 644.4h0M297.6 652.8h0M425.3 595.7h0M424.2 592.3h0M391.8 634.3h0M401.9 604.3h0M407.7 627.7h0M361.1 658.3h0M393.5 612.9h0M380.3 626.1h0M452.8 598.1h0M442.8 606.1h0M410.6 604.3h0M463.8 588.8h0M428 591.4h0M377.9 627.8h0M382.7 635.6h0M386.8 633.5h0M367.1 602.2h0M347.5 630.9h0M440.3 591.3h0M468.4 604.6h0M365.9 623.9h0M402.8 602h0M348.6 645.5h0M378.3 625.7h0M452.8 601.6h0M462.6 597.7h0M385.5 616.1h0M326.8 642.1h0M338.8 659.5h0M390.9 607.7h0M281.3 677.6h0M346.4 619.9h0M464.4 610.5h0M422.3 593.7h0M300.5 659h0M405.4 597.1h0M423.4 603.2h0M402.2 613.8h0M455.4 592.4h0M287.1 682.8h0M456.7 604.3h0M416.2 593.4h0M415.7 617h0M354 620.3h0M311 649.5h0M429.3 594.1h0M427.5 614.1h0M392.3 611h0M411.5 619.1h0M350.3 603.5h0M281.2 664.4h0M370.8 620.4h0M452.6 606.1h0M412.3 597.2h0M294.2 671.8h0M353.6 626.7h0M406.1 608.3h0M372.5 626.1h0M408 618.1h0M302.8 648h0M422.1 617.1h0M403.2 636.1h0M377.2 618h0M390.5 606.7h0M455.1 594.8h0M342.3 643.9h0M372.1 644.4h0M373.5 620.2h0M436.4 610.1h0M416.2 604.2h0M466 593.3h0M415.4 596.2h0M404.4 615h0M463.2 613.4h0M453.2 599.1h0M375.1 623.8h0M455.1 604.5h0M399.2 596.8h0M440.9 593.2h0M426.1 610.5h0M279.8 666.8h0M416.9 599.3h0M402.3 627.8h0M333.1 639.8h0M405 596.7h0M374.5 603.9h0M310.4 674.4h0M305.7 651.9h0M461.3 597.7h0M412.2 618.3h0M302.8 676.9h0M424.1 599.7h0M317 629.1h0M446 590.3h0M428.8 609.5h0M413.8 590.8h0M430.1 597.4h0M331.3 654.1h0M357.3 607.5h0M449.4 598.8h0M464.9 589.8h0M443.1 617.9h0M302.8 658.9h0M426.8 589.4h0M438.6 601.4h0M422.3 628.1h0M383.5 626.7h0M454.6 602.7h0M396.9 610.2h0M406.6 608.3h0M447.2 589.3h0M380.8 626.3h0M441.1 603.8h0M382.4 629.8h0M399.5 608.5h0M463.2 591.6h0M419.8 589.6h0M413.1 623.1h0M357.5 641.2h0M378.4 630.7h0M404.3 599.3h0M436.1 601h0M389.6 618.8h0M451.8 592.1h0M350.5 633.3h0M471.4 589.9h0M416 602.2h0M416.6 602.8h0M447.2 591.4h0M349.1 592.9h0M389.4 608.8h0M459.3 596.3h0M360.7 618.7h0M448.8 609h0M398.7 606.5h0M334.4 645.5h0M451.6 604.4h0M387.5 601h0M363.8 619.3h0M465.1 608.3h0M375.6 630.8h0M442.9 604.9h0M426.2 588.8h0M392.5 626.8h0M437.1 593.4h0M287 668.8h0M435.6 615.9h0M317.7 637.2h0M427.7 611.8h0M367.3 630.1h0M451.9 595.4h0M447.5 605h0M462.1 601.8h0M349.1 635h0M289.3 672.5h0M435.4 610.5h0M414.9 590.8h0M422.3 600.2h0M415.1 611.9h0M394.6 644.4h0M430.9 611.1h0M310.4 658.7h0M404.6 605.4h0M462.4 605.1h0M436.4 610.2h0M398.5 589.5h0M471.3 590.1h0M464.5 593.1h0M462.9 601.6h0M393.9 616.6h0M437.4 599.8h0M405.2 614.3h0M449 592.9h0M363 609.1h0M363.4 630.7h0M341.1 628.3h0M429.9 617.1h0M325.7 637.7h0M399 594.2h0M431.6 605.6h0M420.3 612.9h0M423.7 625h0M440 599.5h0M338.7 631.9h0M402.5 608.3h0M376.6 608.1h0M456.5 590.8h0M324.2 651.8h0M314.7 654.5h0M462.2 589.4h0M459.8 611.9h0M469.5 613.2h0M322.1 647.8h0M460.7 592.1h0M399.6 616.5h0M354.8 621.8h0M414.7 597.1h0M425.2 592.9h0M450.4 602h0M338.5 651.4h0M427.8 594.7h0M387.8 633.6h0M389.8 601.6h0M391.4 608.5h0M369 596h0M397.7 618.1h0M375.7 612.8h0M380.3 613.9h0M345.3 631.7h0M380 634h0M463.6 589.6h0M347.1 636.3h0M361.6 632.4h0M418.1 589.4h0M422.4 616.1h0M333.6 648.6h0M359.1 618.7h0M407.7 625.9h0M444.5 590.3h0M395.2 612.1h0M461.4 600.2h0M354.4 626.5h0M360.3 641.9h0M348.1 611.3h0M424.8 611h0M435.3 613.5h0M439.9 626.2h0M429.8 626.7h0M358.5 624.3h0M435.5 610h0M395.1 610.1h0M416 618.9h0M426.7 616.2h0M416.5 611.4h0M461 602.7h0M424 609.7h0M367.7 641.4h0M465 591h0M451.4 595.8h0M411 623.6h0M309 666.8h0M420.2 607.2h0M398.6 619h0M389.7 621h0M383.4 625.3h0M348.4 637.5h0M343.1 622.4h0M437.8 597.4h0M413 609.5h0M471.8 605.9h0M404.2 612.7h0M328.1 651.4h0M371.2 612h0M353.9 614.8h0M422.5 631.3h0M371 627h0M454.8 607.8h0M387 610.9h0M462.2 607.8h0M462.4 591.5h0M414.8 606.8h0M354.6 651.1h0M445.5 593.1h0M350.1 647.9h0M393.7 623.6h0M363.9 628.2h0M440.4 614h0M391.6 611.6h0M318 663.3h0M422 606.5h0M406.3 616.5h0M296 658.5h0M384.5 620.3h0M440.3 605.7h0M456.7 604.1h0M375.9 625.6h0M442.6 622.8h0M352.1 627.5h0M346.2 613.5h0M305.9 655.9h0M394.5 613.2h0M433.2 592.8h0M436 594.3h0M383.7 612.6h0M297.9 651.7h0M327.6 645.2h0M373.6 629.6h0M381.3 612.1h0M373.2 618.7h0M445.1 606.4h0M302.4 674h0M465.1 608.6h0M371.4 649.3h0M394.3 611.8h0M448.4 590.6h0M405.9 604.7h0M339.6 657.8h0M443.5 593.3h0M354.4 618.2h0M429.9 618.3h0M454.9 596.4h0M435.1 600h0M389.1 615.1h0M432 601.6h0M447.5 602h0M343.2 631.1h0M415.4 597.4h0M375.6 609h0M464.7 590.6h0M430.4 596.8h0M467 602.6h0M466.8 589.6h0M436.8 590.8h0M390.8 626.2h0M406.7 614.9h0M389.5 626.3h0M418.4 595.4h0M297.2 665.4h0M432.5 602h0M371 624h0M366 629.4h0M436.6 602.2h0M441.6 607.5h0M386.2 606.8h0M460.2 594.6h0M348.6 637.1h0M368.5 617h0M291.2 661.5h0M325.5 655.3h0M371.9 613.9h0M351.1 621.4h0M416.7 598.7h0M432.6 594.7h0M393 620.8h0M427.2 600.3h0M369.3 623.2h0M438.1 589.7h0M416.5 606.1h0M303.1 666h0M334.4 630.8h0M356.1 628.8h0M453.8 591.7h0M398.6 607.7h0M363.7 622.3h0M433.1 607.1h0M436.6 594.5h0M450.9 590.2h0M460.3 590.3h0M438.3 590.1h0M420.3 615.4h0M376.4 626.2h0M345.3 628.3h0M419.2 593.6h0M394.4 620.7h0M466.9 591.2h0M405.5 629.5h0M408.9 627.8h0M321 642.7h0M284.7 660.9h0M348.2 627.4h0M393.4 614.2h0M385.1 619.2h0M405.4 617.3h0M379.2 605.5h0M446.5 594.7h0M364.5 635.5h0M420 612.9h0M343.1 629.5h0M304.4 651.7h0M296.7 672h0M413 602.9h0M345.2 652.8h0M454.6 589.8h0M395.7 634.7h0M361 612.6h0M386.4 652.6h0M442.3 591.9h0M302.1 644.8h0M437.2 611h0M392 620.1h0M434.9 591h0M383.2 618h0M328.6 620.6h0M434.9 635.4h0M290 686.4h0M325.6 653h0M449 589.2h0M445.6 607.5h0M335.7 624.8h0M449.9 589.7h0M339.6 655.1h0M324.4 626.7h0M370.2 637h0M448.6 607h0M425.7 596.8h0M331.7 624.7h0M338.1 631.2h0M449.9 611.2h0M347.3 641.3h0M467.5 611.2h0M335.6 645.8h0M413.7 601.5h0M407 623.9h0M411.1 615.6h0M412.5 594.9h0M428.9 596.7h0M463.7 611.1h0M424.3 619h0M341 631.2h0M413.2 595.3h0M356.8 636.5h0M433.9 594.8h0M433 604h0M445 606.4h0M431.6 594.2h0M360.9 627.1h0M370.7 622.4h0M372.3 617.6h0M374.3 629h0M383.8 614.5h0M303.4 635.2h0M379.4 627.4h0M442.7 608.5h0M418.7 619.8h0M355.2 648.3h0M462.6 604.4h0M395.5 618.3h0M410.9 589.4h0M404 607.6h0M351.8 642h0M372.1 607.1h0M355.2 624.4h0M415.8 598.1h0M410.2 618.8h0M411.5 618.4h0M340.9 638.5h0M326.7 636.5h0M400.8 627.9h0M454.2 592.7h0M432.3 600.9h0M463.9 621.9h0M395.5 604.4h0M359.7 635.8h0M313.6 632.7h0M459.2 592.6h0M366.7 646.2h0M394.7 615.7h0M335 627.9h0M446.6 592.9h0M325.5 648.7h0M293.9 683.8h0M447.1 595.1h0M375.1 629.7h0M407.9 640.5h0M393.6 593.9h0M326.9 611.9h0M350.7 651.5h0M422.6 603.9h0M434.6 592.2h0M296.7 658h0M401.9 609.1h0M394.2 613.9h0M413.1 591.5h0M414.8 612h0M410.4 613.7h0M307.8 620.6h0M400.5 599.6h0M369.9 637.6h0M429.7 599.3h0M288.4 679.9h0M350 626.8h0M418.5 590.7h0M458.4 597.1h0M418 599.7h0M448 600.6h0M317.5 652.9h0M373.2 610.4h0M439.9 590.2h0M417.6 595.9h0M425.3 628.7h0M409.5 619h0M468.2 599.7h0M425.9 598.9h0M384 607.2h0M334.1 641.9h0M303.7 666.1h0M429.8 609.4h0M436.8 608.1h0M334.7 657.2h0M450.1 591.3h0M425.1 596.2h0M396.2 604.4h0M395.7 623.7h0M451.5 614.3h0M348.3 613.3h0M358 634h0M448 593.4h0M407.7 615.5h0M406.1 615.4h0M325.8 632.4h0M432.7 625.2h0M363.2 639.4h0M374 630h0M391.7 608h0M415.4 614.3h0M417 597h0M337.4 647.8h0M414.8 601h0M320 619.3h0M365.5 623.1h0M464.3 592h0M465.4 603h0M418.2 619.9h0M413.9 596.5h0M458.1 594.6h0M345.9 617.3h0M359.4 640.3h0M422.1 625h0M319.2 661.2h0M336.7 626.4h0M403.9 607.2h0M387.9 601.8h0M288.3 662.4h0M471.3 596.8h0M421.4 593.9h0M367.3 621.4h0M449 603.2h0M392.9 632.5h0M421.6 615.8h0M292.1 676.5h0M339.7 631.9h0M380.2 629.9h0M440.5 605.1h0M374.8 614.9h0M361.8 638.6h0M443.9 593h0M447.8 604h0M396.5 610.9h0M426.4 604.3h0M352 640.2h0M447.4 596.5h0M430.8 590h0M346.8 637.5h0M469.1 603.9h0M371.9 627.1h0M409.1 612.3h0M405.2 597.6h0M322.6 655.7h0M321.5 639.1h0M430.3 626.8h0M331.3 623.2h0M385.6 628.5h0M365.4 645.4h0M380.7 625.2h0M445.9 604.4h0M434.2 614.6h0M439.1 603.9h0M382.6 626.6h0M363.4 617.6h0M410.6 606.6h0M298.5 679.9h0M465.4 598.8h0M281.8 666.3h0M358.7 619.9h0M427 592.5h0M402.4 591.6h0M343.3 639.9h0M411.9 592.7h0M444.9 598.3h0M377 617.7h0M377.8 608.9h0M424.9 601.8h0M325.6 632.2h0M406.4 608.8h0M375.4 622.8h0M344.3 639.3h0M354.7 636.9h0M460 594.9h0M456 596.4h0M424.9 615.3h0M416.9 620.8h0M451.8 598.9h0M408.7 618.5h0M438.9 590.1h0M432.5 590.6h0M417.6 591h0M448.9 605.8h0M468.3 592.4h0M431 598.1h0M416.7 595.8h0M386.6 614h0M380.6 612h0M449.7 588.9h0M393.9 615.2h0M386.7 608.2h0M448.3 590h0M416.1 601.8h0M442.9 595.5h0M392.7 624h0M416.3 608.4h0M466.3 600.3h0M375.4 609.3h0M403 603.8h0M468.9 602.7h0M467.4 590.9h0M407.4 602.1h0M463.6 588.9h0M414.4 606.4h0M449.5 612.8h0M415 619.6h0M337.6 658.5h0M429.1 604.4h0M367.9 628.7h0M402.9 601.4h0M469.9 589.7h0M406.6 600.4h0M449 602.6h0M419.9 617.7h0M384.5 638.6h0M451.4 590.2h0M380.2 623.4h0M380.5 629.5h0M456.7 600.4h0M331.9 606.7h0M375.1 615.2h0M367.2 619.7h0M431.2 600.9h0M371.7 628.8h0M441 620.2h0M452.1 591.1h0M397.1 616.2h0M287.9 669.2h0M289.5 660.7h0M447.3 588.8h0M334.2 643.3h0M416.2 622.5h0M471.4 589h0M333.7 620.9h0M330.8 652.7h0M414.9 594.4h0M419.4 605.2h0M382.3 623.6h0M386.4 602.5h0M469.5 611.2h0M329.4 631h0M310.4 668.4h0M391.6 602.4h0M429.4 609.8h0M408 615.1h0M423.6 616.5h0M461.1 593.7h0M352.3 615h0M409.4 609.4h0M432.1 614.7h0M342.4 616h0M396.7 630.7h0M388.5 636.7h0M455.2 593.8h0M308.2 643.9h0M459.5 590.4h0M451.6 597.7h0M375.4 612h0M417.6 615.9h0M321.8 629.8h0M376.3 644h0M378.4 611.9h0M455 614.4h0M379.4 618.3h0M370.6 611.7h0M432.1 614.4h0M411.1 590.6h0M374.1 603.3h0M414.1 598.6h0M436.9 588.7h0M434.3 601.5h0M378.1 639.4h0M461.2 590.9h0M381.4 612.8h0M447 614.3h0M335.7 652.3h0M406.3 616.5h0M344.9 650.7h0M399.7 608.7h0M403.6 609.4h0M393.1 602.1h0M399.7 601.8h0M381.1 620.2h0M321.8 634.4h0M435.9 600.5h0M384.6 624.9h0M428.6 622.8h0M411.9 598.8h0M414.9 619.8h0M445.6 603.4h0M393.7 620.6h0M366.8 633h0M463.7 593.4h0M374.8 621.2h0M370.1 621.6h0M425.1 596.9h0M398.8 617.1h0M388.2 618.3h0M340.4 627.3h0M317.2 652.9h0M293 662h0M428.1 601h0M335.4 668.5h0M341.6 602.4h0M418.3 590.5h0M331.7 636.2h0M434.4 619.4h0M415.9 589.5h0M317.4 672.9h0M397.4 600.9h0M322.8 647.1h0M346 644.8h0M312.2 650.6h0M396.1 594.4h0M422.3 596.8h0M395.6 630h0M470.2 590.9h0M356.3 613.8h0M383.7 622.9h0M370.2 619.1h0M440.8 600.7h0M276 687.4h0M301.5 662.7h0M390.8 620h0M322.1 665.1h0M282.3 661.8h0M367.3 630.4h0M366.2 634.4h0M426.1 604.8h0M411.4 605.9h0M307.6 663h0M315.5 643.4h0M315.2 665h0M326.3 643.3h0M343.7 621.3h0M380.2 620.6h0M281.7 664.9h0M400.3 613.1h0M393 642.5h0M426.7 610.5h0M352.6 630.7h0M471.7 590.6h0M298.5 666.7h0M295.5 671h0M466.2 605.7h0M378.9 616.2h0M466.7 589.9h0M384.1 636.7h0M392.5 625.6h0M364.3 670h0M403 590h0M423.6 639.6h0M423.1 610.9h0M427.3 615.5h0M388.7 594.2h0M300.4 651.7h0M378.9 619.3h0M337.5 627.3h0M307.5 651.4h0M321.8 649h0M458.9 605.3h0M415.2 593.4h0M372.5 637.3h0M273.3 688.9h0M391.2 626.2h0M413.6 609.1h0M320.5 648.9h0M469 591h0M399 606.1h0M304.9 656.8h0M420.5 591.8h0M367.5 601.5h0M396.2 600.3h0M384.9 616.5h0M337.3 645.1h0M294.3 648.1h0M400.4 608.2h0M419 600.7h0M345 653.2h0M363.1 607h0M341.9 647.5h0M430.3 596.6h0M438.2 603.4h0M361.8 639.6h0M349.7 638.4h0M325.9 625h0M391 607.9h0M421.3 595.7h0M344 629.5h0M451.7 602.9h0M354.1 630.9h0M354.5 654.1h0M416.4 607.6h0M326.3 633.5h0M369.4 614.2h0M376.4 610.6h0M461 591h0M405.8 607.5h0M395 599.7h0M349.7 614.2h0M398.1 608.6h0M349.3 651.6h0M376.8 616.5h0M318.6 660h0M392.4 613h0M395.5 622.7h0M440.3 599.1h0M410 609.4h0M411.6 602h0M425 591.3h0M362.5 611.8h0M373.1 608.4h0M428.5 607.7h0M438.4 607.5h0M366.4 617.2h0M381.6 613.9h0M396.7 609.1h0M453.4 595h0M348.1 633.3h0M438.9 600.5h0M399.9 605.3h0M400.3 603.3h0M365.7 621.4h0M426 605.9h0M326.1 642.9h0M384.3 608.3h0M396.8 603h0M463 600.3h0M403.3 607.2h0M301 672.9h0M310.6 655.2h0M364.8 657.1h0M445.4 599.7h0M320.3 632.2h0M387.5 626.9h0M387.7 638h0M426.4 621.1h0M367.5 620.7h0M438.8 599.9h0M366.1 612.3h0M334.8 625.5h0M429.7 605.2h0M336.8 621.8h0M351.1 612.3h0M352.7 641.9h0M381.9 618.3h0M330.9 641.2h0M418.3 628.8h0M429.6 594h0M330.3 628.6h0M305.1 672.4h0M460.8 592.4h0M414.4 602.7h0M446 599.5h0M416.9 599.1h0M453.2 606.2h0M396.4 607.5h0M442.7 605.1h0M407.7 616.3h0M301.9 660.1h0M388.2 605.7h0M441.5 598.7h0M369.3 617.2h0M352.8 609.7h0M422.4 615.6h0M344.2 623.7h0M367.5 623.8h0M370 619.1h0M359.2 623.2h0M347.5 645.6h0M401.9 599.8h0M402.7 607.1h0M305.1 651.8h0M424.4 599.3h0M462.2 591.1h0M391.7 614h0M347.5 624.2h0M444.4 589h0M461.2 591.2h0M345.8 638.1h0M417.6 607.6h0M429.5 605.7h0M354.3 634.5h0M284.4 673.1h0M430.2 616.2h0M282.9 662.8h0M406.1 612.2h0M364.6 629.5h0M435 603.4h0M346.2 628.2h0M469.8 597h0M436.5 609.9h0M323.1 657.4h0M402.3 629.5h0M446.5 592.8h0M454.1 599.8h0M449.5 610.8h0M434 601.5h0M330.8 641h0M366.5 618.9h0M421.2 617.4h0M440.5 592h0M373.2 624.3h0M361.3 622.5h0M421.2 596.8h0M425.3 593.3h0M403.6 599.7h0M466.7 592.9h0M427.4 593.1h0M324.9 642.5h0M440.6 603.1h0M328 637.9h0M363.7 626h0M424.6 614.2h0M411.6 613.3h0M401.4 611.5h0M451.6 590.5h0M434.2 613.1h0M395.8 614.1h0M352.6 609.1h0M463.5 610.1h0M455.7 589.8h0M418.6 601.1h0M469.6 605.3h0M315.8 644.6h0M365.7 641.6h0M409.1 622.4h0M336.7 643.3h0M362.3 629.1h0M366.9 620.2h0M356.1 623.1h0M343.9 645.1h0M471 614.7h0M283.3 672.4h0M306.2 668.5h0M437.4 600.5h0M414.8 609.3h0M317.1 645.5h0M331.5 660.2h0M414.3 604.5h0M408.9 593.3h0M287.7 674.8h0M428.4 589.6h0M303.3 642.5h0M325.7 610.3h0M407.8 591.5h0M418.4 591h0M438.4 594h0M447.8 591.8h0M375.7 627.9h0M356.2 639.1h0M336.1 635.2h0M469.3 590.1h0M449.7 594.4h0M446.7 598.5h0M321 637.1h0M460.9 590.9h0M397 593.6h0M382 633.2h0M388.9 620.1h0M405.4 617.2h0M422.5 591.4h0M404.4 607.8h0M422.1 596.2h0M376.9 611.8h0M439.4 600.8h0M372 639.3h0M449.1 598.1h0M323.5 642.7h0M406.1 605.5h0M386.1 595.3h0M469.1 597.2h0M349.1 634.6h0M415.7 607.1h0M323.6 637.7h0M355.1 628h0M381.2 623.6h0M438.1 607.3h0M368.9 643h0M419.1 622h0M321 640.1h0M399.3 613.8h0M368.6 613.3h0M343.6 652.4h0M341.7 629h0M432.2 598.9h0M418 611.6h0M381.9 611.7h0M446.1 600.6h0M470.1 589h0M419.3 597.4h0M466.8 594.7h0M434.4 592.2h0M461.5 597.9h0M372.3 630.7h0M302.7 654h0M394 595.2h0M336 650.4h0M298.9 663.2h0M429.4 597.4h0M335.6 614.7h0M429.6 633.3h0M346.9 641.3h0M304 652.7h0M312.5 636.5h0M317.4 657.6h0M303.4 656.2h0M459.6 589.1h0M424.4 609.9h0M371.3 613.1h0M307 664.9h0M428.5 592h0M371.7 636.8h0M433.2 603.4h0M449.9 591.3h0M459.7 589.8h0M434.3 589.7h0M446.3 608.3h0M450.7 609.4h0M433.2 606.8h0M434.6 607.9h0M444.6 591.8h0M337.7 626.6h0M343.4 648.7h0M434.6 618.6h0M437.9 616.6h0M303.4 657.1h0M318.3 638.9h0M395.6 597.1h0M461.4 603.4h0M439.6 608.6h0M458.1 589.8h0M436.4 601.2h0M421.6 608.8h0M457.9 606.9h0M360.8 628.7h0M358.3 632.1h0M470 593.5h0M409.7 607.1h0M450.3 589.5h0M438.4 598h0M394.3 615.2h0M289.4 655.1h0M470 589.2h0M315.5 627.2h0M440.1 591.3h0M334.5 648.3h0M367.8 619.2h0M282.3 683.9h0M396.5 616.8h0M432.3 634h0M363.7 646.8h0M452 609.7h0M442.4 598.3h0M469.9 596.7h0M412.8 596.6h0M322.8 624.8h0M384.6 596.9h0M449.2 600.7h0M413.5 602h0M307 645.5h0M328.8 666.1h0M375.7 636.9h0M320.4 627.2h0M403.6 611.7h0M455.8 603.2h0M352.3 643.1h0M405.5 632.9h0M328.8 648.1h0M421.5 591.9h0M383.8 616.6h0M385.5 621.5h0M294.2 646.3h0M463.4 598.7h0M424.3 615.7h0M471.2 601.3h0M453.2 605.2h0M443.5 595.3h0M314.9 654.3h0M393.8 616h0M409.3 624.8h0M426.9 602h0M402 610h0M404.5 592.7h0M405.4 620.8h0M389.7 629h0M409.6 627.9h0M311.4 648.8h0M270.6 679.8h0M291.4 678.5h0M469.5 602.3h0M451.7 596.5h0M421.4 596.5h0M338.9 634.5h0M462.3 601.3h0M310.9 622.7h0M423.8 591.4h0M466.3 604.1h0M426.4 615.2h0M418 593h0M416.1 605.4h0M362.3 622.6h0M428.1 604.3h0M333.8 636.5h0M367.2 647.6h0M409.6 595.6h0M416.5 618.3h0M439.5 594.9h0M448.3 606.2h0M382.3 598.9h0M289 660.4h0M454.7 592.1h0M447.1 609.9h0M421.5 591.3h0M393.1 643.8h0M396.3 621h0M412.4 612.5h0M364.3 638.2h0M359.9 620.1h0M376.5 623.9h0M413.6 610.2h0M447.7 604.5h0M425.7 612.5h0M349.4 644h0M301 650.4h0M393.2 602.1h0M335.9 638.1h0M442.4 617.7h0M354.2 631.1h0M441.5 608.5h0M421.3 608.9h0M446.2 597.3h0M337.9 637.8h0M433.2 603.7h0M404.2 606.4h0M434.5 595.4h0M399.2 623.5h0M402 605h0M456.5 593.2h0M440.9 597.6h0M313.7 655.5h0M407.2 613.1h0M296.7 661.8h0M376.7 613.7h0M373.1 606.8h0M376.5 603.5h0M397.8 598.7h0M444.8 608.7h0M469.2 595.3h0M404.9 607.4h0M454.6 605.9h0M392 598.7h0M414.5 592.7h0M400.8 603.2h0M309.5 651.6h0M362.2 644.6h0M423.8 599.4h0M453.4 597.8h0M334.7 629h0M439.4 612.8h0M429.2 602.3h0M293.3 668.5h0M418.9 593.3h0M415.5 608.4h0M449.9 593h0M339.9 661.2h0M387.2 593.9h0M332.6 640.3h0M379.9 615.9h0M419.4 594.2h0M388.5 626.5h0M432.2 589.1h0M325.7 641.3h0M364 630.2h0M360.4 622.6h0M451.2 593.9h0M425.1 631.6h0M332.3 682h0M363.6 627.8h0M440.4 605.3h0M390 631.7h0M335.1 653.7h0M381.1 616.7h0M438.2 598.7h0M398.8 618.1h0M329.6 626.7h0M419.1 603.3h0M462.2 601.2h0M460.2 594.7h0M397.6 608.6h0M469 596.1h0M373 637.4h0M374.5 619.4h0M454.9 604.5h0M424.2 600.9h0M383.8 653.3h0M447.7 597.6h0M404.5 621.3h0M315.5 645.9h0M422 601.2h0M388.4 600.6h0M344.6 610.3h0M465.1 591.6h0M348.2 618h0M348.8 639.1h0M434.8 599.3h0M464.1 600.4h0M436.6 590.2h0M396.4 616.4h0M360.6 610.2h0M394.6 593.4h0M443.8 594.4h0M326 639h0M361.8 647.4h0M369 619.1h0M418.7 592.7h0M392.6 639.2h0M414 599.6h0M273.8 687.5h0M280 702.8h0M351.3 638.9h0M335.7 631.6h0M315.3 646.9h0M358.7 621.4h0M298.3 658.8h0M450.7 590.2h0M414.4 607.9h0M313.6 627.7h0M376.3 628.6h0M424 593.9h0M275.1 683.6h0M339.9 641.9h0M352.2 637.2h0M319.1 660.4h0M402.1 619.4h0M382.7 623.4h0M412.3 615.6h0M436.2 596.1h0M338.2 658.8h0M414.8 598.7h0M398.8 629.1h0M360.5 613.1h0M330.6 646.5h0M400.8 630.7h0M456.8 594.7h0M428.2 598.1h0M435.5 605.7h0M371 641.7h0M327.7 648.9h0M353.9 619.2h0M391.5 620.4h0M372.8 643.6h0M378.2 626.1h0M346.4 665.7h0M318.6 658.9h0M406 618.7h0M464.8 604.4h0M435.9 597.3h0M303.4 656.4h0M328 650.8h0M470.3 602.3h0M444.4 600.8h0M412.4 619.9h0M372.4 632.8h0M448 599.9h0M460.4 594.3h0M449.3 615.9h0M339.1 658.9h0M396.5 605.6h0M424.9 598.2h0M448.8 595.3h0M398.3 615.2h0M428.7 629.4h0M425.8 604.4h0M369.7 607h0M372.1 631.3h0M329.2 636.5h0M348.5 617.9h0M416 594.4h0M313.4 647.2h0M375.8 622.6h0M451 606.1h0M420.7 609.5h0M381.2 610.6h0M384.3 593.8h0M410 601.2h0M419.4 615.4h0M341.7 648.8h0M317.4 662.7h0M471.3 594.8h0M402.6 614.4h0M424.6 599h0M380.3 631.7h0M398.7 609.9h0M363.7 639.6h0M466.5 605.7h0M391.9 606.6h0M362 629.4h0M378.6 637.3h0M451.9 612.8h0M390.5 616.8h0M359.1 635.3h0M434.3 595.2h0M315.7 657.8h0M344.5 628.2h0M468.1 595.3h0M443.7 600.2h0M380.8 592h0M446.4 612.6h0M419.3 612.4h0M434.3 600.5h0M451.9 599.2h0M428 594.1h0M365.2 619.8h0M365.4 642.8h0M353.3 624.7h0M408.5 615.2h0M407 612.8h0M391.4 624.4h0M416.8 596.3h0M426.7 592.5h0M324.3 640.2h0M395.3 626.3h0M448.4 603.8h0M410.1 620h0M359 625.9h0M331.9 623.9h0M301.7 651.6h0M381.6 625.7h0M461 596.3h0M427 615.6h0M452 597.9h0M366.6 616.9h0M413.4 609.7h0M364.5 621.8h0M306.2 657.6h0M379.7 619.7h0M458.8 597.1h0M326.5 651h0M440.7 604h0M403.7 624.2h0M338 629.5h0M310.9 664.3h0M325.7 654.8h0M331.2 625.8h0M418.9 611.5h0M452.4 605.3h0M405.9 617.1h0M299.2 651.2h0M377.5 622h0M409.4 612.3h0M392.9 616.2h0M407.5 614.6h0M405.6 631h0M341.6 639.7h0M384.5 612.2h0M362.8 619.4h0M421 608.8h0M317.7 658h0M428.3 604.8h0M361 592.7h0M413.4 607.2h0M323.1 648.4h0M383.3 607.9h0M431.5 601.7h0M470.5 591.5h0M346.2 598.3h0M411.2 598.4h0M378.4 619.5h0M452.1 606.3h0M368.6 631.8h0M466.6 609.3h0M338.3 634h0M306.4 647.1h0M457.6 610.9h0M353.7 638.4h0M340.1 657.5h0M442.4 598h0M369.3 625.8h0M397.1 600.2h0M438.1 614.1h0M433.8 591.3h0M340.1 623.5h0M334.3 626.2h0M431.8 601.9h0M378.2 625.8h0M407 615h0M414 607.7h0M396.2 614.2h0M445.8 611.1h0M357 618.7h0M331.7 645h0M292.4 682.1h0M427.6 605.1h0M399 616.7h0M388.9 621.6h0M429.3 596.1h0M332.5 673.5h0M391.6 630h0M440.5 596.9h0M367.9 633.3h0M387.3 595.6h0M404.8 600.6h0M440 593h0M412.3 626.8h0M336 620.8h0M372.6 616.8h0M308.5 668.6h0M409.6 607.6h0M369.5 631.2h0M442.7 600.8h0M334.2 629.1h0M444.3 617.3h0M350.8 619.2h0M290.5 679.7h0M382.3 618.9h0M397.6 590.5h0M427 608.4h0M341.9 647.3h0M333.4 613.5h0M422 618.1h0M433.3 613.4h0M284.2 687.3h0M468.6 598.8h0M302.6 645.6h0M342.3 631.4h0M359.2 624.1h0M344.6 628.2h0M362.4 614h0M398.6 604.5h0M403 611.2h0M420.8 619.4h0M460.7 602.3h0M388.2 600.8h0M405.7 621.2h0M369.8 608.7h0M388.7 625.1h0M375.4 616.4h0M316.4 661.2h0M364.7 637.3h0M411.3 613.5h0M412.2 620.1h0M363.8 637.9h0M320.8 631.9h0M344.4 625.3h0M333.7 640.4h0M383.5 610.4h0M324.8 616h0M368.1 631.5h0M360.8 633.4h0M399.2 609h0M288 672.7h0M416.8 604.1h0M435.5 605.9h0M357.4 631.4h0M437.5 600h0M432 599.7h0M297.2 651.6h0M407.2 620.5h0M401.5 609.7h0M358.6 622.5h0M352.6 640.9h0M389.6 613.8h0M374.9 611h0M412.6 592h0M321.9 653.6h0M275 673.1h0M380.5 609.8h0M454.9 600.3h0M431.5 605.5h0M403.3 621.5h0M309.2 653.5h0M396.1 611.8h0M368.8 628.3h0M356.8 642h0M404 613.1h0M429.4 594.4h0M463.2 599.4h0M368.2 619.4h0M304.8 643.5h0M441.2 603.7h0M449.6 598.9h0M426.9 608.5h0M403.5 600.7h0M418 623h0M338.4 642.9h0M405.1 638.5h0M442.1 601h0M310.1 673.2h0M281.2 701.6h0M450 599.9h0M436 602.6h0M291.3 683.4h0M356.8 640.3h0M453.8 590.7h0M421.6 605.5h0M347.1 629.1h0M305.9 672.2h0M428.1 591.4h0M336 652.1h0M380.7 631h0M399.5 609.1h0M396.3 608.2h0M372.8 608.8h0M395.8 612h0M454.4 593.4h0M415.8 599.2h0M332.5 634.2h0M339.1 626.1h0M396.2 619.2h0M337.7 634.1h0M447.2 608.4h0M392 618.1h0M436.2 610.6h0M447.1 591.3h0M375.5 642.1h0M458.8 601h0M432.2 619.5h0M463.4 604.9h0M309.2 657.8h0M345.3 638.1h0M407.5 590.4h0M451.4 602.4h0M460.7 614.6h0M469.6 590.1h0M308.3 650.7h0M303.3 665.7h0M415.4 593.6h0M433.4 600.8h0M392.6 600.6h0M361 616.5h0M404.1 604.5h0M401.6 606.9h0M437.2 627.7h0M368.4 643.2h0M417.4 601h0M415.2 616.7h0M427.9 598.2h0M456.3 594.6h0M387.1 632.3h0M384.5 605.4h0M420.8 605.9h0M343.5 621h0M376.8 617.4h0M345.9 628.6h0M315 643.3h0M451.8 600.9h0M437.6 612.8h0M429 606.5h0M404.6 599.9h0M459.5 608.3h0M405.5 590.9h0M315.3 666.6h0M333.2 650h0M455.1 592.7h0M450.2 594.9h0M367.8 631.3h0M422.9 614.3h0M411.5 608.1h0M445.6 614.6h0M379.2 634.2h0M372.6 620.1h0M303.8 642.2h0M438.8 594.9h0M398.7 613.4h0M438.5 590.1h0M321.6 627.8h0M393.7 610.3h0M465 591.8h0M370.4 645.2h0M410 613h0M459.7 591.5h0M388.2 624.3h0M420.5 631.2h0M298.3 646.9h0M438.3 611.2h0M334.1 627.4h0M376.4 620h0M351.2 632.9h0M444.8 591.1h0M470.7 593h0M363.2 655.9h0M366.9 630h0M428 608.7h0M405.6 611.8h0M426.5 603.4h0M325.4 637.5h0M413.3 588.7h0M375.9 619.5h0M423.2 600.8h0M449.3 592.6h0M356.6 624.6h0M356.5 631.3h0M464.4 597h0M423.8 599.9h0M443.3 599.2h0M450.1 597.2h0M367 596.7h0M419.7 595.1h0M452.8 600.4h0M469.6 597.5h0M401 646.9h0M411.3 631.4h0M467.6 622.2h0M464.7 599.6h0M298.3 667.8h0M286.8 669h0M388.3 600.5h0M446.8 592.3h0M397.7 636.4h0M469.9 605.1h0M453.1 602.5h0M466.5 601.1h0M405.6 612.6h0M436.6 622.2h0M456 611.5h0M368.3 633.4h0M389.2 625.2h0M346.9 641.1h0M406 622.4h0M415.5 624h0M432.5 614.5h0M425.8 599.7h0M456.1 589h0M350.5 637.8h0M432.7 591.1h0M461.4 594.2h0M386.9 603h0M327.3 649h0M348.5 635.5h0M383.7 616.1h0M379.6 611.9h0M390.6 610.1h0M452.9 611h0M417.5 605.2h0M457.5 590.7h0M463.7 599.6h0M359.4 645.5h0M447.8 599.1h0M392.9 596.9h0M369.9 625.3h0M332.2 635.2h0M466.4 599.9h0M459.7 595.3h0M300.6 658.2h0M333.3 648.4h0M446.3 604.4h0M323.4 625.3h0M427.3 614.8h0M327.6 654.5h0M287.8 680h0M424.4 614.4h0M464.9 592.9h0M438.1 602.7h0M467 615.4h0M442.3 593h0M436.1 609.6h0M396.2 616.3h0M297.6 657.4h0M446 597.5h0M381.3 628.5h0M442.6 596.8h0M312.9 662.6h0M329.5 643.2h0M303.3 663.3h0M452 597.9h0M452.5 596.2h0M323.7 665.2h0M396.5 617.5h0M386.6 640h0M399.7 605.8h0M399.2 593.6h0M428.9 608.3h0M467.6 602.6h0M434.3 593.3h0M360.2 609.2h0M331.2 650.4h0M327.6 616.8h0M432.1 626.6h0M319.7 642.2h0M348.5 641.5h0M310.1 688.9h0M300.5 674h0M436.5 620h0M459.8 592.4h0M301.6 647.7h0M373.1 606.5h0M407.2 618.1h0M413.4 594.9h0M437.2 620.2h0M469.1 603.7h0M388.7 609.8h0M427.4 600.9h0M339.6 659.7h0M396.1 594.9h0M317.2 650.1h0M331.5 650.9h0M370.9 616.2h0M425.2 610.4h0M310.3 651.8h0M427 592.8h0M369.8 619.9h0M394.4 604.4h0M324.4 636.3h0M459.4 591.1h0M355.4 641.6h0M467.3 591.9h0M369 638.9h0M439.1 590.5h0M427.7 593.5h0M443.7 607.6h0M465 589.6h0M469.7 591.4h0M325.3 656.1h0M349.6 624.4h0M402.6 629.9h0M333.3 633.3h0M449.5 589.2h0M398.1 609.7h0M455.4 610.1h0M391.3 614.7h0M369.4 616.4h0M348.9 616.5h0M398.9 625.4h0M446.8 588.7h0M347.3 589.1h0M398.8 620.8h0M375.7 623.2h0M419.3 612.1h0M448.3 602.7h0M394.6 623.1h0M469.1 597.2h0M394.3 631.8h0M467.8 607.2h0M457.7 590.1h0M405.1 597.5h0M365.6 639.6h0M272.5 673.6h0M367 638.4h0M410.1 614.8h0M376.7 608h0M422.1 606.7h0M418.7 600.4h0M317 632.9h0M403.2 638.2h0M463.1 601.9h0M316.3 643.2h0M370.7 597.3h0M449.8 591.3h0M339.5 634.8h0M364.4 621.3h0M447.3 597.8h0M460.2 599h0M439.5 602.1h0M430.2 597.5h0M420.5 599.6h0M416.2 609.9h0M309.1 655.7h0M357.9 628.8h0M409.2 599.3h0M429.7 605.9h0M420 601.7h0M450.8 616.5h0M440.1 606.4h0M447.7 597.6h0M404.9 611h0M367.3 620.3h0M396.7 608.6h0M287.3 679.1h0M359.7 621.2h0M358.3 631.6h0M438.2 595.9h0M353.4 634h0M392.7 629.1h0M374.4 636h0M440.4 591.1h0M409.6 618h0M421.3 590.3h0M459 591h0M400.7 603.4h0M390.8 614.9h0M402.4 604.7h0M428 603.8h0M463.2 613.7h0M388.5 604.7h0M313.6 629.8h0M428 604.5h0M430.3 600.7h0M424.3 604.4h0M440 594.2h0M351 627.5h0M386.4 598.1h0M399.9 617.1h0M282.7 694h0M414.9 599.2h0M347.8 644h0M376.7 634.1h0M327.9 633.6h0M406.5 616.5h0M429.1 597.7h0M421.8 611.5h0M452.6 591.5h0M305.8 629.8h0M433.7 624.5h0M413 625.9h0M424.3 595.1h0M425.8 607.6h0M450.4 597.8h0M358.4 635.6h0M436.7 589.6h0M328.4 647.4h0M375.2 633.1h0M345.7 621.1h0M395.8 604.3h0M370.4 635.2h0M352.4 623.7h0M349.3 625.2h0M339.4 641.2h0M381 619.7h0M375 619.8h0M354 638.9h0M377.3 601.6h0M375 610.1h0M398.7 607.3h0M287.2 662.8h0M422.9 613h0M463.2 590.8h0M377.1 639.3h0M415.9 608.6h0M445.8 593.2h0M374.9 640.4h0M405.6 610.3h0M401.9 617h0M457.4 603.5h0M345.6 633.7h0M302.1 667.5h0M423.1 620.6h0M432.8 605.4h0M400.6 633.4h0M457.2 595.8h0M319.1 649.9h0M428.6 595.7h0M415.9 590.2h0M411.5 604.9h0M431.1 604.5h0M345.7 638.1h0M413.3 624.9h0M460.2 594h0M315.3 663.3h0M431.9 598.9h0M403 613.7h0M442.8 591.4h0M290.4 647.2h0M335.6 630.5h0M416.2 603.7h0M421.8 618.6h0M371.2 623.6h0M451.3 594.9h0M406.2 610.4h0M299.5 655.3h0M316.4 661.5h0M334.1 618.2h0M355.1 636.4h0M381.9 619.6h0M446.2 596.6h0M444 626.3h0M445.6 597.3h0M431.4 591.4h0M346.5 625.8h0M440.4 604h0M426.1 600.6h0M460.3 602.2h0M329.8 648.9h0M432.9 602.3h0M343.6 614.8h0M461.9 599.1h0M426.4 597.9h0M423.4 620h0M320.4 645.9h0M459.7 598.7h0M443.6 595.2h0M398.1 611.5h0M452 595.1h0M402.7 609.3h0M396.3 636.6h0M366.8 630.9h0M396.8 624.4h0M299.1 650.2h0M399.8 631.9h0M317.4 655.2h0M460.4 591.3h0M388.6 605.6h0M302.6 659.9h0M289.3 659.7h0M402.8 594.4h0M322.8 668.8h0M293.7 670.1h0M369.5 631.4h0M436 593.8h0M306.7 666h0M454 604.7h0M422.8 601.1h0M371.5 614.1h0M427.9 595.4h0M326.3 635.2h0M431.9 615.4h0M422 617.3h0M407.6 598.2h0M301 671h0M450.1 596.8h0M305.5 657.8h0M406.7 618.7h0M439.4 606.8h0M367.9 630.5h0M377.8 608.4h0M393.2 614h0M399.6 602.2h0M416.9 592h0M445.7 605.2h0M469.1 591.4h0M462.6 609.8h0M333.8 655.3h0M422 599.5h0M463.8 591h0M429.8 608.6h0M388.6 615.9h0M391.3 603.7h0M325.8 658.3h0M383.7 628.3h0M428 602.4h0M292.2 671.3h0M298.5 680.7h0M327 627.9h0M348 630.5h0M346.7 651.7h0M338.8 647.5h0M420 599.2h0M406.5 612.2h0M463.5 603.2h0M447.2 590.5h0M413.3 596.6h0M403.9 609.2h0M343.3 615.7h0M457.6 614h0M413 602.4h0M389 623.4h0M467.4 589h0M379.5 644.3h0M376.6 630.5h0M382.4 592.9h0M416.3 610.4h0M454.2 595h0M399.3 614.1h0M411.4 619.5h0M407.6 630.6h0M396.3 594.6h0M370.2 620.6h0M318.1 623h0M324.4 628h0M369.2 626.8h0M352.6 621.5h0M398.2 603.5h0M367.3 614.3h0M442.3 610.3h0M409.7 622.5h0M454.6 596.9h0M420.2 593h0M418.4 617.3h0M325.1 629.4h0M309 671.6h0M372.6 597.4h0M440.9 592.7h0M420.3 609.3h0M416.7 608h0M399.2 617.3h0M416.3 614.1h0M422.4 619.6h0M325.3 627.8h0M351.3 619.8h0M360.3 625.9h0M368.2 629h0M415.3 596.6h0M273.7 679.5h0M414.7 614h0M387.9 637.2h0M445.3 605.1h0M327.4 662h0M405.7 606.5h0M294.1 651.2h0M440.7 622.7h0M460.9 589.2h0M310.9 661.4h0M320.3 640.6h0M364.3 641h0M284.9 680.1h0M444.9 597h0M449.1 605.1h0M445.7 596.5h0M407.6 612.4h0M411.2 613.4h0M341.9 645.3h0M389.2 624.5h0M272.8 673h0M372.8 602.7h0M428.2 601.3h0M428 596.9h0M367.9 628.3h0M437.6 606.4h0M417.7 589.6h0M352.3 637.1h0M328.6 651.1h0M407.2 615.2h0M439.1 602.1h0M377.6 600.4h0M389.6 619.3h0M330.3 635h0M341.5 660.6h0M452 607.4h0M331.4 630.7h0M444.3 593.3h0M342.7 646.7h0M351.5 640.4h0M388.8 596.1h0M379.1 624h0M329.4 628.7h0M302.1 653.1h0M353.3 622.1h0M413.1 619.7h0M421.9 600.2h0M444.3 598.8h0M464.2 606.4h0M441.1 588.9h0M463 593.7h0M349.5 601.2h0M345.6 637.1h0M420.8 616.3h0M457.8 596.3h0M397.5 615.4h0M409.1 626.5h0M408.5 595.4h0M349.8 642.1h0M432.3 606.8h0M401.3 619.6h0M296.7 679.7h0M456.6 618.5h0M457.5 591.9h0M347.9 645.5h0M452.8 604.4h0M464.2 604.8h0M283.2 674.9h0M397.9 596.2h0M347.6 618h0M439.7 608.1h0M405.5 608.7h0M300.1 669h0M383.1 610.1h0M271.6 680.4h0M298.9 641.4h0M394 617.1h0M348.2 633.8h0M309.6 650.3h0M445.6 593.4h0M403.1 619.4h0M321.8 649.2h0M320.6 655.7h0M416.9 598.3h0M461.2 603.7h0M409.7 604.4h0M407.9 590.5h0M347.4 629.3h0M447.5 605.2h0M459.5 611.1h0M374.4 647.3h0M449.7 615.7h0M444 594.4h0M382.5 620.2h0M396.1 616.4h0M465.1 597.9h0M294.9 669.2h0M412.5 590.2h0M431 621.8h0M465.3 606h0M390.4 611.7h0M324.8 639.2h0M333.9 648.1h0M375 615h0M438 593.3h0M381.8 625.3h0M426.3 595.9h0M392 617.9h0M375.9 642.1h0M467.6 597.7h0M351.1 633.4h0M343.1 640.1h0M428.6 601.4h0M341.9 642.8h0M380.8 625.1h0M451.1 603h0M361.1 627.3h0M355.3 612.8h0M344.1 625.3h0M409.6 622h0M407.4 621.4h0M377.5 616.6h0M354.5 610h0M393.1 607.1h0M402.4 609h0M325.5 641.2h0M463.1 608.2h0M425.3 604.8h0M289.9 666.9h0M400.3 634.4h0M442.2 596.4h0M388 636.5h0M442.8 603h0M441.4 604.7h0M401.8 593.7h0M348.6 629.3h0M278.3 641h0M412.7 608.7h0M432.2 610.4h0M428.2 606.4h0M407.5 628.2h0M435.6 597.8h0M446 593.8h0M347.3 622.5h0M460 591.8h0M450 597.9h0M461.2 615.6h0M443.6 591.3h0M350.5 648.5h0M394.5 629.3h0M331.2 644.5h0M404.7 614.1h0M469 598.2h0M465 589.4h0M332 667.4h0M454.3 589.2h0M387 598.6h0M438.9 602.3h0M335.2 653.2h0M321.9 654.2h0M389.3 630.7h0M314.2 655.4h0M344.1 644.6h0M448 603.2h0M452.4 601h0M334.8 656h0M420.1 620.7h0M381.8 625.9h0M369.7 634.8h0M416.8 591.5h0M417.2 615.2h0M362.6 654.2h0M419.4 623.9h0M391.4 599.2h0M347.9 644h0M396.4 617.3h0M374 620.5h0M305.7 654.3h0M336.9 649.2h0M389.6 628.4h0M427.9 597.8h0M436.3 596.9h0M278.2 675.2h0M435.9 611h0M453.3 594.2h0M439 594.8h0M436 598.6h0M432.3 603.9h0M413.2 597.8h0M444.1 589.4h0M403.4 610.6h0M335.1 648.7h0M412.8 617.2h0M359.5 648.7h0M442.1 596.2h0M445.4 606.4h0M374.8 624.9h0M463.3 598.6h0M461 598.5h0M297.8 683.4h0M447.5 592.2h0M308.5 652.7h0M350.8 644.1h0M450 601.4h0M398.9 603.6h0M389.6 613.1h0M352.8 648.6h0M391.1 597.3h0M395.9 604.9h0M329.8 648h0M424.5 597.4h0M382 606.6h0M450 602.9h0M307.1 642.7h0M331.2 628.7h0M388.2 614.6h0M394.5 631.6h0M351.2 645.9h0M360 642.7h0M380.7 615.3h0M454.1 590h0M353.1 623.8h0M349.8 626.2h0M377.2 618h0M466 604.1h0M441.5 594.1h0M441.5 620.2h0M468.8 591h0M384.9 607.5h0M393.6 598.5h0M341.4 640.8h0M423.5 590.9h0M304.8 654h0M377 619.9h0M375.3 611.7h0M407.5 598.9h0M297.7 659.6h0M316.3 646.1h0M375.7 617.2h0M411.8 609.8h0M338 636.9h0M454.5 603.7h0M426.5 592.9h0M421.6 611.5h0M380.2 642h0M374.9 608.9h0M366.1 610.8h0M412.7 601.2h0M357.9 616.6h0M415.8 612.7h0M458.1 598.2h0M372.9 633.5h0M370.7 666.9h0M363 633.5h0M372.8 631.2h0M320.7 659.7h0M414 626.6h0M399.6 595.4h0M386.5 626.8h0M321.1 642.2h0M409.1 593h0M308.4 634.4h0M456.9 597.3h0M392.5 621.5h0M341.3 639.8h0M328.1 640.2h0M414.2 607.8h0M432.2 593.9h0M416.9 592.5h0M361.7 626.2h0M345.4 634.7h0M380.4 614.6h0M412.1 610.3h0M299.9 658.7h0M359.5 636.5h0M332.1 644.8h0M401.4 620.3h0M442.2 603.6h0M377.9 631.7h0M369.7 626.3h0M364.8 613.9h0M463.5 593.9h0M379.8 629.7h0M416.3 612.3h0M290.4 652.1h0M341 629.5h0M398.7 622h0M441.4 594.9h0M398.2 615.9h0M466.4 604.3h0M422.9 605.2h0M306.5 656.2h0M470.3 606.7h0M418.9 589.9h0M452.7 600.9h0M330.4 626.1h0M436.8 600.8h0M371.4 616.1h0M448.6 605h0M430.3 589.4h0M320.2 653.7h0M307.8 668h0M415.8 632h0M423.3 595.1h0M289 632.1h0M412 593.6h0M427.7 596.9h0M351.4 626.8h0M304.1 646.3h0M393.3 629.3h0M315.8 647.8h0M370.9 625.4h0M450.1 597.1h0M388.8 610.7h0M333.6 641.9h0M421.4 602.7h0M420.7 597.8h0M320 657.8h0M402.3 617.7h0M471.4 591.2h0M348.1 649.2h0M426.1 607.8h0M439.2 594.9h0M447.4 605.1h0M410 601.5h0M433.6 591.4h0M377.3 626.5h0M430.6 591.6h0M341.3 638.7h0M368.2 601.2h0M373.5 610.4h0M340.3 653.4h0M358.6 622.5h0M399.6 601.1h0M443.9 609.7h0M279.2 695.5h0M332.4 654.9h0M426.8 606.4h0M449.4 603.3h0M399.5 608.3h0M396.5 605.5h0M428 609.3h0M415.2 625h0M384.1 623.3h0M434.5 606.1h0M277.2 694.6h0M356.6 620.7h0M436.7 611.7h0M327.4 644.6h0M377.6 612.1h0M352.5 640.8h0M397.8 600.3h0M371.7 636.1h0M393 605.1h0M363.3 648.5h0M409.6 599.8h0M469.4 605.7h0M435.6 610.4h0M385.7 626.5h0M416.2 631h0M306.1 636.9h0M288.9 656.7h0M375.4 619.6h0M400.9 606.7h0M451.1 619.2h0M471.2 594.8h0M399.7 621.8h0M323.7 646.9h0M358.8 613.9h0M300.4 656.3h0M400.6 597.5h0M452 596.6h0M307.4 650.8h0M380.8 610.3h0M371.6 616.6h0M295.3 667.8h0M413.7 624h0M383.5 597.6h0M322.8 642.7h0M421.6 592h0M395.3 600.8h0M456.9 614.7h0M416.6 621.5h0M427.9 626.3h0M442.2 589.4h0M348 628.3h0M354.4 617.7h0M453 604h0M350 651.2h0M394.8 601.9h0M429.7 606.5h0M463.6 611.6h0M440.5 608.4h0M356.3 632.3h0M408.5 611h0M356.3 613.9h0M397.6 605.9h0M437.5 600.3h0M453.8 607.4h0M351.7 628.6h0M395.9 625.7h0M399.3 622.6h0M349.4 620.7h0M460.4 590.7h0M400.7 613.7h0M433.3 613.6h0M404.7 611h0M353.9 620.7h0M369.9 623.7h0M399.7 612.8h0M443.8 621.5h0M334.4 648.8h0M383.4 618.7h0M453.4 614.6h0M405.1 609.8h0M418.8 608h0M368.9 613h0M405 644.6h0M407.7 590.5h0M377.4 608.5h0M341.9 626.3h0M466.4 591.1h0M457.4 611.5h0M381.5 608.6h0M351.9 644.9h0M336.9 624.3h0M383.4 625.9h0M431.1 613.2h0M458 606.1h0M417.6 611.8h0M392.8 617.7h0M360 634.7h0M389.4 637.8h0M388.1 614.3h0M393.6 604h0M453.8 597.7h0M381.9 603.9h0M447.6 600.8h0M469.4 607.5h0M462.5 590h0M399.2 607.5h0M423.7 595.9h0M363.6 623.5h0M425.6 617.9h0M336.3 620.1h0M416.6 615.6h0M331.3 652.8h0M397.1 634.1h0M369 607.6h0M453.3 610.9h0M432.9 598.6h0M425.7 605.6h0M411.3 592.2h0M463 613.3h0M412.3 604.9h0M448.8 593.2h0M423 600.5h0M414.6 607.3h0M382.1 625.3h0M444.5 608.5h0M382 634.6h0M368.4 632.1h0M365.8 638.7h0M347.5 662h0M387 633.3h0M359.3 634.1h0M372.5 629.4h0M406.2 623h0M401.8 613.7h0M355.2 602.7h0M273.7 676.7h0M299.7 674.9h0M350.7 659.5h0M416.7 607.2h0M395.4 612.7h0M374.5 593.6h0M383.3 622.4h0M383.9 640.6h0M359 615.4h0M403.3 607.7h0M372.2 614.2h0M444 605.5h0M465.6 593h0M356 621.8h0M365.9 624.1h0M468.7 615.8h0M406.5 604.8h0M360.5 625.5h0M276.4 675h0M414.8 617.9h0M303.4 653.7h0M331 635h0M424.8 598.7h0M441.9 607.6h0M367.3 614.6h0M376.7 620.9h0M398.4 614.6h0M420.6 618.4h0M408.6 598.3h0M471.7 595h0M359.7 596.8h0M348.6 653.1h0M404.7 598.3h0M326.1 636h0M401.9 599.2h0M408.8 604.5h0M367.1 642.9h0M323.7 672.2h0M392.3 604.8h0M399.5 607.7h0M423.9 595.2h0M460 609.6h0M286.7 673.8h0M418.8 605.6h0M467.4 589.8h0M431.8 592.5h0M470.2 604.2h0M449.8 588.9h0M377.7 615.9h0M462.1 594.3h0M470.6 592h0M450.6 619.2h0M337.8 633.9h0M399.8 613.6h0M399.5 602.4h0M449 595.5h0M290.4 655.7h0M380.2 623h0M368 623.3h0M386.5 609.9h0M457.5 612.6h0M346.9 627.1h0M461.7 593.8h0M405.1 604.3h0M432.6 601.6h0M401.6 613.1h0M438.9 607.1h0M325.1 659.7h0M420.1 621.6h0M451.7 595.5h0M377.5 613.8h0M469 605.1h0M436 595.4h0M395.6 631.2h0M317.4 640h0M441.8 608.1h0M411.1 599.6h0M286 680.6h0M453.3 598.3h0M308.3 647.1h0M401.4 590.1h0M413.9 615.9h0M319.5 635.5h0M414.5 608.2h0M413.1 602.5h0M418.2 612.7h0M452 594.1h0M343.8 655.1h0M421.5 602.4h0M389.5 593.5h0M445.6 596.1h0M373.6 609.1h0M458.8 594.7h0M404.6 613.5h0M451.2 628.8h0M436.7 604.9h0M387.8 599.9h0M334.7 649.3h0M462.2 600h0M432.6 617.7h0M416.7 606.5h0M364.3 621.8h0M461.9 594.7h0M447.5 596.4h0M374.5 615.1h0M444.8 599.7h0M368.9 634.6h0M449.7 591.3h0M295.3 678.1h0M444.5 611.9h0M469.7 590.3h0M352.9 626h0M430.3 603h0M370.2 620.5h0M438.5 599.4h0M429.2 609.5h0M282.4 648h0M344.3 635.9h0M386.1 605.5h0M418.2 604.6h0M350.1 650.8h0M455.8 601.2h0M410.2 598h0M427.9 600.5h0M445.8 591.8h0M319.9 663.6h0M382.7 607.7h0M412.2 608h0M368.8 600.7h0M448.7 596.3h0M357.1 632.4h0M360.8 621.6h0M382.8 615h0M449.7 651.1h0M361.1 626.5h0M437.8 611.5h0M407.6 630.9h0M340.1 640.4h0M397.5 604.8h0M435.8 591.1h0M336.1 638.9h0M380 623.1h0M374.4 609.8h0M398.2 602.7h0M418.7 594.3h0M449.3 601.5h0M364.8 637.3h0M331 648.6h0M452.2 601.6h0M373.4 621h0M442.8 605.2h0M400.4 597h0M344.1 627.8h0M445 590.3h0M427.4 612.1h0M347 634.2h0M376.1 595.1h0M408.3 598.2h0M424.9 599.2h0M424.5 590h0M467.8 602.3h0M360 620.7h0M364.1 629.1h0M369.2 619.3h0M332.6 658.2h0M382.5 623.5h0M420.3 615.8h0M447.7 607.6h0M405.2 606.2h0M375.6 632.6h0M418.5 595.5h0M375.5 608.2h0M468.1 598.5h0M457.1 594.6h0M444.5 591.4h0M390.3 614.5h0M460.5 601.1h0M392.9 600.2h0M289.2 687.1h0M351.1 623.9h0M394.7 636.5h0M396.8 591.6h0M423.6 592.1h0M443.9 597.7h0M407 596.3h0M464.1 603.8h0M438.2 588.8h0M326.2 634.4h0M436.5 600.8h0M415.3 621.7h0M404 604.3h0M340.1 624.8h0M383.8 612.5h0M424.8 602.1h0M428.2 610.2h0M397.6 605.4h0M447.1 598.7h0M440.9 606h0M410.8 614.2h0M311.6 650.2h0M382.2 617.1h0M415.5 617.1h0M381.2 606.5h0M326.3 644h0M398.7 607.5h0M443.3 592.4h0M308.9 678.6h0M290.3 680.5h0M392.1 632.8h0M339.1 641.2h0M424.7 610.5h0M461.4 607.6h0M276.5 661.9h0M419 611.1h0M441.1 605.5h0M401.9 617.5h0M370.8 611h0M365.4 633h0M469.8 620.4h0M416 594.2h0M400.8 612h0M298.3 656.8h0M331.9 624.7h0M408.1 603.5h0M423.5 612.7h0M303.1 659.6h0M400.7 590.8h0M282.4 665.1h0M369.3 608.8h0M377.6 626.8h0M420.4 621.5h0M340 628.8h0M295.6 666.3h0M366.4 607.8h0M407.7 622.1h0M318.7 660.5h0M460.9 598.6h0M471.2 596.4h0M426.7 605.2h0M447.1 600.3h0M459.1 602.5h0M385.8 610h0M398.2 617.4h0M387.9 610.3h0M334.9 646h0M374.1 610.9h0M390.7 625.2h0M450 591.7h0M398.7 635.7h0M366 630.6h0M391.2 611.4h0M461.2 593h0M471.5 602.4h0M379.9 630.9h0M376.8 624.7h0M358.4 602.8h0M365 630.2h0M360.4 618.1h0M346.6 650.7h0M380.4 629.2h0M371.6 618.1h0M399.5 612.2h0M447.4 599.6h0M416.4 590.7h0M441.4 591.5h0M370.9 631h0M423.1 631.2h0M385.5 630.6h0M432.4 615.6h0M395.1 625.7h0M349.5 643.5h0M405.5 589.5h0M390.8 625.5h0M449 602h0M464 589.6h0M455.2 596h0M357.1 648h0M363.1 633.3h0M280.9 674h0M276.3 666.9h0M379.1 614.2h0M413.6 589h0M380.6 638.4h0M441.3 598.4h0M427.7 605.8h0M400.1 628.8h0M432.7 621.1h0M401.1 613.5h0M387.5 604.1h0M417.7 620.6h0M345.5 630.8h0M447.3 592.5h0M412.1 610.9h0M312 649.3h0M465.7 589.2h0M441.5 605.5h0M342.3 660.3h0M417.3 598.6h0M448.5 600.7h0M465.5 592.6h0M377.1 611.1h0M395.9 598.9h0M443.6 591.8h0M389.2 608.4h0M379.9 613.2h0M453.3 601.2h0M404.1 612.1h0M418.8 628h0M419.6 605.2h0M463.7 608.5h0M369.2 646.9h0M376.4 629.6h0M400.9 610.8h0M396.5 639.7h0M402.5 631h0M402.8 606.1h0M435.9 601.3h0M390.3 604.9h0M335.2 639.8h0M369.8 627.2h0M414.1 595.5h0M430.7 594.9h0M406.7 610.5h0M330.5 645.2h0M348.9 620.3h0M332.5 640.1h0M332.7 613.5h0M411 596.8h0M427 589.8h0M453.5 589.3h0M351.1 629.9h0M343.8 627.5h0M332.8 631.2h0M337.9 638.6h0M461.3 609.9h0M405.9 603.7h0M364.5 631.6h0M354.9 642.4h0M416 606h0M403.8 602.1h0M359 625.5h0M468.8 589.6h0M393.1 601.2h0M387.3 593.1h0M453.8 600.7h0M417 604.1h0M387.7 607.3h0M366.7 625.5h0M418.7 597.1h0M390.7 616.7h0M400.1 588.8h0M433.2 596.5h0M315.7 663.3h0M351.5 628.5h0M403.5 620.7h0M283.7 670.4h0M373.8 621.5h0M430.8 594.5h0M427.6 605.1h0M381.4 602.3h0M422 615.1h0M399.4 624.4h0M414.1 615.5h0M458 601.8h0M321.6 649.7h0M451.5 593.6h0M403.3 608.9h0M418 598.8h0M407.5 600.1h0M424.2 614.4h0M436.8 596.5h0M395.2 624.1h0M467.2 590.3h0M445.6 597.3h0M454.1 590.5h0M446 624h0M346.2 624h0M288.4 662.6h0M436.4 593.2h0M426.9 639.6h0M419.8 608h0M362.5 614.8h0M426.7 607.1h0M282.5 677.6h0M298.4 691.3h0M335.7 698.1h0M281.4 716.8h0M354.7 694.7h0M321.7 631.5h0M315 673.7h0M292.6 672.4h0M314.7 691.2h0M309.3 726.3h0M285.8 684.8h0M277.3 672.7h0M314.6 691.6h0M302.1 679.6h0M296.5 724.3h0M360.6 708.9h0M302.1 688h0M338 657.3h0M321 671.7h0M315.6 734.7h0M273.8 709.5h0M290.1 705.5h0M334.7 677.8h0M307.4 733.7h0M335.1 629.5h0M271.3 713h0M341 653.2h0M313.2 679h0M291.9 629.9h0M328.3 690.9h0M317.8 730.1h0M314.5 699.4h0M325 714.4h0M301.9 708.4h0M285.8 705.1h0M282.9 685.1h0M286.1 701.8h0M314.6 655.2h0M310.4 663h0M357.6 631.4h0M292.7 673.5h0M285.9 659.2h0M344.8 728.3h0M342.1 693.7h0M293.2 689.2h0M308.7 698.4h0M273.9 676.4h0M321.3 722.9h0M283.4 674.5h0M326.4 697.9h0M273.4 705h0M285 657.9h0M307.1 703.8h0M301.7 710.9h0M299.9 746.7h0M300.4 699.4h0M285.7 689.4h0M304.3 720.9h0M291.5 691.6h0M335.3 704.4h0M272.8 684h0M274.8 677.3h0M296.8 672.8h0M300.4 673.2h0M328.1 716.5h0M290.9 714.3h0M333.3 724h0M303.9 691.9h0M291.2 705.9h0M326.2 674.5h0M291.2 703.3h0M305.3 658.8h0M298.2 667h0M297.4 694.3h0M297.7 702h0M286.2 648.5h0M300.7 714.5h0M293.1 678.9h0M311.3 694.7h0M327.1 675h0M274.1 708.2h0M328.5 698.3h0M291.8 727.9h0M333.6 700.7h0M318.3 662.3h0M320.7 699.8h0M278 639.7h0M306.2 706.6h0M307.7 665.2h0M309.4 702.7h0M285.3 697.8h0M311 677.7h0M344 649.8h0M305.6 729h0M328.7 707.1h0M298 740.5h0M299 695.9h0M322.8 694.3h0M338.9 695.1h0M308.7 730.5h0M323.4 707.2h0M280.8 658.5h0M300.2 714.4h0M312.9 685h0M311.1 679h0M272 681.4h0M301 688.1h0M328.1 713.9h0M300.5 709.9h0M272.4 699.6h0M296 684.7h0M308.6 721h0M362.1 687.8h0M307.3 643.1h0M310.5 707.9h0M310.7 700.7h0M305.8 685.5h0M291.9 680.7h0M275.2 704.1h0M327.9 651.4h0M301.5 714.3h0M293.8 692.4h0M311.4 671.4h0M300.8 663.7h0M337.2 721.4h0M290.3 686.8h0M296.8 727.3h0M284.8 696h0M271.2 661.1h0M298.2 705.7h0M282.9 659.3h0M308.6 688.4h0M301.5 674.8h0M291.1 716.1h0M329.2 679.8h0M303.8 644.4h0M306.4 661.2h0M304.8 645.3h0M311.5 700.8h0M312.3 696.6h0M310.6 671.1h0M299.2 714.7h0M317.7 685.6h0M306 678.6h0M318.5 687h0M340.7 697.8h0M316.7 704.9h0M338.7 644.5h0M340.7 684.6h0M289.5 749.6h0M270.9 726.7h0M342.6 718h0M294 708.2h0M272.1 678.7h0M273.9 650.9h0M323 676h0M284.3 651.6h0M283 695.5h0M357.8 617.2h0M285.3 688.5h0M311.2 660.3h0M272.4 699.1h0M297.5 709.3h0M287.8 710.5h0M327.9 708.2h0M298.3 688.4h0M336.9 733.8h0M292.3 736.6h0M306 713.9h0M271.8 710.5h0M330.9 682.9h0M312.6 651.1h0M295 640.6h0M314.2 656.9h0M319.7 728.7h0M307.1 733.7h0M306.9 682.6h0M343.4 692.4h0M310.9 703.5h0M305.1 767.6h0M324.9 689.2h0M310.2 683.2h0M337.2 685.6h0M271.1 654.8h0M308.2 705.5h0M298.6 661.6h0M347.8 644.2h0M289.9 709.5h0M326.4 725.8h0M292 702.5h0M354.5 713.7h0M287.8 665.5h0M312.5 713.7h0M333.9 697.4h0M298.3 728.9h0M304.2 671.1h0M324.3 710.1h0M332.7 693.6h0M287 635.2h0M294.6 690h0M286 714h0M282.1 635h0M270.6 663.6h0M283.7 652.2h0M338 699.6h0M289.2 695.2h0M359.6 650.7h0M306.7 654.1h0M344.4 679.3h0M331.9 662.8h0M281.9 630.7h0M280.8 661.7h0M342.8 647.7h0M289 711.3h0M319.7 714.8h0M294.3 659.9h0M292.5 719.1h0M288.3 639.9h0M279.5 699.7h0M286.6 675.5h0M320.5 715h0M300.5 691.7h0M304.7 712.6h0M310.2 687.3h0M287.2 664.5h0M286 685.5h0M293.6 672.7h0M273.1 682.9h0M308.6 686.5h0M270.3 677.7h0M315.7 652.7h0M287.7 659.3h0M290.8 674.5h0M288.8 720.9h0M292.2 679.5h0M290.4 715.2h0M335.2 711.9h0M330.7 685h0M276.3 704.1h0M360.6 706.5h0M321.7 661.3h0M318.1 714.1h0M319 698.9h0M310.7 661h0M279.9 671h0M337.5 660h0M294.8 680.7h0M297.6 687.6h0M339.4 680.1h0M291.9 682.3h0M329.7 666h0M303.1 708.6h0M324.7 712.4h0M311.9 680.6h0M333.6 682.2h0M317.1 661.5h0M277.6 726.7h0M365.5 688.8h0M313.2 666.8h0M287.8 736.4h0M286.4 722.3h0M296.1 718h0M284.5 692.9h0M334.2 680.9h0M325.3 704.1h0M288.2 706.5h0M307.7 651.2h0M312.7 682.2h0M315.7 716.4h0M336 689.7h0M298.2 665.4h0M304.8 708.5h0M309.6 667h0M332.2 646.2h0M300.4 678.4h0M377.5 651.6h0M272.3 686.4h0M322.2 670h0M309.6 703.7h0M323.2 656.4h0M331.1 689.4h0M283.6 706.6h0M299.2 708.8h0M295.9 695.1h0M331 702.7h0M320.2 673.1h0M325.3 701.3h0M299.1 712.3h0M325.3 730.7h0M298.8 731.3h0M295.2 695h0M283.8 707.5h0M340.9 704h0M302.6 616.3h0M329.4 705.5h0M313.6 725.6h0M299.4 684.2h0M328.9 682.5h0M307.7 703.4h0M352.5 663.5h0M342.8 675h0M318.9 704.2h0M332.5 716.2h0M310.8 768.7h0M314.6 713.1h0M281.7 693.2h0M276.3 660.3h0M308.4 687.3h0M324.5 731.5h0M342.1 660.7h0M327.8 672.2h0M300.8 664.5h0M311.4 706.5h0M276.8 717.1h0M338.7 693.1h0M274.7 692.7h0M303.8 703h0M310 689.8h0M300.1 660.6h0M288.4 706.2h0M280.2 724.9h0M321.9 689.5h0M277.7 683.8h0M324.8 706.4h0M308.9 694.9h0M338.1 681.1h0M284.3 710.7h0M314.9 684.9h0M282.9 636.6h0M344.6 701.8h0M317.6 718.4h0M326 722.1h0M350.5 665.9h0M302.2 675.2h0M303.4 655.5h0M284.8 697h0M313.2 718.3h0M315.6 662.1h0M317.9 666.9h0M277.7 684.2h0M307.8 732.8h0M289.1 734.7h0M323.7 718.9h0M277.7 636.6h0M331 668.1h0M296.5 711.5h0M314.5 688.4h0M308.2 681.7h0M299.9 710.3h0M289 648.5h0M271.2 688.9h0M297.9 730.9h0M315.2 674.9h0M309.5 642h0M279 724.1h0M278.6 706.1h0M346.7 664.1h0M317.4 671.9h0M335.5 705.1h0M301 715.3h0M295.2 675.7h0M340.3 712.1h0M326 696.8h0M312.1 690.3h0M357.2 704.6h0M290.1 725.2h0M321.2 672.7h0M292.9 686.5h0M305.7 672.7h0M282.3 655.2h0M301.4 672.6h0M287.9 697.5h0M287.3 666.1h0M279.7 683.9h0M346.6 690.9h0M343.5 711.1h0M310.1 682.1h0M315.1 689.9h0M303.8 688.6h0M308.3 706.1h0M285.4 745.6h0M313.6 644.7h0M358 640.5h0M313.5 637.7h0M276.6 627h0M325.1 620.6h0M314 625.6h0M300.2 638.6h0M338.9 636.3h0M345.4 609.2h0M273.7 602.6h0M352.1 617.6h0M276.7 639.6h0M319.5 618.8h0M301.2 634.7h0M314.1 640.7h0M305.9 634.5h0M348.7 642.3h0M293.1 615.9h0M344 612.7h0M338.4 628.9h0M318.4 607.4h0M313.8 620.8h0M287.7 597.1h0M312.7 617.2h0M283.9 643.2h0M324.8 631.1h0M279.9 636.6h0M320.9 635.6h0M358.7 611.7h0M341.1 604.2h0M359.2 629.1h0M340.8 610.5h0M329.3 602.3h0M340.3 638.7h0M299.9 617.3h0M288.9 626h0M312.6 608.6h0M272.4 633.9h0M330.4 624.5h0M304.2 603.4h0M311.4 621.9h0M345.2 637.7h0M332.4 594.3h0M351 597.6h0M276.8 628.8h0M351.1 607.7h0M335.9 629.4h0M341.2 617.5h0M315.1 628.7h0M351.4 636.4h0M334 614.9h0M330.2 640.1h0M358.2 595.5h0M346.6 630.1h0M317.2 598h0M301.4 604.3h0M310.9 607.1h0M295.9 624.1h0M325.3 636.7h0M359.5 599.8h0M338.6 617.8h0M299.9 616.2h0M297.9 643.3h0M334.8 634.2h0M310.5 602.5h0M353.5 628h0M326.5 597.8h0M344.9 639.4h0M331.1 617h0M346.2 613.6h0M353.1 605.4h0M305.9 601h0M312.1 596.3h0M344.2 630.1h0M328.8 620.4h0M307.8 609.7h0M341.9 637.5h0M337.7 596.4h0M315.5 600.1h0M322.9 602.8h0M300.3 612.7h0M346.8 609.7h0M304.2 628.1h0M335.7 636.8h0M274.2 596.1h0M333.3 641.1h0M329 609.1h0M297.3 613.3h0M354.5 621.1h0M354.5 606.4h0M291.9 603.1h0M304.4 603h0M287.9 616.9h0M285.8 615.3h0M303.1 612h0M279.5 599.6h0M356.3 616.3h0M343.4 625.6h0M303.7 603.4h0M351.8 644.5h0M296.4 599.1h0M348.9 614.3h0M279.5 638.3h0M314.3 616.2h0M329.7 617.8h0M282.8 642.2h0M288.4 612.2h0M309.7 635.6h0M349.2 609.5h0M288.9 604.5h0M317.5 641.6h0M304 621.6h0M310.1 609h0M283.2 628.3h0M320 643.5h0M271.7 639h0M356 628.9h0M354.4 609.4h0M306.3 631.8h0M348.3 633.2h0M328.6 618.9h0M302.8 628.7h0M313.4 604.2h0M339.5 603h0M325.6 634.9h0M333.7 626h0M284.1 596.4h0M302 608.2h0M305.4 597.3h0M325.8 620.3h0M288.9 630.5h0M365.6 738.9h0M364.2 697.5h0M365.1 716.1h0M375.6 734.7h0M348.1 677.9h0M293.5 705.9h0M359.6 728.5h0M373.4 705.5h0M316.6 712.5h0M343.2 717h0M292.2 705.2h0M348.1 732.3h0M367.7 712.6h0M301.9 722.3h0M352.2 710h0M331.8 728.8h0M308.6 702h0M352.9 726h0M350.8 706.4h0M297.7 747.4h0M376.2 716.4h0M366.5 729.8h0M371.6 743.8h0M339.6 724.9h0M361.6 737.2h0M329.8 706.9h0M314.7 708.1h0M357.3 730.6h0M400.9 717.5h0M365.2 700.8h0M271.3 683.8h0M358.1 737.5h0M332.1 688.2h0M370.9 738.7h0M336.5 738.1h0M280.2 706.3h0M311.6 718.3h0M334.8 704.2h0M284.7 748.6h0M353 740h0M347.4 679h0M351.5 684.2h0M349.7 707.8h0M327.4 737.5h0M347.7 718.7h0M332.4 707.9h0M386.8 672.9h0M347.6 698.4h0M420.4 700.7h0M373.7 699.7h0M377.4 699.8h0M390.7 705.2h0M386.6 746h0M325.2 713h0M396.7 758.4h0M354.8 745.6h0M360.6 700h0M352.4 698.4h0M354.8 694.7h0M354.9 707.8h0M356.8 739.7h0M345.2 720.7h0M340.9 750.2h0M400 710h0M300.8 705h0M333 741.8h0M354.8 739.9h0M404.7 746.9h0M356.6 732.6h0M317.3 702.2h0M360.9 686.6h0M392.3 713.4h0M318 701.9h0M390.2 746.6h0M360.6 722h0M342.7 696.1h0M328.7 696.1h0M334.4 703.7h0M352.1 693.3h0M293.6 747.1h0M324.5 705.7h0M322.3 724.9h0M335.7 686.5h0M352.6 731.1h0M353.7 718.9h0M388.5 698.1h0M366.6 713.1h0M367.5 704.6h0M400.6 728.2h0M357.1 724h0M387.9 702h0M314.6 702.4h0M336.9 698.9h0M345 740.1h0M352.1 694.6h0M344.8 723.5h0M326.4 723.1h0M326.2 677.7h0M323.5 738.7h0M328.1 741.5h0M349.7 696.4h0M303.6 724.7h0M381.6 660.6h0M304.1 692.2h0M333.1 715.1h0M331.2 699.5h0M346.1 704.7h0M345 721.5h0M305 708h0M370 716.2h0M285.3 687.7h0M358.8 737.9h0M351.6 743.1h0M358 715.1h0M299.2 721.5h0M308.8 729.1h0M363.2 697.1h0M313.4 697.7h0M300.6 725.1h0M310.4 739.4h0M393.3 699.9h0M310.7 752h0M320.2 718.3h0M299.6 722.3h0M341.5 727h0M342 718.4h0M338.1 712.5h0M329 702.7h0M359.4 691.5h0M319.4 731.1h0M377.9 717.6h0M365.2 707.9h0M321.1 752.4h0M314.6 733.4h0M388.6 705.2h0M342.1 727.2h0M306.1 737h0M340.3 719.4h0M373.8 746.8h0M307.9 703h0M309.2 733h0M356.1 711.6h0M359.3 744.9h0M342.5 732.8h0M333.3 707.9h0M314.5 690.7h0M326.2 709.7h0M303.6 707.6h0M365.9 733.6h0M378.6 747.2h0M321.5 741.7h0M346 722.9h0M387.3 714.5h0M365.5 722.4h0M355.6 708.7h0M374 725.4h0M351.2 717.5h0M375.1 724.7h0M367 734.8h0M368.8 719.7h0M353.8 723.6h0M370.3 719.4h0M355.2 703h0M354.9 720.5h0M333.1 724.2h0M373.6 718.9h0M346.6 722h0M362.4 723h0M360.5 726.5h0M377 715.6h0M360.4 735h0M355 723.8h0M352 707.7h0M347.5 730h0M340 724.2h0M353.4 713.4h0M372.9 719.5h0M375.1 720.5h0M358.1 715.3h0M361.4 719.8h0M349.3 716.9h0M330.3 707.4h0M367.1 720.6h0M352.8 707.9h0M355.5 715.2h0M349.9 707.1h0M364.1 720.7h0M369.4 711.2h0M352.6 705.6h0M349.5 719h0M361 711h0M348.9 708h0M359.1 715.5h0M377.4 727.1h0M375.3 717.5h0M359.8 724.3h0M370.1 725h0M375.9 710.3h0M352.4 709.1h0M356.2 725.9h0M362.8 718.6h0M363 709.8h0M369.1 711.6h0M353.9 728.5h0M352.5 721.7h0M361.3 704.8h0M351.8 717h0M367 707.2h0M360 729.8h0M364.5 725.9h0M341.2 713.3h0M369.6 730.4h0M387.8 711.7h0M350.7 716.3h0M375.8 722.3h0M351.5 720.2h0M362.7 711.6h0M374.4 713.8h0M367.3 721.4h0M362 714.4h0M363.2 708.8h0M353.8 719.7h0M368 731h0M357.7 723.1h0M346.1 720.2h0M343.1 718.3h0M364.3 711.7h0M368.4 721h0M349.1 720.8h0M365.7 709.9h0M372.6 719.8h0M365.7 709.1h0M366.9 709.6h0M363.6 705h0M379.7 716h0M361.2 720.7h0M337.8 716.3h0M370.4 725.1h0M350.8 725.4h0M375.4 723.5h0M361.8 723.9h0M348.8 719.6h0M347.4 729.8h0M350.6 714.7h0M368 713.7h0M355.1 721.9h0M362.7 717.1h0M366.4 718.1h0M364.5 699.4h0M366.1 719h0M357.6 727.4h0M369.2 709.5h0M361 721.3h0M348.1 713.2h0M348.9 715.1h0M343.5 712.6h0M365.4 719.6h0M371.4 725.6h0M350.7 712.9h0M364.4 723h0M360.1 712.2h0M355.9 709.1h0M348.1 706.9h0M462.8 646.4h0M469.2 673.2h0M426.5 661.3h0M429.9 696.2h0M442.4 692.2h0M449.8 669.3h0M396.9 695.7h0M467.5 668.2h0M427.2 624h0M469.5 705.6h0M412.6 706.9h0M436.8 678.4h0M459.9 665.1h0M444.1 639.8h0M396.7 689.5h0M442.7 683.7h0M445.2 714.6h0M415.5 687.9h0M435.7 665.2h0M402.5 713.3h0M451.4 637.8h0M409.9 691.8h0M435.8 625.9h0M452.2 721.7h0M409.1 636.3h0M426.2 653.3h0M416.7 724.6h0M449.1 677h0M428.6 621.9h0M436 631.7h0M415.8 706.8h0M443.8 712.8h0M455.6 681.7h0M461.1 631.6h0M431.2 687.7h0M465.9 719.4h0M395.8 640.4h0M471.8 656.3h0M408.7 665.4h0M465.7 690.5h0M449.7 718.2h0M418 676.4h0M421.6 648.7h0M449.2 691.4h0M444 675.2h0M427.3 643.1h0M403.3 665.8h0M397.9 640.3h0M437.7 690.5h0M458.4 633.3h0M421.2 700.7h0M459.9 722.5h0M459.7 666.5h0M458.4 721h0M419.2 707.3h0M402.1 717.7h0M424.7 700.9h0M458.9 725.2h0M438.9 669.6h0M388 724.8h0M388.2 729.9h0M298.4 738.3h0M327.3 716.2h0M357.2 759.4h0M327.7 726.8h0M299.2 755.3h0M283.9 729.5h0M337.6 746.2h0M376.5 757.6h0M325.2 718.5h0M395.9 730.2h0M272.4 753.9h0M333.3 759.5h0M299.5 715.7h0M339.2 757.3h0M391.4 750.3h0M308.1 754.6h0M377.3 738.1h0M288.3 744.6h0M319.3 742.6h0M408.9 749.3h0M369.9 757.1h0M401.3 755.4h0M334 725.5h0M277.7 740.7h0M383.5 724.5h0M348.8 755.7h0M408 726.9h0M393.6 751h0" fill="none" stroke="#BEBEBE" stroke-width="3.5" stroke-linecap="round"/>
<path d="M401.8 724.8h0M399.2 709.8h0M404.3 720.1h0M405.8 720.1h0M404.1 723.3h0M400.9 722.3h0M378.3 707h0M390 707.1h0M397.2 711.9h0M393.4 704.5h0M389.2 713.7h0M397 706.1h0M373.8 709.7h0M383.7 719h0M404.2 723.3h0M402.4 734.6h0M377 706.2h0M393.1 706.8h0M390.7 726.7h0M391.2 716.2h0M369.9 692h0M392.7 720.7h0M400.5 733.8h0M382.2 710.2h0M379.5 705.4h0M373.6 709.7h0M383.3 711.9h0M388.3 707.7h0M380.4 729.3h0M372.6 711.5h0M387.2 702h0M381.3 706h0M407.5 717.5h0M403.9 714.8h0M383.5 696.3h0M388.3 709.9h0M372.5 699.5h0M405.7 709.5h0M395.8 718.8h0M393.3 727.5h0M383.3 702h0M399.5 721.5h0M390.7 709.6h0M395.1 720.3h0M388.7 711.5h0M380.5 703.6h0M376.1 701.1h0M393.8 707.5h0M384.3 710.8h0M381 707.1h0M392.5 719.1h0M385 711.4h0M379 701.6h0M394.9 711.7h0M392.4 717.7h0M400.7 711.8h0M392.1 724.3h0M386.9 697.7h0M380.7 729.9h0M375.8 704.6h0M383.7 730.5h0M387.6 721.9h0M409.6 706.5h0M381.9 703.5h0M380.3 706.4h0M389.6 713.3h0M406.9 739.3h0M389.6 711.6h0M383 702.9h0M368.1 707.2h0M399.3 720.4h0M408.7 734.6h0" fill="none" stroke="#595959" stroke-width="3.5" stroke-linecap="round"/>
<g fill="none" stroke="#000" stroke-width="1"><circle cx="373.3" cy="671.1" r="1.45"/><circle cx="385.1" cy="654.7" r="1.45"/><circle cx="378.9" cy="666.2" r="1.45"/><circle cx="368.6" cy="656.3" r="1.45"/><circle cx="405.0" cy="656.4" r="1.45"/><circle cx="409.5" cy="651.8" r="1.45"/><circle cx="376.3" cy="651.9" r="1.45"/><circle cx="387.5" cy="667.0" r="1.45"/><circle cx="370.5" cy="667.7" r="1.45"/><circle cx="370.1" cy="674.2" r="1.45"/><circle cx="374.5" cy="664.6" r="1.45"/><circle cx="394.4" cy="658.2" r="1.45"/><circle cx="375.4" cy="668.9" r="1.45"/><circle cx="388.3" cy="665.3" r="1.45"/><circle cx="378.7" cy="660.0" r="1.45"/><circle cx="380.8" cy="676.3" r="1.45"/><circle cx="380.5" cy="648.4" r="1.45"/><circle cx="378.4" cy="663.4" r="1.45"/><circle cx="371.0" cy="668.1" r="1.45"/><circle cx="373.8" cy="656.6" r="1.45"/><circle cx="387.9" cy="671.4" r="1.45"/><circle cx="397.9" cy="650.6" r="1.45"/><circle cx="393.8" cy="660.4" r="1.45"/><circle cx="383.0" cy="651.2" r="1.45"/><circle cx="371.9" cy="655.0" r="1.45"/><circle cx="355.7" cy="669.1" r="1.45"/><circle cx="370.5" cy="649.9" r="1.45"/><circle cx="371.3" cy="651.2" r="1.45"/><circle cx="391.2" cy="675.0" r="1.45"/><circle cx="376.1" cy="657.9" r="1.45"/><circle cx="380.6" cy="660.5" r="1.45"/><circle cx="376.1" cy="661.5" r="1.45"/><circle cx="383.4" cy="655.3" r="1.45"/><circle cx="374.3" cy="659.5" r="1.45"/><circle cx="369.9" cy="665.0" r="1.45"/><circle cx="388.5" cy="656.0" r="1.45"/><circle cx="368.8" cy="652.3" r="1.45"/><circle cx="385.5" cy="665.1" r="1.45"/><circle cx="379.8" cy="653.7" r="1.45"/><circle cx="377.5" cy="650.6" r="1.45"/><circle cx="378.3" cy="650.1" r="1.45"/><circle cx="392.6" cy="663.5" r="1.45"/><circle cx="383.8" cy="650.5" r="1.45"/><circle cx="371.3" cy="665.5" r="1.45"/><circle cx="381.1" cy="659.0" r="1.45"/><circle cx="374.9" cy="653.2" r="1.45"/><circle cx="393.8" cy="679.0" r="1.45"/><circle cx="381.0" cy="664.9" r="1.45"/><circle cx="382.8" cy="657.9" r="1.45"/><circle cx="394.2" cy="659.4" r="1.45"/><circle cx="396.7" cy="655.2" r="1.45"/><circle cx="384.8" cy="668.3" r="1.45"/><circle cx="378.9" cy="659.5" r="1.45"/><circle cx="378.6" cy="672.7" r="1.45"/><circle cx="377.4" cy="661.6" r="1.45"/><circle cx="370.1" cy="668.0" r="1.45"/><circle cx="365.8" cy="659.5" r="1.45"/><circle cx="369.6" cy="665.7" r="1.45"/><circle cx="363.5" cy="663.4" r="1.45"/><circle cx="358.8" cy="664.8" r="1.45"/><circle cx="380.0" cy="660.0" r="1.45"/><circle cx="392.5" cy="648.1" r="1.45"/><circle cx="369.1" cy="664.4" r="1.45"/><circle cx="354.1" cy="662.3" r="1.45"/><circle cx="367.5" cy="663.0" r="1.45"/><circle cx="392.6" cy="652.9" r="1.45"/><circle cx="369.6" cy="673.4" r="1.45"/><circle cx="354.1" cy="670.1" r="1.45"/><circle cx="382.4" cy="665.2" r="1.45"/><circle cx="376.6" cy="669.5" r="1.45"/><circle cx="362.5" cy="670.2" r="1.45"/><circle cx="380.9" cy="659.7" r="1.45"/><circle cx="365.9" cy="650.4" r="1.45"/><circle cx="373.7" cy="670.4" r="1.45"/><circle cx="387.0" cy="652.6" r="1.45"/><circle cx="379.0" cy="659.6" r="1.45"/><circle cx="395.6" cy="663.2" r="1.45"/><circle cx="373.7" cy="668.1" r="1.45"/><circle cx="380.5" cy="665.2" r="1.45"/><circle cx="371.6" cy="648.9" r="1.45"/><circle cx="380.3" cy="657.8" r="1.45"/><circle cx="393.4" cy="655.5" r="1.45"/><circle cx="385.4" cy="670.0" r="1.45"/><circle cx="380.5" cy="670.7" r="1.45"/><circle cx="374.9" cy="651.9" r="1.45"/><circle cx="376.6" cy="668.7" r="1.45"/><circle cx="398.7" cy="657.7" r="1.45"/><circle cx="372.7" cy="673.1" r="1.45"/><circle cx="379.5" cy="661.8" r="1.45"/><circle cx="385.0" cy="678.6" r="1.45"/><circle cx="391.6" cy="663.9" r="1.45"/><circle cx="380.8" cy="671.1" r="1.45"/><circle cx="378.3" cy="649.4" r="1.45"/><circle cx="366.3" cy="656.7" r="1.45"/><circle cx="371.6" cy="652.5" r="1.45"/><circle cx="386.0" cy="670.9" r="1.45"/><circle cx="385.7" cy="659.9" r="1.45"/><circle cx="371.2" cy="657.4" r="1.45"/><circle cx="384.5" cy="652.1" r="1.45"/><circle cx="387.0" cy="664.0" r="1.45"/><circle cx="368.4" cy="670.2" r="1.45"/><circle cx="374.9" cy="659.1" r="1.45"/><circle cx="384.9" cy="667.2" r="1.45"/><circle cx="388.3" cy="649.0" r="1.45"/><circle cx="368.9" cy="654.7" r="1.45"/><circle cx="377.1" cy="663.0" r="1.45"/><circle cx="381.7" cy="672.4" r="1.45"/><circle cx="351.3" cy="659.4" r="1.45"/><circle cx="386.4" cy="651.6" r="1.45"/><circle cx="376.4" cy="658.1" r="1.45"/><circle cx="381.3" cy="664.5" r="1.45"/><circle cx="400.0" cy="654.6" r="1.45"/><circle cx="357.8" cy="666.0" r="1.45"/><circle cx="362.0" cy="659.0" r="1.45"/><circle cx="357.0" cy="656.9" r="1.45"/><circle cx="374.3" cy="650.2" r="1.45"/><circle cx="387.0" cy="664.8" r="1.45"/><circle cx="388.8" cy="662.8" r="1.45"/><circle cx="362.7" cy="652.9" r="1.45"/><circle cx="384.0" cy="651.5" r="1.45"/><circle cx="365.2" cy="661.7" r="1.45"/><circle cx="407.7" cy="659.5" r="1.45"/><circle cx="365.8" cy="655.6" r="1.45"/><circle cx="370.9" cy="639.2" r="1.45"/><circle cx="362.3" cy="672.0" r="1.45"/><circle cx="387.6" cy="665.7" r="1.45"/><circle cx="389.6" cy="654.3" r="1.45"/><circle cx="365.2" cy="669.9" r="1.45"/><circle cx="395.9" cy="666.6" r="1.45"/><circle cx="374.2" cy="650.3" r="1.45"/><circle cx="372.6" cy="666.1" r="1.45"/><circle cx="369.7" cy="654.6" r="1.45"/><circle cx="359.5" cy="671.1" r="1.45"/><circle cx="380.6" cy="664.7" r="1.45"/><circle cx="376.8" cy="670.7" r="1.45"/><circle cx="382.6" cy="671.0" r="1.45"/><circle cx="382.9" cy="667.9" r="1.45"/><circle cx="394.5" cy="654.0" r="1.45"/><circle cx="383.8" cy="657.9" r="1.45"/><circle cx="399.2" cy="673.3" r="1.45"/><circle cx="400.8" cy="668.7" r="1.45"/><circle cx="385.5" cy="660.5" r="1.45"/><circle cx="385.9" cy="664.4" r="1.45"/><circle cx="392.9" cy="650.3" r="1.45"/><circle cx="382.8" cy="665.7" r="1.45"/><circle cx="375.0" cy="663.7" r="1.45"/><circle cx="381.6" cy="667.7" r="1.45"/><circle cx="374.5" cy="651.3" r="1.45"/><circle cx="375.5" cy="657.4" r="1.45"/><circle cx="355.2" cy="671.5" r="1.45"/><circle cx="395.4" cy="658.1" r="1.45"/><circle cx="354.3" cy="665.1" r="1.45"/><circle cx="387.9" cy="664.5" r="1.45"/><circle cx="371.3" cy="648.2" r="1.45"/><circle cx="379.7" cy="669.3" r="1.45"/><circle cx="371.2" cy="661.3" r="1.45"/><circle cx="365.1" cy="657.8" r="1.45"/><circle cx="360.5" cy="654.4" r="1.45"/><circle cx="385.9" cy="663.4" r="1.45"/><circle cx="392.0" cy="658.2" r="1.45"/><circle cx="383.7" cy="662.5" r="1.45"/><circle cx="356.0" cy="655.6" r="1.45"/><circle cx="375.8" cy="658.7" r="1.45"/><circle cx="405.1" cy="666.3" r="1.45"/><circle cx="367.0" cy="670.2" r="1.45"/><circle cx="370.0" cy="666.9" r="1.45"/><circle cx="367.6" cy="658.1" r="1.45"/><circle cx="391.4" cy="666.6" r="1.45"/><circle cx="351.2" cy="659.3" r="1.45"/><circle cx="383.8" cy="662.5" r="1.45"/><circle cx="383.7" cy="667.1" r="1.45"/><circle cx="387.6" cy="665.7" r="1.45"/><circle cx="381.8" cy="660.3" r="1.45"/><circle cx="365.3" cy="651.5" r="1.45"/><circle cx="388.4" cy="665.9" r="1.45"/><circle cx="401.0" cy="657.0" r="1.45"/><circle cx="376.3" cy="657.3" r="1.45"/><circle cx="387.0" cy="660.5" r="1.45"/><circle cx="379.5" cy="649.5" r="1.45"/><circle cx="380.0" cy="653.1" r="1.45"/><circle cx="377.0" cy="653.3" r="1.45"/><circle cx="376.4" cy="654.5" r="1.45"/><circle cx="394.2" cy="667.5" r="1.45"/><circle cx="404.8" cy="652.8" r="1.45"/><circle cx="361.9" cy="666.0" r="1.45"/><circle cx="366.6" cy="651.6" r="1.45"/><circle cx="358.6" cy="670.6" r="1.45"/><circle cx="360.6" cy="660.1" r="1.45"/><circle cx="366.9" cy="672.3" r="1.45"/><circle cx="377.1" cy="655.5" r="1.45"/><circle cx="382.9" cy="663.3" r="1.45"/><circle cx="374.0" cy="670.7" r="1.45"/><circle cx="381.0" cy="653.0" r="1.45"/><circle cx="378.3" cy="658.9" r="1.45"/><circle cx="372.5" cy="676.2" r="1.45"/><circle cx="369.9" cy="660.8" r="1.45"/><circle cx="358.8" cy="664.1" r="1.45"/><circle cx="373.3" cy="652.3" r="1.45"/><circle cx="380.2" cy="670.4" r="1.45"/><circle cx="386.4" cy="665.3" r="1.45"/><circle cx="373.6" cy="655.7" r="1.45"/><circle cx="375.2" cy="663.4" r="1.45"/><circle cx="370.2" cy="651.3" r="1.45"/><circle cx="388.5" cy="660.0" r="1.45"/><circle cx="358.2" cy="660.1" r="1.45"/><circle cx="371.4" cy="652.1" r="1.45"/><circle cx="386.0" cy="664.5" r="1.45"/><circle cx="368.8" cy="665.9" r="1.45"/><circle cx="365.2" cy="664.4" r="1.45"/><circle cx="390.9" cy="652.2" r="1.45"/><circle cx="373.1" cy="655.3" r="1.45"/><circle cx="395.3" cy="658.9" r="1.45"/><circle cx="386.9" cy="653.3" r="1.45"/><circle cx="378.8" cy="672.8" r="1.45"/><circle cx="382.8" cy="663.8" r="1.45"/><circle cx="365.8" cy="661.1" r="1.45"/><circle cx="368.3" cy="654.1" r="1.45"/><circle cx="359.7" cy="660.8" r="1.45"/><circle cx="366.9" cy="653.1" r="1.45"/><circle cx="364.2" cy="659.9" r="1.45"/><circle cx="388.8" cy="661.8" r="1.45"/><circle cx="384.2" cy="662.6" r="1.45"/><circle cx="383.5" cy="646.4" r="1.45"/><circle cx="382.9" cy="674.7" r="1.45"/><circle cx="373.8" cy="657.8" r="1.45"/><circle cx="383.9" cy="660.4" r="1.45"/><circle cx="385.0" cy="662.7" r="1.45"/><circle cx="387.7" cy="660.8" r="1.45"/><circle cx="374.8" cy="656.4" r="1.45"/><circle cx="369.8" cy="665.2" r="1.45"/><circle cx="382.3" cy="652.0" r="1.45"/><circle cx="390.9" cy="658.2" r="1.45"/><circle cx="368.4" cy="658.4" r="1.45"/><circle cx="391.8" cy="648.8" r="1.45"/><circle cx="384.8" cy="671.1" r="1.45"/><circle cx="364.3" cy="644.6" r="1.45"/><circle cx="365.9" cy="668.1" r="1.45"/><circle cx="392.9" cy="658.9" r="1.45"/><circle cx="375.6" cy="672.1" r="1.45"/><circle cx="370.0" cy="668.1" r="1.45"/><circle cx="383.5" cy="662.9" r="1.45"/><circle cx="377.9" cy="658.8" r="1.45"/><circle cx="371.9" cy="665.9" r="1.45"/><circle cx="382.6" cy="658.5" r="1.45"/><circle cx="381.6" cy="668.9" r="1.45"/><circle cx="385.6" cy="670.8" r="1.45"/><circle cx="374.8" cy="650.4" r="1.45"/><circle cx="379.1" cy="666.1" r="1.45"/><circle cx="382.7" cy="668.4" r="1.45"/><circle cx="387.9" cy="671.8" r="1.45"/><circle cx="374.7" cy="650.8" r="1.45"/><circle cx="372.7" cy="669.8" r="1.45"/><circle cx="381.5" cy="657.4" r="1.45"/><circle cx="377.8" cy="655.9" r="1.45"/><circle cx="384.0" cy="653.8" r="1.45"/><circle cx="377.4" cy="664.9" r="1.45"/><circle cx="376.0" cy="659.3" r="1.45"/><circle cx="381.0" cy="661.8" r="1.45"/><circle cx="385.4" cy="658.3" r="1.45"/><circle cx="362.2" cy="653.4" r="1.45"/><circle cx="371.8" cy="656.6" r="1.45"/><circle cx="385.9" cy="646.7" r="1.45"/><circle cx="380.1" cy="653.7" r="1.45"/><circle cx="369.1" cy="662.3" r="1.45"/><circle cx="385.4" cy="660.8" r="1.45"/><circle cx="380.0" cy="670.1" r="1.45"/><circle cx="369.4" cy="663.5" r="1.45"/><circle cx="369.1" cy="656.3" r="1.45"/><circle cx="365.5" cy="664.6" r="1.45"/><circle cx="382.1" cy="667.6" r="1.45"/><circle cx="366.0" cy="662.2" r="1.45"/><circle cx="391.3" cy="653.4" r="1.45"/><circle cx="364.8" cy="648.3" r="1.45"/><circle cx="368.2" cy="669.4" r="1.45"/><circle cx="376.6" cy="660.6" r="1.45"/><circle cx="393.4" cy="667.9" r="1.45"/><circle cx="376.4" cy="670.0" r="1.45"/><circle cx="376.2" cy="653.1" r="1.45"/><circle cx="379.8" cy="655.0" r="1.45"/><circle cx="372.7" cy="666.3" r="1.45"/><circle cx="379.7" cy="666.4" r="1.45"/><circle cx="371.2" cy="656.9" r="1.45"/><circle cx="369.2" cy="663.8" r="1.45"/><circle cx="368.3" cy="657.8" r="1.45"/><circle cx="392.5" cy="645.9" r="1.45"/><circle cx="379.6" cy="659.3" r="1.45"/><circle cx="373.6" cy="659.2" r="1.45"/><circle cx="387.4" cy="663.8" r="1.45"/><circle cx="371.5" cy="679.8" r="1.45"/><circle cx="396.7" cy="666.7" r="1.45"/><circle cx="378.0" cy="671.7" r="1.45"/><circle cx="386.9" cy="671.2" r="1.45"/><circle cx="381.1" cy="671.5" r="1.45"/><circle cx="379.0" cy="664.1" r="1.45"/><circle cx="374.0" cy="659.1" r="1.45"/><circle cx="384.6" cy="656.5" r="1.45"/><circle cx="363.7" cy="663.3" r="1.45"/><circle cx="395.2" cy="672.4" r="1.45"/><circle cx="380.9" cy="664.0" r="1.45"/><circle cx="354.2" cy="672.6" r="1.45"/><circle cx="329.1" cy="653.2" r="1.45"/><circle cx="331.4" cy="667.5" r="1.45"/><circle cx="358.0" cy="653.9" r="1.45"/><circle cx="332.5" cy="644.7" r="1.45"/><circle cx="352.1" cy="667.6" r="1.45"/><circle cx="353.5" cy="677.1" r="1.45"/><circle cx="378.5" cy="661.9" r="1.45"/><circle cx="350.3" cy="660.5" r="1.45"/><circle cx="360.9" cy="653.4" r="1.45"/><circle cx="367.6" cy="648.6" r="1.45"/><circle cx="347.6" cy="661.7" r="1.45"/><circle cx="324.2" cy="662.1" r="1.45"/><circle cx="365.2" cy="655.4" r="1.45"/><circle cx="362.9" cy="658.6" r="1.45"/><circle cx="363.8" cy="665.7" r="1.45"/><circle cx="342.8" cy="663.7" r="1.45"/><circle cx="350.9" cy="662.4" r="1.45"/><circle cx="348.1" cy="656.0" r="1.45"/><circle cx="356.7" cy="653.1" r="1.45"/><circle cx="385.2" cy="666.3" r="1.45"/><circle cx="341.5" cy="666.0" r="1.45"/><circle cx="344.7" cy="677.9" r="1.45"/><circle cx="344.6" cy="664.5" r="1.45"/><circle cx="346.7" cy="658.3" r="1.45"/><circle cx="341.3" cy="666.5" r="1.45"/><circle cx="346.4" cy="656.8" r="1.45"/><circle cx="337.5" cy="666.1" r="1.45"/><circle cx="358.2" cy="661.8" r="1.45"/><circle cx="368.5" cy="660.3" r="1.45"/><circle cx="388.6" cy="648.3" r="1.45"/><circle cx="352.9" cy="661.2" r="1.45"/><circle cx="357.1" cy="658.1" r="1.45"/><circle cx="350.9" cy="650.6" r="1.45"/><circle cx="359.0" cy="665.4" r="1.45"/><circle cx="363.5" cy="658.1" r="1.45"/><circle cx="388.5" cy="656.2" r="1.45"/><circle cx="364.8" cy="642.1" r="1.45"/><circle cx="368.7" cy="654.6" r="1.45"/><circle cx="348.7" cy="646.6" r="1.45"/><circle cx="371.8" cy="657.6" r="1.45"/><circle cx="344.8" cy="677.0" r="1.45"/><circle cx="335.5" cy="659.4" r="1.45"/><circle cx="365.4" cy="666.9" r="1.45"/><circle cx="353.9" cy="662.8" r="1.45"/><circle cx="330.9" cy="650.3" r="1.45"/><circle cx="377.5" cy="671.0" r="1.45"/><circle cx="338.0" cy="658.1" r="1.45"/><circle cx="357.7" cy="654.6" r="1.45"/><circle cx="342.4" cy="652.5" r="1.45"/><circle cx="353.9" cy="657.6" r="1.45"/><circle cx="318.8" cy="659.5" r="1.45"/><circle cx="362.4" cy="656.2" r="1.45"/><circle cx="335.6" cy="663.7" r="1.45"/><circle cx="370.5" cy="647.7" r="1.45"/><circle cx="341.4" cy="668.0" r="1.45"/><circle cx="378.7" cy="663.5" r="1.45"/><circle cx="365.7" cy="654.0" r="1.45"/><circle cx="352.5" cy="661.2" r="1.45"/><circle cx="344.0" cy="671.1" r="1.45"/><circle cx="374.8" cy="646.2" r="1.45"/><circle cx="338.9" cy="665.8" r="1.45"/><circle cx="353.4" cy="655.6" r="1.45"/><circle cx="368.1" cy="657.1" r="1.45"/><circle cx="335.8" cy="654.6" r="1.45"/><circle cx="356.6" cy="651.7" r="1.45"/><circle cx="344.6" cy="670.7" r="1.45"/><circle cx="352.2" cy="650.2" r="1.45"/><circle cx="352.8" cy="643.5" r="1.45"/><circle cx="356.2" cy="678.5" r="1.45"/><circle cx="333.6" cy="656.8" r="1.45"/><circle cx="360.5" cy="662.5" r="1.45"/><circle cx="334.0" cy="676.6" r="1.45"/><circle cx="336.7" cy="657.7" r="1.45"/><circle cx="347.8" cy="654.5" r="1.45"/><circle cx="361.3" cy="657.1" r="1.45"/><circle cx="347.4" cy="666.4" r="1.45"/><circle cx="348.4" cy="649.1" r="1.45"/><circle cx="321.3" cy="663.9" r="1.45"/><circle cx="367.8" cy="659.1" r="1.45"/><circle cx="372.3" cy="642.3" r="1.45"/><circle cx="348.0" cy="662.0" r="1.45"/><circle cx="353.5" cy="657.4" r="1.45"/><circle cx="358.2" cy="673.1" r="1.45"/><circle cx="364.7" cy="653.0" r="1.45"/><circle cx="369.1" cy="664.0" r="1.45"/><circle cx="347.7" cy="657.5" r="1.45"/><circle cx="359.8" cy="652.3" r="1.45"/><circle cx="368.3" cy="670.8" r="1.45"/><circle cx="351.0" cy="670.6" r="1.45"/><circle cx="347.0" cy="662.4" r="1.45"/><circle cx="382.9" cy="669.4" r="1.45"/><circle cx="351.8" cy="661.1" r="1.45"/><circle cx="351.2" cy="653.2" r="1.45"/><circle cx="362.3" cy="656.7" r="1.45"/><circle cx="333.9" cy="643.1" r="1.45"/><circle cx="359.7" cy="649.2" r="1.45"/><circle cx="347.5" cy="652.9" r="1.45"/><circle cx="358.0" cy="648.2" r="1.45"/><circle cx="347.5" cy="647.0" r="1.45"/><circle cx="354.6" cy="663.8" r="1.45"/><circle cx="356.9" cy="660.8" r="1.45"/><circle cx="341.8" cy="665.2" r="1.45"/><circle cx="365.3" cy="648.0" r="1.45"/><circle cx="352.6" cy="647.5" r="1.45"/><circle cx="369.4" cy="664.5" r="1.45"/><circle cx="354.3" cy="672.6" r="1.45"/><circle cx="356.4" cy="668.6" r="1.45"/><circle cx="341.4" cy="653.3" r="1.45"/><circle cx="369.4" cy="653.1" r="1.45"/><circle cx="374.6" cy="637.8" r="1.45"/><circle cx="352.0" cy="657.4" r="1.45"/><circle cx="368.4" cy="673.3" r="1.45"/><circle cx="348.1" cy="667.5" r="1.45"/><circle cx="330.7" cy="653.4" r="1.45"/><circle cx="373.7" cy="668.6" r="1.45"/><circle cx="345.6" cy="655.7" r="1.45"/><circle cx="341.4" cy="668.7" r="1.45"/><circle cx="320.4" cy="656.4" r="1.45"/><circle cx="352.9" cy="662.3" r="1.45"/><circle cx="366.7" cy="644.2" r="1.45"/><circle cx="376.4" cy="706.9" r="1.45"/><circle cx="390.8" cy="684.1" r="1.45"/><circle cx="390.8" cy="682.9" r="1.45"/><circle cx="385.1" cy="665.5" r="1.45"/><circle cx="401.7" cy="648.5" r="1.45"/><circle cx="389.2" cy="681.4" r="1.45"/><circle cx="395.7" cy="677.1" r="1.45"/><circle cx="397.7" cy="690.3" r="1.45"/><circle cx="387.7" cy="659.3" r="1.45"/><circle cx="382.9" cy="682.4" r="1.45"/><circle cx="375.1" cy="678.7" r="1.45"/><circle cx="375.1" cy="648.0" r="1.45"/><circle cx="392.1" cy="688.7" r="1.45"/><circle cx="378.8" cy="682.6" r="1.45"/><circle cx="381.6" cy="687.8" r="1.45"/><circle cx="380.3" cy="672.6" r="1.45"/><circle cx="388.2" cy="676.0" r="1.45"/><circle cx="392.6" cy="700.6" r="1.45"/><circle cx="380.2" cy="701.7" r="1.45"/><circle cx="379.1" cy="672.3" r="1.45"/><circle cx="386.3" cy="674.8" r="1.45"/><circle cx="363.4" cy="692.6" r="1.45"/><circle cx="381.2" cy="690.4" r="1.45"/><circle cx="367.2" cy="685.5" r="1.45"/><circle cx="367.7" cy="699.7" r="1.45"/><circle cx="377.9" cy="686.3" r="1.45"/><circle cx="382.7" cy="682.9" r="1.45"/><circle cx="390.3" cy="691.8" r="1.45"/><circle cx="395.5" cy="697.2" r="1.45"/><circle cx="369.5" cy="690.1" r="1.45"/><circle cx="397.8" cy="682.8" r="1.45"/><circle cx="374.6" cy="674.7" r="1.45"/><circle cx="369.1" cy="683.9" r="1.45"/><circle cx="380.2" cy="674.3" r="1.45"/><circle cx="387.1" cy="688.9" r="1.45"/><circle cx="383.5" cy="682.0" r="1.45"/><circle cx="399.3" cy="676.9" r="1.45"/><circle cx="367.1" cy="697.8" r="1.45"/><circle cx="387.5" cy="669.8" r="1.45"/><circle cx="375.8" cy="662.2" r="1.45"/><circle cx="386.2" cy="682.9" r="1.45"/><circle cx="372.1" cy="691.1" r="1.45"/><circle cx="379.2" cy="671.2" r="1.45"/><circle cx="384.2" cy="679.3" r="1.45"/><circle cx="372.2" cy="700.7" r="1.45"/><circle cx="372.1" cy="671.2" r="1.45"/><circle cx="381.8" cy="684.6" r="1.45"/><circle cx="378.5" cy="672.1" r="1.45"/><circle cx="386.0" cy="676.5" r="1.45"/><circle cx="372.2" cy="670.4" r="1.45"/><circle cx="383.6" cy="681.9" r="1.45"/><circle cx="373.3" cy="693.9" r="1.45"/><circle cx="370.2" cy="686.7" r="1.45"/><circle cx="377.6" cy="678.2" r="1.45"/><circle cx="372.7" cy="685.2" r="1.45"/><circle cx="379.3" cy="699.2" r="1.45"/><circle cx="374.6" cy="690.8" r="1.45"/><circle cx="373.1" cy="670.8" r="1.45"/><circle cx="390.5" cy="689.9" r="1.45"/><circle cx="381.1" cy="698.3" r="1.45"/><circle cx="393.5" cy="687.3" r="1.45"/><circle cx="379.9" cy="666.5" r="1.45"/><circle cx="362.7" cy="686.5" r="1.45"/><circle cx="369.1" cy="706.4" r="1.45"/><circle cx="385.9" cy="686.0" r="1.45"/><circle cx="390.5" cy="689.7" r="1.45"/><circle cx="398.2" cy="669.2" r="1.45"/><circle cx="384.4" cy="687.1" r="1.45"/><circle cx="380.1" cy="668.2" r="1.45"/><circle cx="374.6" cy="700.6" r="1.45"/><circle cx="432.2" cy="648.2" r="1.45"/><circle cx="322.4" cy="664.4" r="1.45"/><circle cx="363.2" cy="634.3" r="1.45"/><circle cx="371.1" cy="636.6" r="1.45"/><circle cx="329.2" cy="679.4" r="1.45"/></g>
<circle cx="356.39" cy="707.6" r="3.2" fill="#FF9A00" stroke="#FF2A00" stroke-width="1"/>
</g>
<rect x="273.26" y="591.64" width="195.65" height="175.1" fill="none" stroke="#000" stroke-width="1"/>
<path d="M303.2 766.74v5.9M348.47 766.74v5.9M393.73 766.74v5.9M439 766.74v5.9" stroke="#000" stroke-width="1" fill="none" stroke-linecap="round"/>
<text x="303.2" y="787.24" font-size="9.24" text-anchor="middle">0.8</text>
<text x="348.47" y="787.24" font-size="9.24" text-anchor="middle">1.0</text>
<text x="393.73" y="787.24" font-size="9.24" text-anchor="middle">1.2</text>
<text x="439" y="787.24" font-size="9.24" text-anchor="middle">1.4</text>
<path d="M273.26 598.5h-5.9M273.26 621.61h-5.9M273.26 644.73h-5.9M273.26 667.84h-5.9M273.26 690.96h-5.9M273.26 714.07h-5.9M273.26 737.19h-5.9M273.26 760.3h-5.9" stroke="#000" stroke-width="1" fill="none" stroke-linecap="round"/>
<text x="260.06" y="599.1" font-size="9.24" text-anchor="middle" transform="rotate(-90 260.06 599.1)">0.5</text>
<text x="260.06" y="622.21" font-size="9.24" text-anchor="middle" transform="rotate(-90 260.06 622.21)">0.4</text>
<text x="260.06" y="645.33" font-size="9.24" text-anchor="middle" transform="rotate(-90 260.06 645.33)">0.3</text>
<text x="260.06" y="668.44" font-size="9.24" text-anchor="middle" transform="rotate(-90 260.06 668.44)">0.2</text>
<text x="260.06" y="691.56" font-size="9.24" text-anchor="middle" transform="rotate(-90 260.06 691.56)">0.1</text>
<text x="260.06" y="714.67" font-size="9.24" text-anchor="middle" transform="rotate(-90 260.06 714.67)">0.0</text>
<text x="260.06" y="760.9" font-size="9.24" text-anchor="middle" transform="rotate(-90 260.06 760.9)">-0.2</text>
<text x="371.09" y="584.44" font-size="8.75" text-anchor="middle" font-weight="bold">Color-color diagram</text>
<text x="371.09" y="798.24" font-size="9.24" text-anchor="middle">u-g</text>
<text x="248.06" y="679.19" font-size="9.24" text-anchor="middle" transform="rotate(-90 248.06 679.19)">g-r</text>
<clipPath id="c11"><rect x="513.26" y="591.64" width="195.65" height="175.1"/></clipPath>
<g clip-path="url(#c11)">
<path d="M623.6 715.8h0M614.1 723.9h0M648 733.4h0M615.1 743.4h0M619.5 746.9h0M637.6 737h0M607 733.3h0M610.9 751.4h0M620.5 746h0M614.1 726.8h0M603.5 733.7h0M615.6 737h0M613.8 733.7h0M625.6 737.6h0M597.7 720.8h0M609.6 714h0M632.3 709.8h0M640.9 722.9h0M599.6 722.6h0M626.1 715.7h0M606.1 713h0M607.6 715.7h0M607.5 718.1h0M613 735.9h0M630.4 745.1h0M626.9 721.3h0M618.9 730.7h0M613.7 730.3h0M618.2 738.3h0M616.9 742.3h0M627.9 716.3h0M610.4 725.3h0M618.1 740h0M616.9 726h0M617.5 726.8h0M621.2 724.7h0M620.6 708.3h0M634.5 730.1h0M617.1 742.1h0M637.3 729.4h0M614.4 736h0M612.3 724.5h0M619.4 727.7h0M622.5 726.4h0M621.5 735.2h0M634 725.8h0M632.1 734.7h0M624.2 724.8h0M614 732.7h0M616.9 740.5h0M635.5 725h0M620.9 736.5h0M602.1 715.9h0M609.7 725.5h0M611.1 725.3h0M632.3 728.8h0M616.8 730.3h0M645.9 752.7h0M626.2 718h0M619.7 737.6h0M612.8 720.6h0M630.1 735.9h0M615.2 731.1h0M608 731.9h0M625.1 739.7h0M618.3 731.4h0M632.8 725.2h0M617.3 733.7h0M583.1 741.9h0M627.8 735.3h0M595.1 727.4h0M637 718.7h0M640.5 721.7h0M612.9 727h0M603.9 739.3h0M601 721h0M628.9 729.5h0M615.7 732.1h0M610.8 721h0M615.2 723.8h0M643.8 725h0M622.4 740.8h0M627.3 735.6h0M627.7 746.1h0M630.7 727.9h0M631.2 729.5h0M609.4 720.8h0M615.5 727.7h0M608.8 733.3h0M609.4 709.5h0M632.2 739.7h0M612 742.6h0M617.2 735.6h0M609.7 724.7h0M610.9 733.1h0M627.8 734h0M612.7 740.5h0M612.2 715.6h0M624.2 735.8h0M624.3 740.1h0M627.9 730.9h0M620.3 737.5h0M596.6 732h0M625.9 716.9h0M624.3 734.1h0M630.7 730.2h0M607.8 733.3h0M649.1 731.6h0M603 721.9h0M627.1 724.6h0M618.7 733h0M612.2 738.7h0M628.2 731.1h0M614.7 721.8h0M589.5 729.9h0M603.8 731h0M623.8 747.1h0M645.6 720.2h0M600 744.1h0M618 742.1h0M596.3 699.8h0M585 675.1h0M623.8 692.9h0M638.5 699.4h0M585.7 676.3h0M630.9 675.3h0M613.5 684h0M584.6 704.7h0M587.3 678h0M612.5 693.9h0M589.3 681.7h0M599.9 684h0M654.2 640.4h0M651.9 628.9h0M667.2 632.5h0M625.7 644.2h0M632 650.5h0M588.8 663.4h0M621.9 638.9h0M687.5 637.6h0M609.5 651.2h0M658.2 642.9h0M655.9 634.1h0M610.1 654.2h0M666.4 645.4h0M632.2 629.6h0M664.8 627.7h0M636.7 638.6h0M658.3 640.8h0M664.2 624.6h0M623.8 631h0M613.3 651.5h0M624.6 652.5h0M643.4 634.4h0M624.1 650.8h0M664.7 632h0M604.5 651.3h0M651.3 638h0M612.8 646.6h0M628.2 645.8h0M664.6 636.1h0M631.8 638h0M616.6 640h0M609.8 630.1h0M635.3 646.1h0M593.8 663.9h0M627.3 646.4h0M621 642.4h0M620.7 655.3h0M597.9 663.8h0M611.5 637.3h0M626 659.3h0M645.2 608.9h0M671.1 611.4h0M658.8 622.1h0M632.2 612h0M604.1 601h0M634.8 600.8h0M592 635.9h0M599.4 602.8h0M676.3 625h0M644.3 638.3h0M523.8 652.8h0M553.7 725.7h0M563.1 737.9h0M695.2 670.1h0M694.5 749h0M654.3 686.2h0M681.1 724.7h0M677.9 726.7h0M683.4 730.8h0M652.8 719.6h0M666.9 746h0M670.1 747h0M685.8 714.6h0M654.3 732.8h0M665.4 704.5h0M624.5 620.5h0M621.3 606.3h0M665.4 598.2h0" fill="none" stroke="#BEBEBE" stroke-width="3.5" stroke-linecap="round"/>
<path d="M614.6 651.5h0M631.7 643.4h0M641.5 638.1h0M649.2 648.7h0M625.3 644h0M638.4 644.1h0M621.9 641h0M598 653.5h0M616.5 647.4h0M635.5 648.4h0M633.9 642.3h0M637.7 643.5h0M598.4 655.9h0M634.4 639.7h0M641.5 640.7h0M610.7 649.7h0M630.5 648.3h0M613.2 651.4h0M639.8 643.6h0M649.7 638.9h0M611.3 647.8h0M643.8 638.6h0M607.2 649.5h0M636.3 642.6h0M602.9 654.1h0M637 634.4h0M605.7 654.6h0M618.8 650.1h0M607 647.2h0M637.7 638.1h0M608.5 650.6h0M614.7 653.4h0M615.8 645.4h0M610.3 649.4h0M606.5 647.9h0M639.5 641.1h0M621.6 643.5h0M637.3 646.4h0M601.4 647.8h0M621.8 648.4h0M600.8 651.5h0M604.6 651.3h0M622.7 640.1h0M626.3 647.1h0M636.7 649.7h0M631.1 646.1h0M602.7 659.1h0M621.8 649.2h0M634.6 652.4h0M646.8 640.4h0M647.5 639.1h0M623.2 642.4h0M639.9 643.5h0M612.4 655h0M632.1 650.5h0M635.2 642.5h0M592.7 655.7h0M604.5 658.5h0M611.7 641.9h0M611 654.6h0M605.4 652.7h0M630.4 647.4h0M623.7 644.6h0M623.7 646.3h0M632.6 640.5h0M615.7 647h0M618.3 653h0M608.4 649h0M608.7 655.1h0M621.9 655.2h0M638.4 640.1h0M617.2 645.7h0M641.7 638.3h0M639.2 634.1h0M639.7 645.9h0M641.5 647.1h0M597.8 650.9h0M633.6 647.2h0M608.6 649h0M637.9 644.5h0M622.6 646.2h0M604.1 651.3h0M641 640.5h0M605.9 656.1h0M652.5 633.3h0" fill="none" stroke="#595959" stroke-width="3.5" stroke-linecap="round"/>
<g fill="none" stroke="#000" stroke-width="1"><circle cx="663.3" cy="617.5" r="1.45"/><circle cx="670.3" cy="620.9" r="1.45"/><circle cx="663.5" cy="610.1" r="1.45"/><circle cx="659.8" cy="630.8" r="1.45"/><circle cx="667.5" cy="615.2" r="1.45"/><circle cx="683.4" cy="617.6" r="1.45"/><circle cx="667.8" cy="611.4" r="1.45"/><circle cx="668.5" cy="623.5" r="1.45"/><circle cx="667.1" cy="617.3" r="1.45"/><circle cx="673.8" cy="612.6" r="1.45"/><circle cx="668.3" cy="621.1" r="1.45"/><circle cx="667.3" cy="624.7" r="1.45"/><circle cx="644.9" cy="638.7" r="1.45"/><circle cx="673.3" cy="616.0" r="1.45"/><circle cx="661.5" cy="623.9" r="1.45"/><circle cx="662.5" cy="625.1" r="1.45"/><circle cx="662.3" cy="631.1" r="1.45"/><circle cx="667.5" cy="619.1" r="1.45"/><circle cx="656.9" cy="634.7" r="1.45"/><circle cx="660.8" cy="625.9" r="1.45"/><circle cx="668.7" cy="621.1" r="1.45"/><circle cx="665.9" cy="633.1" r="1.45"/><circle cx="669.6" cy="621.3" r="1.45"/><circle cx="657.4" cy="626.4" r="1.45"/><circle cx="651.7" cy="623.2" r="1.45"/><circle cx="666.8" cy="619.5" r="1.45"/><circle cx="668.4" cy="626.5" r="1.45"/><circle cx="659.9" cy="622.1" r="1.45"/><circle cx="661.9" cy="624.5" r="1.45"/><circle cx="679.9" cy="616.5" r="1.45"/><circle cx="682.0" cy="615.5" r="1.45"/><circle cx="666.6" cy="618.7" r="1.45"/><circle cx="673.8" cy="613.5" r="1.45"/><circle cx="682.5" cy="614.1" r="1.45"/><circle cx="637.6" cy="625.4" r="1.45"/><circle cx="675.3" cy="620.2" r="1.45"/><circle cx="668.8" cy="623.4" r="1.45"/><circle cx="673.0" cy="615.4" r="1.45"/><circle cx="659.8" cy="634.6" r="1.45"/><circle cx="649.4" cy="626.7" r="1.45"/><circle cx="651.3" cy="627.9" r="1.45"/><circle cx="667.3" cy="617.2" r="1.45"/><circle cx="665.7" cy="631.5" r="1.45"/><circle cx="661.2" cy="625.5" r="1.45"/><circle cx="677.8" cy="615.8" r="1.45"/><circle cx="672.3" cy="624.9" r="1.45"/><circle cx="654.3" cy="621.4" r="1.45"/><circle cx="671.8" cy="616.1" r="1.45"/><circle cx="662.1" cy="632.6" r="1.45"/><circle cx="671.2" cy="626.4" r="1.45"/><circle cx="652.8" cy="627.1" r="1.45"/><circle cx="667.1" cy="625.5" r="1.45"/><circle cx="670.8" cy="622.5" r="1.45"/><circle cx="656.2" cy="627.1" r="1.45"/><circle cx="681.5" cy="621.1" r="1.45"/><circle cx="674.0" cy="621.5" r="1.45"/><circle cx="662.7" cy="625.6" r="1.45"/><circle cx="651.2" cy="620.0" r="1.45"/><circle cx="666.2" cy="619.4" r="1.45"/><circle cx="671.8" cy="620.4" r="1.45"/><circle cx="666.4" cy="618.3" r="1.45"/><circle cx="665.5" cy="617.8" r="1.45"/><circle cx="665.6" cy="620.4" r="1.45"/><circle cx="669.7" cy="613.8" r="1.45"/><circle cx="673.4" cy="622.8" r="1.45"/><circle cx="674.7" cy="619.5" r="1.45"/><circle cx="663.7" cy="626.5" r="1.45"/><circle cx="685.8" cy="614.9" r="1.45"/><circle cx="667.0" cy="626.2" r="1.45"/><circle cx="647.8" cy="630.9" r="1.45"/><circle cx="653.2" cy="628.6" r="1.45"/><circle cx="666.5" cy="621.4" r="1.45"/><circle cx="674.6" cy="620.8" r="1.45"/><circle cx="681.7" cy="617.2" r="1.45"/><circle cx="675.5" cy="628.8" r="1.45"/><circle cx="659.4" cy="626.5" r="1.45"/><circle cx="664.7" cy="624.2" r="1.45"/><circle cx="670.5" cy="613.5" r="1.45"/><circle cx="664.7" cy="618.2" r="1.45"/><circle cx="682.5" cy="616.8" r="1.45"/><circle cx="664.7" cy="623.2" r="1.45"/><circle cx="670.3" cy="620.5" r="1.45"/><circle cx="668.7" cy="621.3" r="1.45"/><circle cx="672.2" cy="620.7" r="1.45"/><circle cx="667.8" cy="632.0" r="1.45"/><circle cx="672.1" cy="623.8" r="1.45"/><circle cx="672.1" cy="623.4" r="1.45"/><circle cx="681.8" cy="620.1" r="1.45"/><circle cx="684.5" cy="616.1" r="1.45"/><circle cx="684.7" cy="608.9" r="1.45"/><circle cx="665.1" cy="624.1" r="1.45"/><circle cx="666.7" cy="616.6" r="1.45"/><circle cx="664.8" cy="618.7" r="1.45"/><circle cx="683.0" cy="621.2" r="1.45"/><circle cx="670.7" cy="625.2" r="1.45"/><circle cx="663.8" cy="616.7" r="1.45"/><circle cx="667.8" cy="619.1" r="1.45"/><circle cx="692.8" cy="618.9" r="1.45"/><circle cx="672.0" cy="627.9" r="1.45"/><circle cx="680.3" cy="619.1" r="1.45"/><circle cx="661.3" cy="621.3" r="1.45"/><circle cx="656.3" cy="627.9" r="1.45"/><circle cx="668.7" cy="619.1" r="1.45"/><circle cx="653.5" cy="633.6" r="1.45"/><circle cx="669.3" cy="624.5" r="1.45"/><circle cx="666.7" cy="637.6" r="1.45"/><circle cx="666.1" cy="631.1" r="1.45"/><circle cx="665.1" cy="617.9" r="1.45"/><circle cx="671.1" cy="614.0" r="1.45"/><circle cx="676.6" cy="617.6" r="1.45"/><circle cx="669.7" cy="626.6" r="1.45"/><circle cx="674.9" cy="617.5" r="1.45"/><circle cx="684.0" cy="618.8" r="1.45"/><circle cx="658.5" cy="623.4" r="1.45"/><circle cx="678.3" cy="613.2" r="1.45"/><circle cx="685.3" cy="615.2" r="1.45"/><circle cx="654.8" cy="627.0" r="1.45"/><circle cx="662.7" cy="632.8" r="1.45"/><circle cx="682.1" cy="620.5" r="1.45"/><circle cx="668.9" cy="622.9" r="1.45"/><circle cx="670.9" cy="621.0" r="1.45"/><circle cx="643.9" cy="630.4" r="1.45"/><circle cx="665.9" cy="615.9" r="1.45"/><circle cx="682.0" cy="604.0" r="1.45"/><circle cx="669.3" cy="626.1" r="1.45"/><circle cx="646.8" cy="631.7" r="1.45"/><circle cx="669.7" cy="619.8" r="1.45"/><circle cx="663.9" cy="630.1" r="1.45"/><circle cx="671.5" cy="627.3" r="1.45"/><circle cx="671.3" cy="628.7" r="1.45"/><circle cx="666.2" cy="625.0" r="1.45"/><circle cx="664.7" cy="628.3" r="1.45"/><circle cx="655.5" cy="642.4" r="1.45"/><circle cx="665.7" cy="624.3" r="1.45"/><circle cx="661.2" cy="624.8" r="1.45"/><circle cx="667.3" cy="622.2" r="1.45"/><circle cx="680.4" cy="621.6" r="1.45"/><circle cx="667.4" cy="615.3" r="1.45"/><circle cx="668.8" cy="617.5" r="1.45"/><circle cx="677.1" cy="623.8" r="1.45"/><circle cx="676.8" cy="612.8" r="1.45"/><circle cx="686.5" cy="621.4" r="1.45"/><circle cx="647.8" cy="625.0" r="1.45"/><circle cx="676.6" cy="625.7" r="1.45"/><circle cx="669.4" cy="617.9" r="1.45"/><circle cx="666.7" cy="626.7" r="1.45"/><circle cx="661.4" cy="626.0" r="1.45"/><circle cx="667.7" cy="613.5" r="1.45"/><circle cx="680.7" cy="624.4" r="1.45"/><circle cx="660.9" cy="630.8" r="1.45"/><circle cx="655.7" cy="620.6" r="1.45"/><circle cx="674.8" cy="619.1" r="1.45"/><circle cx="663.4" cy="623.5" r="1.45"/><circle cx="660.5" cy="623.4" r="1.45"/><circle cx="663.1" cy="626.0" r="1.45"/><circle cx="695.3" cy="614.1" r="1.45"/><circle cx="673.5" cy="622.0" r="1.45"/><circle cx="665.1" cy="621.2" r="1.45"/><circle cx="668.5" cy="626.3" r="1.45"/><circle cx="678.2" cy="613.0" r="1.45"/><circle cx="680.8" cy="615.6" r="1.45"/><circle cx="655.8" cy="638.4" r="1.45"/><circle cx="662.6" cy="628.6" r="1.45"/><circle cx="682.6" cy="614.3" r="1.45"/><circle cx="664.6" cy="618.7" r="1.45"/><circle cx="670.0" cy="622.2" r="1.45"/><circle cx="660.5" cy="632.7" r="1.45"/><circle cx="678.4" cy="620.7" r="1.45"/><circle cx="675.6" cy="622.1" r="1.45"/><circle cx="670.2" cy="620.9" r="1.45"/><circle cx="668.9" cy="626.3" r="1.45"/><circle cx="666.5" cy="624.3" r="1.45"/><circle cx="667.7" cy="621.5" r="1.45"/><circle cx="670.6" cy="623.3" r="1.45"/><circle cx="661.1" cy="621.9" r="1.45"/><circle cx="666.3" cy="619.1" r="1.45"/><circle cx="670.8" cy="626.2" r="1.45"/><circle cx="676.2" cy="615.7" r="1.45"/><circle cx="684.3" cy="618.1" r="1.45"/><circle cx="662.7" cy="621.5" r="1.45"/><circle cx="676.3" cy="618.4" r="1.45"/><circle cx="683.8" cy="628.0" r="1.45"/><circle cx="651.0" cy="626.7" r="1.45"/><circle cx="672.9" cy="622.8" r="1.45"/><circle cx="648.3" cy="630.0" r="1.45"/><circle cx="669.6" cy="617.0" r="1.45"/><circle cx="673.0" cy="619.4" r="1.45"/><circle cx="663.8" cy="618.7" r="1.45"/><circle cx="690.1" cy="616.0" r="1.45"/><circle cx="665.0" cy="622.0" r="1.45"/><circle cx="679.3" cy="617.4" r="1.45"/><circle cx="670.4" cy="619.3" r="1.45"/><circle cx="672.6" cy="630.7" r="1.45"/><circle cx="661.5" cy="630.5" r="1.45"/><circle cx="670.9" cy="622.9" r="1.45"/><circle cx="657.8" cy="627.2" r="1.45"/><circle cx="681.0" cy="617.3" r="1.45"/><circle cx="667.7" cy="628.0" r="1.45"/><circle cx="669.8" cy="621.0" r="1.45"/><circle cx="680.3" cy="624.5" r="1.45"/><circle cx="665.7" cy="630.1" r="1.45"/><circle cx="654.2" cy="627.3" r="1.45"/><circle cx="654.2" cy="633.3" r="1.45"/><circle cx="665.6" cy="619.0" r="1.45"/><circle cx="671.6" cy="621.2" r="1.45"/><circle cx="657.3" cy="618.1" r="1.45"/><circle cx="650.5" cy="637.4" r="1.45"/><circle cx="668.5" cy="617.9" r="1.45"/><circle cx="675.4" cy="623.2" r="1.45"/><circle cx="683.9" cy="622.3" r="1.45"/><circle cx="657.3" cy="623.4" r="1.45"/><circle cx="675.1" cy="629.2" r="1.45"/><circle cx="668.9" cy="619.9" r="1.45"/><circle cx="631.0" cy="628.8" r="1.45"/><circle cx="667.9" cy="622.1" r="1.45"/><circle cx="658.6" cy="618.9" r="1.45"/><circle cx="662.9" cy="619.3" r="1.45"/><circle cx="673.4" cy="613.5" r="1.45"/><circle cx="660.7" cy="617.4" r="1.45"/><circle cx="664.1" cy="616.9" r="1.45"/><circle cx="683.7" cy="622.8" r="1.45"/><circle cx="663.4" cy="627.2" r="1.45"/><circle cx="670.8" cy="623.5" r="1.45"/><circle cx="656.6" cy="628.3" r="1.45"/><circle cx="659.9" cy="623.8" r="1.45"/><circle cx="679.2" cy="621.5" r="1.45"/><circle cx="672.1" cy="625.0" r="1.45"/><circle cx="658.3" cy="623.1" r="1.45"/><circle cx="679.3" cy="624.4" r="1.45"/><circle cx="657.3" cy="628.9" r="1.45"/><circle cx="678.4" cy="622.7" r="1.45"/><circle cx="662.8" cy="625.2" r="1.45"/><circle cx="667.4" cy="621.7" r="1.45"/><circle cx="661.2" cy="622.1" r="1.45"/><circle cx="662.7" cy="628.6" r="1.45"/><circle cx="672.0" cy="622.5" r="1.45"/><circle cx="683.2" cy="616.8" r="1.45"/><circle cx="666.4" cy="623.3" r="1.45"/><circle cx="664.2" cy="619.6" r="1.45"/><circle cx="667.7" cy="614.6" r="1.45"/><circle cx="679.7" cy="625.4" r="1.45"/><circle cx="675.6" cy="620.2" r="1.45"/><circle cx="657.8" cy="626.3" r="1.45"/><circle cx="660.8" cy="626.2" r="1.45"/><circle cx="682.4" cy="618.3" r="1.45"/><circle cx="662.3" cy="616.1" r="1.45"/><circle cx="673.3" cy="627.8" r="1.45"/><circle cx="692.8" cy="610.7" r="1.45"/><circle cx="675.7" cy="619.9" r="1.45"/><circle cx="658.0" cy="620.2" r="1.45"/><circle cx="681.8" cy="606.6" r="1.45"/><circle cx="673.1" cy="621.2" r="1.45"/><circle cx="663.0" cy="619.7" r="1.45"/><circle cx="677.1" cy="614.0" r="1.45"/><circle cx="667.1" cy="629.8" r="1.45"/><circle cx="669.3" cy="614.3" r="1.45"/><circle cx="665.3" cy="623.2" r="1.45"/><circle cx="647.4" cy="621.0" r="1.45"/><circle cx="669.3" cy="618.1" r="1.45"/><circle cx="649.8" cy="625.3" r="1.45"/><circle cx="667.2" cy="624.1" r="1.45"/><circle cx="677.5" cy="617.4" r="1.45"/><circle cx="665.2" cy="620.9" r="1.45"/><circle cx="663.2" cy="624.3" r="1.45"/><circle cx="659.7" cy="636.3" r="1.45"/><circle cx="659.8" cy="627.7" r="1.45"/><circle cx="664.0" cy="626.2" r="1.45"/><circle cx="678.1" cy="617.4" r="1.45"/><circle cx="655.4" cy="629.1" r="1.45"/><circle cx="654.1" cy="621.3" r="1.45"/><circle cx="657.1" cy="623.6" r="1.45"/><circle cx="652.7" cy="630.4" r="1.45"/><circle cx="657.5" cy="622.0" r="1.45"/><circle cx="659.3" cy="624.3" r="1.45"/><circle cx="669.6" cy="630.8" r="1.45"/><circle cx="639.5" cy="633.7" r="1.45"/><circle cx="657.8" cy="618.1" r="1.45"/><circle cx="676.0" cy="613.7" r="1.45"/><circle cx="669.2" cy="614.7" r="1.45"/><circle cx="659.6" cy="623.5" r="1.45"/><circle cx="678.7" cy="615.3" r="1.45"/><circle cx="668.7" cy="617.7" r="1.45"/><circle cx="667.1" cy="619.4" r="1.45"/><circle cx="668.7" cy="619.4" r="1.45"/><circle cx="662.5" cy="615.4" r="1.45"/><circle cx="663.3" cy="622.2" r="1.45"/><circle cx="638.6" cy="634.7" r="1.45"/><circle cx="662.8" cy="623.2" r="1.45"/><circle cx="668.0" cy="623.5" r="1.45"/><circle cx="659.6" cy="614.6" r="1.45"/><circle cx="662.3" cy="625.2" r="1.45"/><circle cx="661.3" cy="630.9" r="1.45"/><circle cx="661.9" cy="626.5" r="1.45"/><circle cx="658.5" cy="624.7" r="1.45"/><circle cx="666.8" cy="622.8" r="1.45"/><circle cx="661.2" cy="627.1" r="1.45"/><circle cx="659.1" cy="616.5" r="1.45"/><circle cx="661.2" cy="621.8" r="1.45"/><circle cx="660.7" cy="628.7" r="1.45"/><circle cx="668.0" cy="627.1" r="1.45"/><circle cx="672.9" cy="626.3" r="1.45"/><circle cx="680.6" cy="616.4" r="1.45"/><circle cx="671.4" cy="627.5" r="1.45"/><circle cx="660.7" cy="622.9" r="1.45"/><circle cx="658.1" cy="622.7" r="1.45"/><circle cx="666.1" cy="619.4" r="1.45"/><circle cx="655.0" cy="630.6" r="1.45"/><circle cx="675.8" cy="616.2" r="1.45"/><circle cx="662.5" cy="618.7" r="1.45"/><circle cx="680.8" cy="613.8" r="1.45"/><circle cx="663.9" cy="630.4" r="1.45"/><circle cx="669.8" cy="621.4" r="1.45"/><circle cx="661.8" cy="624.1" r="1.45"/><circle cx="673.6" cy="612.8" r="1.45"/><circle cx="669.0" cy="616.8" r="1.45"/><circle cx="663.5" cy="626.9" r="1.45"/><circle cx="678.8" cy="625.1" r="1.45"/><circle cx="673.0" cy="620.3" r="1.45"/><circle cx="683.9" cy="616.1" r="1.45"/><circle cx="682.0" cy="612.8" r="1.45"/><circle cx="676.7" cy="617.0" r="1.45"/><circle cx="674.6" cy="622.7" r="1.45"/><circle cx="674.9" cy="617.4" r="1.45"/><circle cx="666.9" cy="615.9" r="1.45"/><circle cx="657.7" cy="617.9" r="1.45"/><circle cx="651.0" cy="623.9" r="1.45"/><circle cx="668.4" cy="624.1" r="1.45"/><circle cx="662.2" cy="621.3" r="1.45"/><circle cx="669.5" cy="624.6" r="1.45"/><circle cx="646.7" cy="623.6" r="1.45"/><circle cx="668.2" cy="618.4" r="1.45"/><circle cx="647.6" cy="632.7" r="1.45"/><circle cx="669.3" cy="625.8" r="1.45"/><circle cx="667.2" cy="622.0" r="1.45"/><circle cx="672.2" cy="621.0" r="1.45"/><circle cx="666.8" cy="623.5" r="1.45"/><circle cx="662.9" cy="633.4" r="1.45"/><circle cx="667.2" cy="625.9" r="1.45"/><circle cx="677.7" cy="618.5" r="1.45"/><circle cx="687.6" cy="622.1" r="1.45"/><circle cx="672.3" cy="612.2" r="1.45"/><circle cx="685.3" cy="626.1" r="1.45"/><circle cx="669.9" cy="622.0" r="1.45"/><circle cx="682.2" cy="619.9" r="1.45"/><circle cx="669.6" cy="624.3" r="1.45"/><circle cx="681.7" cy="623.5" r="1.45"/><circle cx="683.7" cy="612.4" r="1.45"/><circle cx="685.6" cy="611.5" r="1.45"/><circle cx="664.6" cy="623.9" r="1.45"/><circle cx="684.7" cy="617.1" r="1.45"/><circle cx="674.4" cy="623.4" r="1.45"/><circle cx="657.0" cy="621.9" r="1.45"/><circle cx="666.7" cy="626.0" r="1.45"/><circle cx="654.0" cy="624.8" r="1.45"/><circle cx="666.3" cy="627.8" r="1.45"/><circle cx="659.1" cy="630.6" r="1.45"/><circle cx="661.0" cy="620.9" r="1.45"/><circle cx="680.5" cy="615.9" r="1.45"/><circle cx="675.1" cy="621.7" r="1.45"/><circle cx="681.4" cy="620.1" r="1.45"/><circle cx="663.7" cy="629.4" r="1.45"/><circle cx="678.8" cy="621.1" r="1.45"/><circle cx="679.5" cy="615.1" r="1.45"/><circle cx="665.3" cy="623.4" r="1.45"/><circle cx="659.8" cy="628.9" r="1.45"/><circle cx="658.2" cy="633.7" r="1.45"/><circle cx="680.2" cy="628.9" r="1.45"/><circle cx="672.6" cy="621.8" r="1.45"/><circle cx="660.3" cy="619.0" r="1.45"/><circle cx="679.6" cy="615.4" r="1.45"/><circle cx="648.9" cy="633.1" r="1.45"/><circle cx="680.7" cy="621.5" r="1.45"/><circle cx="664.9" cy="630.8" r="1.45"/><circle cx="661.5" cy="616.3" r="1.45"/><circle cx="681.6" cy="620.1" r="1.45"/><circle cx="666.6" cy="620.6" r="1.45"/><circle cx="674.2" cy="612.3" r="1.45"/><circle cx="672.0" cy="609.8" r="1.45"/><circle cx="661.8" cy="620.3" r="1.45"/><circle cx="675.1" cy="616.4" r="1.45"/><circle cx="669.4" cy="620.6" r="1.45"/><circle cx="657.6" cy="621.0" r="1.45"/><circle cx="663.7" cy="623.5" r="1.45"/><circle cx="670.6" cy="620.2" r="1.45"/><circle cx="664.9" cy="617.3" r="1.45"/><circle cx="673.2" cy="618.7" r="1.45"/><circle cx="664.4" cy="619.5" r="1.45"/><circle cx="676.0" cy="622.3" r="1.45"/><circle cx="662.3" cy="626.0" r="1.45"/><circle cx="656.9" cy="627.1" r="1.45"/><circle cx="670.3" cy="626.0" r="1.45"/><circle cx="666.9" cy="616.8" r="1.45"/><circle cx="671.2" cy="614.8" r="1.45"/><circle cx="668.9" cy="618.7" r="1.45"/><circle cx="661.6" cy="620.7" r="1.45"/><circle cx="674.7" cy="619.3" r="1.45"/><circle cx="670.3" cy="625.5" r="1.45"/><circle cx="659.6" cy="623.2" r="1.45"/><circle cx="670.2" cy="616.5" r="1.45"/><circle cx="688.4" cy="613.1" r="1.45"/><circle cx="674.1" cy="624.2" r="1.45"/><circle cx="652.2" cy="627.6" r="1.45"/><circle cx="665.2" cy="619.3" r="1.45"/><circle cx="660.5" cy="628.0" r="1.45"/><circle cx="661.5" cy="622.3" r="1.45"/><circle cx="674.2" cy="616.2" r="1.45"/><circle cx="677.5" cy="605.6" r="1.45"/><circle cx="673.2" cy="620.5" r="1.45"/><circle cx="662.8" cy="612.6" r="1.45"/><circle cx="665.0" cy="612.5" r="1.45"/><circle cx="666.3" cy="618.5" r="1.45"/><circle cx="653.7" cy="630.5" r="1.45"/><circle cx="668.5" cy="621.7" r="1.45"/><circle cx="662.0" cy="625.8" r="1.45"/><circle cx="636.6" cy="620.4" r="1.45"/><circle cx="672.8" cy="619.3" r="1.45"/><circle cx="650.9" cy="623.4" r="1.45"/><circle cx="676.1" cy="617.7" r="1.45"/><circle cx="665.9" cy="625.5" r="1.45"/><circle cx="681.6" cy="625.5" r="1.45"/><circle cx="666.2" cy="617.2" r="1.45"/><circle cx="658.1" cy="622.2" r="1.45"/><circle cx="660.3" cy="623.3" r="1.45"/><circle cx="667.2" cy="608.6" r="1.45"/><circle cx="665.3" cy="615.9" r="1.45"/><circle cx="682.5" cy="622.9" r="1.45"/><circle cx="674.0" cy="615.6" r="1.45"/><circle cx="668.4" cy="627.4" r="1.45"/><circle cx="664.1" cy="622.5" r="1.45"/><circle cx="655.4" cy="630.0" r="1.45"/><circle cx="671.2" cy="621.7" r="1.45"/><circle cx="662.4" cy="626.2" r="1.45"/><circle cx="660.0" cy="612.9" r="1.45"/><circle cx="679.9" cy="618.3" r="1.45"/><circle cx="658.0" cy="628.0" r="1.45"/><circle cx="652.1" cy="634.5" r="1.45"/><circle cx="670.3" cy="622.7" r="1.45"/><circle cx="676.8" cy="615.6" r="1.45"/><circle cx="661.8" cy="633.2" r="1.45"/><circle cx="665.5" cy="621.6" r="1.45"/><circle cx="662.4" cy="616.8" r="1.45"/><circle cx="670.2" cy="622.9" r="1.45"/><circle cx="659.5" cy="615.9" r="1.45"/><circle cx="660.7" cy="628.5" r="1.45"/><circle cx="670.2" cy="617.8" r="1.45"/><circle cx="683.0" cy="618.5" r="1.45"/><circle cx="674.2" cy="620.4" r="1.45"/><circle cx="661.4" cy="616.4" r="1.45"/><circle cx="667.0" cy="627.9" r="1.45"/><circle cx="689.7" cy="619.3" r="1.45"/><circle cx="643.7" cy="630.7" r="1.45"/><circle cx="677.0" cy="618.8" r="1.45"/><circle cx="671.6" cy="619.5" r="1.45"/><circle cx="664.2" cy="625.3" r="1.45"/><circle cx="642.5" cy="627.1" r="1.45"/><circle cx="679.8" cy="619.5" r="1.45"/><circle cx="674.3" cy="627.2" r="1.45"/><circle cx="661.2" cy="627.5" r="1.45"/><circle cx="660.1" cy="626.0" r="1.45"/><circle cx="650.1" cy="628.8" r="1.45"/><circle cx="667.9" cy="624.3" r="1.45"/><circle cx="690.5" cy="615.6" r="1.45"/><circle cx="669.2" cy="617.0" r="1.45"/><circle cx="668.4" cy="622.5" r="1.45"/><circle cx="662.9" cy="631.4" r="1.45"/><circle cx="677.2" cy="619.8" r="1.45"/><circle cx="669.2" cy="620.9" r="1.45"/><circle cx="658.6" cy="625.6" r="1.45"/><circle cx="673.0" cy="617.7" r="1.45"/><circle cx="686.7" cy="614.5" r="1.45"/><circle cx="668.1" cy="624.7" r="1.45"/><circle cx="663.2" cy="615.6" r="1.45"/><circle cx="671.9" cy="617.4" r="1.45"/><circle cx="660.9" cy="628.8" r="1.45"/><circle cx="663.1" cy="629.5" r="1.45"/><circle cx="664.7" cy="629.3" r="1.45"/><circle cx="656.7" cy="623.9" r="1.45"/><circle cx="684.0" cy="611.6" r="1.45"/><circle cx="656.7" cy="618.9" r="1.45"/><circle cx="680.4" cy="616.5" r="1.45"/><circle cx="641.8" cy="602.2" r="1.45"/><circle cx="627.6" cy="620.5" r="1.45"/><circle cx="640.2" cy="631.6" r="1.45"/><circle cx="649.6" cy="607.3" r="1.45"/></g>
<circle cx="613.13" cy="717.11" r="3.2" fill="#FF9A00" stroke="#FF2A00" stroke-width="1"/>
</g>
<rect x="513.26" y="591.64" width="195.65" height="175.1" fill="none" stroke="#000" stroke-width="1"/>
<path d="M528.5 766.74v5.9M559.96 766.74v5.9M591.42 766.74v5.9M622.88 766.74v5.9M654.34 766.74v5.9M685.8 766.74v5.9" stroke="#000" stroke-width="1" fill="none" stroke-linecap="round"/>
<text x="528.5" y="787.24" font-size="9.24" text-anchor="middle">-0.6</text>
<text x="559.96" y="787.24" font-size="9.24" text-anchor="middle">-0.4</text>
<text x="591.42" y="787.24" font-size="9.24" text-anchor="middle">-0.2</text>
<text x="622.88" y="787.24" font-size="9.24" text-anchor="middle">0.0</text>
<text x="654.34" y="787.24" font-size="9.24" text-anchor="middle">0.2</text>
<text x="685.8" y="787.24" font-size="9.24" text-anchor="middle">0.4</text>
<path d="M513.26 598.2h-5.9M513.26 648.8h-5.9M513.26 699.4h-5.9M513.26 750h-5.9" stroke="#000" stroke-width="1" fill="none" stroke-linecap="round"/>
<text x="500.06" y="598.8" font-size="9.24" text-anchor="middle" transform="rotate(-90 500.06 598.8)">0.0</text>
<text x="500.06" y="649.4" font-size="9.24" text-anchor="middle" transform="rotate(-90 500.06 649.4)">-0.5</text>
<text x="500.06" y="700" font-size="9.24" text-anchor="middle" transform="rotate(-90 500.06 700)">-1.0</text>
<text x="500.06" y="750.6" font-size="9.24" text-anchor="middle" transform="rotate(-90 500.06 750.6)">-1.5</text>
<text x="611.09" y="584.44" font-size="8.75" text-anchor="middle" font-weight="bold">Color - Log(Period)</text>
<text x="611.09" y="798.24" font-size="9.24" text-anchor="middle">g-i</text>
<text x="488.06" y="679.19" font-size="9.24" text-anchor="middle" transform="rotate(-90 488.06 679.19)">Log10(Period)</text>
<clipPath id="c12"><rect x="753.26" y="591.64" width="195.65" height="175.1"/></clipPath>
<g clip-path="url(#c12)">
<path d="M770.5 681.2h0M769.9 722.2h0M768.2 692.9h0M770.4 707.5h0M769.7 735.9h0M769.5 705.7h0M767.4 723.3h0M769.5 709.2h0M770 727h0M769.2 699.1h0M771.7 712.8h0M773.9 693.8h0M771 732.9h0M771.9 715h0M774.1 690.9h0M771.3 687.5h0M773.5 691.7h0M768.7 694.8h0M770.2 725.9h0M773 703h0M771.8 699h0M770.5 706.5h0M772.3 697.8h0M771.2 720.1h0M771.5 696.1h0M769.7 716.7h0M770.9 728h0M771.1 740.4h0M769.5 690h0M766.3 734.9h0M770.3 731.6h0M775.3 742.2h0M765.1 671.8h0M768.6 674.8h0M770 727.2h0M771 747.1h0M772.7 726.7h0M772.5 724.2h0M773.1 721.1h0M773.2 704.3h0M769.1 731.8h0M770.3 714.2h0M769.5 704.1h0M771.3 704.7h0M769.7 704.9h0M768.6 723.2h0M774.3 715.3h0M770.2 698h0M769.2 737.4h0M772.1 693.4h0M768 720.4h0M769.5 693.5h0M769.1 746.8h0M766.5 703.2h0M765.2 722.7h0M770.3 690.8h0M769.1 714h0M769.1 731.7h0M772 695.3h0M768.7 728.2h0M773.8 734.7h0M767.1 731.7h0M764.9 729.4h0M770 727.7h0M771.2 726h0M773.8 694.9h0M769.5 693.2h0M769.7 688.3h0M770.1 674.6h0M775.3 701.4h0M766.9 714.3h0M771.1 736.8h0M770.4 720.9h0M768.5 711.7h0M769.7 686.1h0M770.7 724.3h0M768.8 680.4h0M770.5 681.1h0M771.8 716.6h0M771.9 718.6h0M769.5 711.4h0M769.9 727h0M770.5 733.1h0M772.1 722.6h0M770.8 702.2h0M772.9 749.5h0M771.5 698.1h0M767.3 680h0M772.5 687.6h0M769.2 679.5h0M771.5 740.6h0M770.4 732.6h0M772.3 680.7h0M770.5 704.1h0M770.7 686.8h0M767.2 707.5h0M773.2 699.5h0M770.5 731.1h0M769.7 722h0M773 693.4h0M771.6 708.1h0M770.9 712.3h0M771.4 695.2h0M770.6 727.4h0M768.3 744.2h0M767.9 728.2h0M772.3 717.1h0M772.6 682h0M771.5 730.3h0M771.1 697.5h0M772.4 700.8h0M772.8 695.4h0M771.3 683h0M772.4 711.7h0M772.2 691h0M769.4 730.8h0M772.1 690.5h0M768.4 704.5h0M766 732.9h0M771.8 749.5h0M769.7 714h0M774.3 715.1h0M768 668.4h0M772.3 667.7h0M770 731.2h0M771 692.1h0M768.3 714h0M775.2 714.6h0M769.9 737h0M774.5 717h0M770.3 704.4h0M768 723.7h0M768.8 698.6h0M773.1 709.2h0M769.3 677.4h0M770.6 696.1h0M773.2 702.4h0M772.6 708.5h0M768.4 718.9h0M769.9 692.9h0M807.7 685.6h0M824.4 694.6h0M814.4 721.8h0M817 728.4h0M840.4 728.8h0M824.2 697h0M824.6 694.9h0M809.9 708.3h0M815.2 742.3h0M817.4 733.4h0M805.6 705.7h0M802.8 712.2h0M817.9 710.4h0M831.2 714.9h0M800 719.7h0M816.6 706.8h0M806.1 714.5h0M820.9 739.3h0M819.2 720.5h0M798.8 706.8h0M799.7 717.8h0M820.6 700.6h0M816.9 684h0M819.1 733.6h0M822.4 659.5h0M823 719.3h0M843.4 714.1h0M819.9 702h0M815.5 734.2h0M811 710h0M823.9 676.7h0M822 696.1h0M824.9 674.8h0M821.4 660h0M824 674h0M818.1 689.2h0M825.9 681.2h0M827.2 673.3h0M830.4 702.8h0M821.2 670.4h0M826.1 676.9h0M822.9 684.1h0M827.2 669.7h0M818.3 670.6h0M821.6 678.7h0M823.6 682.4h0M829.6 688.6h0M817.7 672.4h0M826.5 653.1h0M823.7 669.8h0M825.2 667.1h0M821.9 699.7h0M818.4 704.1h0M828.5 668.4h0M820 688.6h0M873.5 604.1h0M903.2 680.2h0M910.6 655h0M866.7 676.4h0M868.6 600.5h0M876.6 635h0M896.2 618.6h0M843.2 711.3h0M873 606.2h0M900.1 692.2h0M852.7 638.6h0M896.7 689.2h0M867.2 643.5h0M845.1 723.2h0M894.4 677.2h0M904 604.3h0M912.7 709.3h0M853 679.9h0M884.8 606.8h0M861.7 726.7h0M905.9 619h0M848.6 619h0M855.1 626.4h0M847.6 613.3h0M863.4 678.5h0M784.9 612.1h0M925.2 633.2h0M941.5 636.4h0M782.2 754.9h0M776.8 749.5h0" fill="none" stroke="#BEBEBE" stroke-width="3.5" stroke-linecap="round"/>
<path d="M823.4 692.6h0M810.8 697.6h0M816 703.3h0M817.1 705.4h0M821 698.7h0M818.9 694.3h0M824.8 686.8h0M818.4 686.5h0M827 700.5h0M824.5 700.9h0M812.3 697.4h0M821.2 715.8h0M817.8 689h0M825.6 706h0M831 697.3h0M813.5 706.8h0M820.2 697.6h0M835.5 696.2h0M814.8 703.4h0M825.4 694.1h0M810.2 698.8h0M820.8 692.2h0M819.6 703.5h0M814.2 698.9h0M814.7 696.2h0M827.1 702.5h0M821.2 712.2h0M830.4 693.7h0M817.1 698h0M819.5 694.1h0M830.5 705.2h0M833.6 692.2h0M827 692.4h0M824.7 697.5h0M825.9 690.5h0M821.7 713.9h0M835.4 704.8h0M828.3 705.9h0M817.7 707.8h0M830.2 702h0M820.1 697.2h0M822.4 686.6h0M824.7 696.8h0M816.4 693.2h0M825.5 699.6h0M835.1 685h0M816.4 703.5h0M812.4 705.3h0M820.2 696.1h0M819.3 684.4h0M829.1 700.1h0M815.5 699.2h0M833.6 687h0M815.4 705.7h0M824.6 704.2h0M834.7 710.1h0M830.6 715.2h0M828 706.3h0M821.9 710.5h0M823.8 706.1h0M817.5 687.6h0M832.5 704.4h0M819.3 703h0M819.9 689h0M821.3 697.6h0M821 686.7h0M818.4 691.8h0M821.3 698.2h0M820.1 683.6h0M825.8 692.6h0M826.3 702.3h0M821 706h0M820.6 681.1h0M807 701.6h0M822.1 692.5h0M817.5 694.1h0M816 691.6h0M827.9 686.7h0M817.8 715.9h0M821.7 700.8h0M831.4 698.2h0M826.8 686.9h0M821.9 701.3h0M819.5 702.6h0M821.8 692.6h0M805.1 701.6h0M826.6 692.4h0M821.9 686.6h0M830.1 687h0M827 703.6h0M825.6 711.8h0M837 693.9h0M824.4 698.8h0M824.3 685h0M824.6 709h0M837.3 693h0M824.3 702.4h0M806.5 695.8h0M821.9 691.1h0M821.7 695.1h0M816.6 632.6h0M812.1 668.9h0M821.1 736h0" fill="none" stroke="#595959" stroke-width="3.5" stroke-linecap="round"/>
<g fill="none" stroke="#000" stroke-width="1"><circle cx="876.0" cy="654.3" r="1.45"/><circle cx="851.0" cy="620.1" r="1.45"/><circle cx="865.6" cy="650.7" r="1.45"/><circle cx="870.9" cy="663.8" r="1.45"/><circle cx="862.5" cy="630.6" r="1.45"/><circle cx="857.9" cy="613.0" r="1.45"/><circle cx="868.2" cy="711.4" r="1.45"/><circle cx="848.7" cy="601.2" r="1.45"/><circle cx="860.1" cy="612.4" r="1.45"/><circle cx="861.4" cy="632.6" r="1.45"/><circle cx="871.5" cy="672.5" r="1.45"/><circle cx="859.0" cy="677.8" r="1.45"/><circle cx="864.7" cy="616.9" r="1.45"/><circle cx="857.2" cy="615.4" r="1.45"/><circle cx="856.5" cy="662.0" r="1.45"/><circle cx="855.5" cy="650.4" r="1.45"/><circle cx="847.4" cy="605.0" r="1.45"/><circle cx="872.4" cy="624.7" r="1.45"/><circle cx="844.8" cy="591.6" r="1.45"/><circle cx="867.3" cy="693.0" r="1.45"/><circle cx="853.6" cy="621.8" r="1.45"/><circle cx="855.8" cy="633.6" r="1.45"/><circle cx="857.0" cy="599.3" r="1.45"/><circle cx="871.9" cy="662.8" r="1.45"/><circle cx="858.1" cy="655.9" r="1.45"/><circle cx="872.1" cy="653.5" r="1.45"/><circle cx="827.0" cy="590.3" r="1.45"/><circle cx="858.0" cy="610.4" r="1.45"/><circle cx="856.6" cy="638.0" r="1.45"/><circle cx="843.8" cy="626.4" r="1.45"/><circle cx="836.3" cy="605.4" r="1.45"/><circle cx="866.4" cy="658.2" r="1.45"/><circle cx="851.8" cy="624.8" r="1.45"/><circle cx="854.7" cy="598.2" r="1.45"/><circle cx="851.4" cy="600.2" r="1.45"/><circle cx="854.4" cy="592.0" r="1.45"/><circle cx="863.1" cy="645.8" r="1.45"/><circle cx="846.3" cy="613.1" r="1.45"/><circle cx="845.3" cy="589.8" r="1.45"/><circle cx="890.8" cy="672.1" r="1.45"/><circle cx="861.9" cy="677.2" r="1.45"/><circle cx="870.9" cy="646.8" r="1.45"/><circle cx="855.2" cy="637.0" r="1.45"/><circle cx="872.9" cy="670.4" r="1.45"/><circle cx="861.9" cy="641.1" r="1.45"/><circle cx="855.0" cy="631.6" r="1.45"/><circle cx="866.0" cy="615.3" r="1.45"/><circle cx="878.1" cy="718.5" r="1.45"/><circle cx="845.6" cy="647.8" r="1.45"/><circle cx="867.2" cy="638.4" r="1.45"/><circle cx="863.4" cy="639.9" r="1.45"/><circle cx="869.3" cy="642.3" r="1.45"/><circle cx="843.1" cy="591.0" r="1.45"/><circle cx="848.7" cy="621.8" r="1.45"/><circle cx="842.1" cy="623.3" r="1.45"/><circle cx="870.5" cy="648.8" r="1.45"/><circle cx="886.1" cy="703.6" r="1.45"/><circle cx="857.7" cy="615.2" r="1.45"/><circle cx="888.8" cy="691.9" r="1.45"/><circle cx="856.9" cy="627.6" r="1.45"/><circle cx="868.1" cy="680.9" r="1.45"/><circle cx="858.0" cy="628.0" r="1.45"/><circle cx="871.4" cy="622.7" r="1.45"/><circle cx="880.4" cy="704.7" r="1.45"/><circle cx="849.6" cy="614.2" r="1.45"/><circle cx="867.8" cy="645.9" r="1.45"/><circle cx="854.0" cy="634.0" r="1.45"/><circle cx="859.9" cy="611.5" r="1.45"/><circle cx="857.2" cy="673.4" r="1.45"/><circle cx="864.9" cy="653.0" r="1.45"/><circle cx="868.4" cy="672.9" r="1.45"/><circle cx="848.5" cy="631.6" r="1.45"/><circle cx="856.6" cy="651.2" r="1.45"/><circle cx="856.3" cy="607.5" r="1.45"/><circle cx="839.6" cy="638.7" r="1.45"/><circle cx="878.0" cy="695.4" r="1.45"/><circle cx="871.9" cy="640.2" r="1.45"/><circle cx="884.9" cy="678.4" r="1.45"/><circle cx="853.1" cy="602.4" r="1.45"/><circle cx="863.0" cy="626.9" r="1.45"/><circle cx="877.5" cy="632.5" r="1.45"/><circle cx="855.7" cy="604.9" r="1.45"/><circle cx="859.7" cy="620.7" r="1.45"/><circle cx="851.6" cy="619.1" r="1.45"/><circle cx="872.4" cy="701.5" r="1.45"/><circle cx="858.4" cy="623.6" r="1.45"/><circle cx="882.2" cy="701.0" r="1.45"/><circle cx="853.2" cy="596.4" r="1.45"/><circle cx="880.5" cy="697.0" r="1.45"/><circle cx="856.2" cy="655.3" r="1.45"/><circle cx="852.7" cy="604.2" r="1.45"/><circle cx="864.2" cy="636.2" r="1.45"/><circle cx="866.7" cy="682.2" r="1.45"/><circle cx="852.7" cy="616.3" r="1.45"/><circle cx="856.0" cy="614.5" r="1.45"/><circle cx="843.2" cy="610.1" r="1.45"/><circle cx="870.0" cy="689.5" r="1.45"/><circle cx="889.2" cy="681.0" r="1.45"/><circle cx="866.1" cy="675.4" r="1.45"/><circle cx="857.8" cy="648.7" r="1.45"/><circle cx="855.9" cy="634.7" r="1.45"/><circle cx="859.2" cy="620.5" r="1.45"/><circle cx="867.3" cy="645.9" r="1.45"/><circle cx="875.6" cy="668.3" r="1.45"/><circle cx="856.3" cy="624.8" r="1.45"/><circle cx="877.3" cy="678.8" r="1.45"/><circle cx="855.6" cy="644.4" r="1.45"/><circle cx="861.6" cy="613.0" r="1.45"/><circle cx="873.4" cy="638.3" r="1.45"/><circle cx="873.5" cy="698.3" r="1.45"/><circle cx="860.7" cy="613.4" r="1.45"/><circle cx="879.3" cy="659.8" r="1.45"/><circle cx="887.2" cy="716.1" r="1.45"/><circle cx="862.2" cy="633.8" r="1.45"/><circle cx="875.3" cy="680.2" r="1.45"/><circle cx="849.2" cy="621.7" r="1.45"/><circle cx="867.6" cy="610.3" r="1.45"/><circle cx="854.4" cy="645.5" r="1.45"/><circle cx="877.3" cy="641.4" r="1.45"/><circle cx="853.2" cy="626.4" r="1.45"/><circle cx="862.2" cy="620.8" r="1.45"/><circle cx="861.0" cy="599.3" r="1.45"/><circle cx="870.0" cy="633.7" r="1.45"/><circle cx="856.9" cy="599.4" r="1.45"/><circle cx="862.3" cy="641.5" r="1.45"/><circle cx="872.6" cy="645.9" r="1.45"/><circle cx="867.9" cy="673.1" r="1.45"/><circle cx="877.9" cy="640.7" r="1.45"/><circle cx="863.7" cy="655.7" r="1.45"/><circle cx="866.6" cy="673.4" r="1.45"/><circle cx="872.4" cy="648.8" r="1.45"/><circle cx="886.3" cy="671.5" r="1.45"/><circle cx="860.0" cy="638.9" r="1.45"/><circle cx="854.6" cy="652.6" r="1.45"/><circle cx="865.8" cy="619.1" r="1.45"/><circle cx="865.2" cy="658.7" r="1.45"/><circle cx="860.4" cy="676.6" r="1.45"/><circle cx="857.3" cy="642.3" r="1.45"/><circle cx="855.8" cy="600.8" r="1.45"/><circle cx="863.0" cy="613.2" r="1.45"/><circle cx="837.1" cy="590.3" r="1.45"/><circle cx="847.4" cy="588.5" r="1.45"/><circle cx="872.1" cy="656.4" r="1.45"/><circle cx="857.7" cy="657.3" r="1.45"/><circle cx="881.0" cy="675.5" r="1.45"/><circle cx="873.6" cy="691.7" r="1.45"/><circle cx="879.6" cy="678.0" r="1.45"/><circle cx="878.3" cy="655.1" r="1.45"/><circle cx="894.2" cy="695.6" r="1.45"/><circle cx="857.3" cy="602.5" r="1.45"/><circle cx="866.0" cy="671.2" r="1.45"/><circle cx="855.3" cy="627.8" r="1.45"/><circle cx="889.7" cy="706.8" r="1.45"/><circle cx="851.0" cy="599.9" r="1.45"/><circle cx="844.9" cy="611.0" r="1.45"/><circle cx="876.1" cy="638.9" r="1.45"/><circle cx="867.1" cy="680.6" r="1.45"/><circle cx="881.0" cy="652.5" r="1.45"/><circle cx="863.3" cy="649.9" r="1.45"/><circle cx="859.5" cy="666.2" r="1.45"/><circle cx="859.1" cy="658.3" r="1.45"/><circle cx="855.9" cy="619.0" r="1.45"/><circle cx="854.9" cy="657.6" r="1.45"/><circle cx="844.7" cy="594.7" r="1.45"/><circle cx="850.9" cy="597.0" r="1.45"/><circle cx="847.9" cy="601.7" r="1.45"/><circle cx="859.4" cy="613.6" r="1.45"/><circle cx="863.0" cy="638.1" r="1.45"/><circle cx="863.1" cy="609.6" r="1.45"/><circle cx="866.8" cy="687.9" r="1.45"/><circle cx="876.0" cy="684.3" r="1.45"/><circle cx="872.9" cy="641.8" r="1.45"/><circle cx="862.6" cy="612.2" r="1.45"/><circle cx="850.2" cy="603.6" r="1.45"/><circle cx="867.2" cy="658.3" r="1.45"/><circle cx="846.5" cy="601.2" r="1.45"/><circle cx="854.6" cy="599.9" r="1.45"/><circle cx="873.0" cy="683.1" r="1.45"/><circle cx="846.8" cy="600.4" r="1.45"/><circle cx="859.1" cy="617.7" r="1.45"/><circle cx="860.0" cy="608.6" r="1.45"/><circle cx="841.3" cy="618.6" r="1.45"/><circle cx="854.8" cy="620.1" r="1.45"/><circle cx="879.3" cy="599.6" r="1.45"/><circle cx="851.5" cy="592.8" r="1.45"/><circle cx="862.2" cy="667.7" r="1.45"/><circle cx="859.6" cy="606.7" r="1.45"/><circle cx="856.4" cy="665.1" r="1.45"/><circle cx="846.6" cy="587.3" r="1.45"/><circle cx="857.9" cy="604.8" r="1.45"/><circle cx="879.3" cy="643.1" r="1.45"/><circle cx="879.1" cy="625.7" r="1.45"/><circle cx="878.3" cy="649.0" r="1.45"/><circle cx="846.7" cy="608.4" r="1.45"/><circle cx="839.3" cy="592.2" r="1.45"/><circle cx="869.0" cy="653.8" r="1.45"/><circle cx="848.0" cy="630.9" r="1.45"/><circle cx="846.7" cy="607.3" r="1.45"/><circle cx="870.3" cy="669.9" r="1.45"/><circle cx="875.1" cy="703.5" r="1.45"/><circle cx="860.0" cy="601.0" r="1.45"/><circle cx="853.4" cy="680.2" r="1.45"/><circle cx="859.4" cy="652.3" r="1.45"/><circle cx="859.4" cy="591.6" r="1.45"/><circle cx="847.3" cy="614.5" r="1.45"/><circle cx="873.8" cy="679.0" r="1.45"/><circle cx="846.4" cy="614.2" r="1.45"/><circle cx="857.1" cy="592.6" r="1.45"/><circle cx="864.7" cy="636.3" r="1.45"/><circle cx="860.9" cy="608.3" r="1.45"/><circle cx="855.4" cy="624.9" r="1.45"/><circle cx="854.7" cy="602.1" r="1.45"/><circle cx="851.2" cy="644.1" r="1.45"/><circle cx="854.5" cy="622.8" r="1.45"/><circle cx="882.0" cy="682.8" r="1.45"/><circle cx="863.2" cy="608.3" r="1.45"/><circle cx="872.7" cy="631.7" r="1.45"/><circle cx="874.4" cy="624.2" r="1.45"/><circle cx="866.3" cy="659.6" r="1.45"/><circle cx="860.9" cy="643.8" r="1.45"/><circle cx="845.4" cy="621.8" r="1.45"/><circle cx="848.6" cy="588.8" r="1.45"/><circle cx="857.8" cy="599.1" r="1.45"/><circle cx="838.6" cy="589.1" r="1.45"/><circle cx="862.7" cy="640.8" r="1.45"/><circle cx="857.4" cy="679.3" r="1.45"/><circle cx="866.5" cy="630.2" r="1.45"/><circle cx="860.8" cy="630.3" r="1.45"/><circle cx="853.3" cy="641.0" r="1.45"/><circle cx="865.1" cy="590.0" r="1.45"/><circle cx="859.0" cy="615.8" r="1.45"/><circle cx="852.8" cy="602.4" r="1.45"/><circle cx="862.3" cy="603.6" r="1.45"/><circle cx="856.3" cy="627.5" r="1.45"/><circle cx="876.8" cy="672.1" r="1.45"/><circle cx="865.1" cy="617.0" r="1.45"/><circle cx="872.0" cy="668.5" r="1.45"/><circle cx="872.6" cy="663.7" r="1.45"/><circle cx="873.5" cy="679.3" r="1.45"/><circle cx="857.1" cy="598.8" r="1.45"/><circle cx="855.2" cy="608.2" r="1.45"/><circle cx="854.6" cy="605.9" r="1.45"/><circle cx="864.1" cy="704.2" r="1.45"/><circle cx="866.4" cy="662.9" r="1.45"/><circle cx="862.4" cy="653.2" r="1.45"/><circle cx="869.9" cy="720.8" r="1.45"/><circle cx="884.6" cy="729.1" r="1.45"/><circle cx="856.9" cy="593.4" r="1.45"/><circle cx="862.8" cy="642.9" r="1.45"/><circle cx="852.9" cy="609.5" r="1.45"/><circle cx="886.9" cy="699.1" r="1.45"/><circle cx="883.4" cy="697.4" r="1.45"/><circle cx="846.9" cy="592.1" r="1.45"/><circle cx="849.2" cy="624.8" r="1.45"/><circle cx="876.3" cy="661.0" r="1.45"/><circle cx="835.9" cy="590.6" r="1.45"/><circle cx="879.6" cy="703.2" r="1.45"/><circle cx="873.7" cy="640.4" r="1.45"/><circle cx="866.4" cy="663.5" r="1.45"/><circle cx="846.0" cy="620.8" r="1.45"/><circle cx="846.8" cy="623.9" r="1.45"/><circle cx="892.5" cy="711.7" r="1.45"/><circle cx="862.1" cy="594.3" r="1.45"/><circle cx="851.4" cy="630.9" r="1.45"/><circle cx="858.9" cy="591.3" r="1.45"/><circle cx="852.8" cy="597.4" r="1.45"/><circle cx="854.9" cy="641.1" r="1.45"/><circle cx="856.0" cy="612.3" r="1.45"/><circle cx="881.2" cy="710.9" r="1.45"/><circle cx="867.0" cy="689.6" r="1.45"/><circle cx="853.5" cy="628.9" r="1.45"/><circle cx="848.3" cy="607.7" r="1.45"/><circle cx="854.3" cy="605.8" r="1.45"/><circle cx="846.7" cy="628.4" r="1.45"/><circle cx="877.0" cy="684.1" r="1.45"/><circle cx="872.1" cy="672.3" r="1.45"/><circle cx="867.1" cy="645.9" r="1.45"/><circle cx="862.8" cy="649.2" r="1.45"/><circle cx="878.2" cy="687.7" r="1.45"/><circle cx="865.7" cy="620.5" r="1.45"/><circle cx="859.1" cy="680.3" r="1.45"/><circle cx="864.1" cy="641.3" r="1.45"/><circle cx="859.3" cy="612.4" r="1.45"/><circle cx="854.2" cy="634.7" r="1.45"/><circle cx="856.4" cy="701.6" r="1.45"/><circle cx="843.7" cy="590.4" r="1.45"/><circle cx="881.8" cy="692.9" r="1.45"/><circle cx="862.9" cy="635.5" r="1.45"/><circle cx="851.7" cy="664.5" r="1.45"/><circle cx="871.1" cy="665.7" r="1.45"/><circle cx="863.0" cy="645.8" r="1.45"/><circle cx="857.8" cy="631.4" r="1.45"/><circle cx="859.2" cy="615.9" r="1.45"/><circle cx="858.6" cy="655.2" r="1.45"/><circle cx="855.8" cy="649.3" r="1.45"/><circle cx="879.7" cy="623.9" r="1.45"/><circle cx="862.1" cy="644.7" r="1.45"/><circle cx="868.0" cy="620.0" r="1.45"/><circle cx="856.2" cy="661.7" r="1.45"/><circle cx="860.1" cy="650.4" r="1.45"/><circle cx="850.1" cy="605.7" r="1.45"/><circle cx="851.3" cy="653.2" r="1.45"/><circle cx="864.3" cy="628.9" r="1.45"/><circle cx="858.9" cy="593.6" r="1.45"/><circle cx="871.3" cy="665.7" r="1.45"/><circle cx="863.9" cy="646.3" r="1.45"/><circle cx="879.9" cy="714.4" r="1.45"/><circle cx="878.9" cy="698.4" r="1.45"/><circle cx="840.0" cy="605.4" r="1.45"/><circle cx="870.2" cy="656.9" r="1.45"/><circle cx="878.5" cy="658.5" r="1.45"/><circle cx="854.2" cy="677.5" r="1.45"/><circle cx="874.2" cy="645.8" r="1.45"/><circle cx="857.4" cy="630.5" r="1.45"/><circle cx="863.3" cy="632.9" r="1.45"/><circle cx="874.4" cy="617.7" r="1.45"/><circle cx="843.8" cy="595.7" r="1.45"/><circle cx="847.2" cy="631.9" r="1.45"/><circle cx="849.7" cy="597.9" r="1.45"/><circle cx="869.1" cy="609.4" r="1.45"/><circle cx="867.5" cy="651.0" r="1.45"/><circle cx="838.1" cy="588.4" r="1.45"/><circle cx="881.3" cy="678.4" r="1.45"/><circle cx="869.4" cy="623.7" r="1.45"/><circle cx="864.3" cy="677.2" r="1.45"/><circle cx="858.9" cy="661.0" r="1.45"/><circle cx="876.2" cy="648.2" r="1.45"/><circle cx="857.0" cy="642.0" r="1.45"/><circle cx="868.9" cy="656.3" r="1.45"/><circle cx="858.9" cy="627.3" r="1.45"/><circle cx="837.8" cy="593.7" r="1.45"/><circle cx="856.0" cy="597.3" r="1.45"/><circle cx="845.2" cy="663.3" r="1.45"/><circle cx="870.2" cy="685.8" r="1.45"/><circle cx="867.9" cy="593.8" r="1.45"/><circle cx="848.8" cy="624.1" r="1.45"/><circle cx="858.2" cy="675.6" r="1.45"/><circle cx="861.6" cy="647.3" r="1.45"/><circle cx="872.7" cy="667.5" r="1.45"/><circle cx="866.2" cy="616.4" r="1.45"/><circle cx="868.0" cy="672.5" r="1.45"/><circle cx="858.7" cy="594.9" r="1.45"/><circle cx="880.5" cy="659.5" r="1.45"/><circle cx="858.1" cy="626.8" r="1.45"/><circle cx="853.7" cy="603.8" r="1.45"/><circle cx="860.0" cy="630.4" r="1.45"/><circle cx="874.4" cy="670.0" r="1.45"/><circle cx="862.1" cy="682.8" r="1.45"/><circle cx="866.4" cy="688.8" r="1.45"/><circle cx="833.1" cy="604.5" r="1.45"/><circle cx="871.9" cy="597.0" r="1.45"/><circle cx="855.5" cy="597.6" r="1.45"/><circle cx="880.9" cy="687.5" r="1.45"/><circle cx="881.6" cy="654.9" r="1.45"/><circle cx="876.1" cy="689.7" r="1.45"/><circle cx="841.9" cy="623.1" r="1.45"/><circle cx="869.6" cy="615.7" r="1.45"/><circle cx="879.8" cy="653.7" r="1.45"/><circle cx="854.2" cy="622.4" r="1.45"/><circle cx="873.2" cy="642.8" r="1.45"/><circle cx="835.0" cy="598.6" r="1.45"/><circle cx="866.0" cy="590.1" r="1.45"/><circle cx="867.0" cy="642.1" r="1.45"/><circle cx="850.1" cy="628.6" r="1.45"/><circle cx="873.3" cy="644.1" r="1.45"/><circle cx="866.2" cy="696.4" r="1.45"/><circle cx="869.2" cy="700.3" r="1.45"/><circle cx="854.3" cy="627.8" r="1.45"/><circle cx="864.6" cy="639.2" r="1.45"/><circle cx="852.7" cy="587.5" r="1.45"/><circle cx="867.9" cy="631.6" r="1.45"/><circle cx="857.0" cy="628.3" r="1.45"/><circle cx="843.9" cy="590.8" r="1.45"/><circle cx="857.2" cy="643.0" r="1.45"/><circle cx="845.8" cy="602.3" r="1.45"/><circle cx="864.0" cy="614.8" r="1.45"/><circle cx="852.6" cy="604.1" r="1.45"/><circle cx="853.9" cy="624.4" r="1.45"/><circle cx="863.7" cy="623.9" r="1.45"/><circle cx="872.8" cy="631.1" r="1.45"/><circle cx="851.1" cy="597.7" r="1.45"/><circle cx="868.0" cy="624.4" r="1.45"/><circle cx="852.5" cy="622.6" r="1.45"/><circle cx="855.3" cy="593.2" r="1.45"/><circle cx="865.6" cy="655.5" r="1.45"/><circle cx="871.4" cy="651.4" r="1.45"/><circle cx="842.9" cy="603.1" r="1.45"/><circle cx="847.1" cy="639.4" r="1.45"/><circle cx="875.8" cy="622.8" r="1.45"/><circle cx="844.3" cy="595.5" r="1.45"/><circle cx="882.4" cy="711.0" r="1.45"/><circle cx="874.7" cy="648.6" r="1.45"/><circle cx="850.4" cy="656.4" r="1.45"/><circle cx="849.8" cy="630.8" r="1.45"/><circle cx="874.3" cy="717.6" r="1.45"/><circle cx="854.0" cy="613.0" r="1.45"/><circle cx="873.0" cy="687.5" r="1.45"/><circle cx="879.0" cy="661.0" r="1.45"/><circle cx="871.2" cy="705.7" r="1.45"/><circle cx="866.4" cy="640.6" r="1.45"/><circle cx="865.9" cy="658.4" r="1.45"/><circle cx="864.7" cy="607.6" r="1.45"/><circle cx="846.6" cy="589.0" r="1.45"/><circle cx="847.8" cy="640.8" r="1.45"/><circle cx="847.9" cy="597.3" r="1.45"/><circle cx="849.5" cy="605.1" r="1.45"/><circle cx="862.2" cy="611.3" r="1.45"/><circle cx="857.3" cy="605.9" r="1.45"/><circle cx="876.3" cy="688.0" r="1.45"/><circle cx="850.6" cy="636.2" r="1.45"/><circle cx="865.0" cy="634.0" r="1.45"/><circle cx="855.1" cy="630.2" r="1.45"/><circle cx="868.8" cy="693.7" r="1.45"/><circle cx="857.0" cy="653.6" r="1.45"/><circle cx="850.1" cy="595.5" r="1.45"/><circle cx="853.0" cy="644.5" r="1.45"/><circle cx="887.7" cy="657.7" r="1.45"/><circle cx="868.4" cy="726.6" r="1.45"/><circle cx="858.8" cy="592.7" r="1.45"/><circle cx="836.5" cy="607.0" r="1.45"/><circle cx="852.9" cy="631.2" r="1.45"/><circle cx="867.0" cy="634.3" r="1.45"/><circle cx="867.4" cy="688.6" r="1.45"/><circle cx="873.7" cy="708.6" r="1.45"/><circle cx="873.1" cy="630.9" r="1.45"/><circle cx="859.2" cy="663.0" r="1.45"/><circle cx="855.1" cy="589.9" r="1.45"/><circle cx="854.2" cy="607.3" r="1.45"/><circle cx="844.7" cy="643.5" r="1.45"/><circle cx="862.5" cy="614.6" r="1.45"/><circle cx="854.8" cy="628.6" r="1.45"/><circle cx="860.1" cy="602.5" r="1.45"/><circle cx="858.2" cy="590.0" r="1.45"/><circle cx="855.0" cy="598.9" r="1.45"/><circle cx="861.0" cy="645.4" r="1.45"/><circle cx="858.4" cy="619.4" r="1.45"/><circle cx="837.0" cy="623.2" r="1.45"/><circle cx="851.6" cy="621.0" r="1.45"/><circle cx="859.9" cy="607.2" r="1.45"/><circle cx="868.6" cy="614.8" r="1.45"/><circle cx="849.2" cy="616.2" r="1.45"/><circle cx="870.8" cy="630.8" r="1.45"/><circle cx="867.1" cy="625.1" r="1.45"/><circle cx="848.4" cy="595.4" r="1.45"/><circle cx="855.6" cy="604.8" r="1.45"/><circle cx="849.2" cy="589.4" r="1.45"/><circle cx="868.7" cy="665.7" r="1.45"/><circle cx="837.9" cy="597.5" r="1.45"/><circle cx="850.3" cy="592.5" r="1.45"/><circle cx="874.6" cy="695.2" r="1.45"/><circle cx="853.1" cy="617.7" r="1.45"/><circle cx="871.0" cy="611.4" r="1.45"/><circle cx="856.4" cy="634.3" r="1.45"/><circle cx="857.1" cy="620.3" r="1.45"/><circle cx="858.7" cy="609.3" r="1.45"/><circle cx="855.7" cy="590.7" r="1.45"/><circle cx="873.8" cy="653.0" r="1.45"/><circle cx="856.5" cy="632.7" r="1.45"/><circle cx="850.7" cy="616.3" r="1.45"/><circle cx="842.1" cy="630.8" r="1.45"/><circle cx="865.7" cy="631.6" r="1.45"/><circle cx="862.8" cy="672.9" r="1.45"/><circle cx="859.4" cy="593.9" r="1.45"/><circle cx="877.4" cy="661.0" r="1.45"/><circle cx="842.5" cy="610.7" r="1.45"/><circle cx="862.2" cy="632.9" r="1.45"/><circle cx="875.2" cy="679.8" r="1.45"/><circle cx="862.9" cy="712.6" r="1.45"/><circle cx="859.2" cy="650.0" r="1.45"/><circle cx="856.1" cy="633.3" r="1.45"/><circle cx="907.1" cy="609.9" r="1.45"/><circle cx="924.3" cy="648.3" r="1.45"/><circle cx="901.7" cy="732.2" r="1.45"/><circle cx="908.9" cy="706.2" r="1.45"/><circle cx="905.3" cy="705.1" r="1.45"/><circle cx="845.6" cy="714.9" r="1.45"/><circle cx="852.8" cy="707.3" r="1.45"/></g>
<circle cx="772.26" cy="711.61" r="3.2" fill="#FF9A00" stroke="#FF2A00" stroke-width="1"/>
</g>
<rect x="753.26" y="591.64" width="195.65" height="175.1" fill="none" stroke="#000" stroke-width="1"/>
<path d="M760.5 766.74v5.9M796.7 766.74v5.9M832.9 766.74v5.9M869.1 766.74v5.9M905.3 766.74v5.9M941.5 766.74v5.9" stroke="#000" stroke-width="1" fill="none" stroke-linecap="round"/>
<text x="760.5" y="787.24" font-size="9.24" text-anchor="middle">0.0</text>
<text x="796.7" y="787.24" font-size="9.24" text-anchor="middle">0.2</text>
<text x="832.9" y="787.24" font-size="9.24" text-anchor="middle">0.4</text>
<text x="869.1" y="787.24" font-size="9.24" text-anchor="middle">0.6</text>
<text x="905.3" y="787.24" font-size="9.24" text-anchor="middle">0.8</text>
<text x="941.5" y="787.24" font-size="9.24" text-anchor="middle">1.0</text>
<path d="M753.26 760.3h-5.9M753.26 706.2h-5.9M753.26 652.1h-5.9M753.26 598h-5.9" stroke="#000" stroke-width="1" fill="none" stroke-linecap="round"/>
<text x="740.06" y="760.9" font-size="9.24" text-anchor="middle" transform="rotate(-90 740.06 760.9)">0.0</text>
<text x="740.06" y="706.8" font-size="9.24" text-anchor="middle" transform="rotate(-90 740.06 706.8)">0.5</text>
<text x="740.06" y="652.7" font-size="9.24" text-anchor="middle" transform="rotate(-90 740.06 652.7)">1.0</text>
<text x="740.06" y="598.6" font-size="9.24" text-anchor="middle" transform="rotate(-90 740.06 598.6)">1.5</text>
<text x="851.09" y="584.44" font-size="8.75" text-anchor="middle" font-weight="bold">Period - Amplitude</text>
<text x="851.09" y="798.24" font-size="9.24" text-anchor="middle">Period [days]</text>
<text x="728.06" y="679.19" font-size="9.24" text-anchor="middle" transform="rotate(-90 728.06 679.19)">Amplitude [mag]</text>
<path d="M989.73 766.74V591.64M1030.09 766.74V591.64M1082.69 766.74V591.64M1129.48 766.74V591.64M1181.05 766.74V591.64" stroke="#FFC0CB" stroke-width="1" fill="none" stroke-dasharray="4 4"/>
<path d="M989.73 646.69L1030.09 630.46L1082.69 646.69L1129.48 679.15L1181.05 711.61" fill="none" stroke="#333" stroke-width="0.95" stroke-linejoin="round"/>
<path d="M989.73 760.3L1030.09 679.15L1082.69 711.61L1129.48 727.84L1181.05 760.3" fill="none" stroke="#333" stroke-width="0.95" stroke-linejoin="round"/>
<path d="M989.73 735.14L1030.09 632.89L1082.69 680.77L1129.48 709.99L1181.05 739.2" fill="none" stroke="#FF4500" stroke-width="2.2" stroke-linejoin="round"/>
<path d="M989.73 735.14L1030.09 632.89L1082.69 680.77L1129.48 709.99L1181.05 739.2" fill="none" stroke="#FF9C00" stroke-width="2.2" stroke-linejoin="round" stroke-dasharray="1.1 1.1"/>
<rect x="982.18" y="591.64" width="206.73" height="175.1" fill="none" stroke="#000" stroke-width="1"/>
<path d="M1005.7 766.74v5.9M1041.26 766.74v5.9M1076.82 766.74v5.9M1112.38 766.74v5.9M1147.94 766.74v5.9M1183.5 766.74v5.9" stroke="#000" stroke-width="1" fill="none" stroke-linecap="round"/>
<text x="1005.7" y="787.24" font-size="9.24" text-anchor="middle">4000</text>
<text x="1041.26" y="787.24" font-size="9.24" text-anchor="middle">5000</text>
<text x="1076.82" y="787.24" font-size="9.24" text-anchor="middle">6000</text>
<text x="1112.38" y="787.24" font-size="9.24" text-anchor="middle">7000</text>
<text x="1147.94" y="787.24" font-size="9.24" text-anchor="middle">8000</text>
<text x="1183.5" y="787.24" font-size="9.24" text-anchor="middle">9000</text>
<path d="M982.18 760.3h-5.9M982.18 727.84h-5.9M982.18 695.38h-5.9M982.18 662.92h-5.9M982.18 630.46h-5.9M982.18 598h-5.9" stroke="#000" stroke-width="1" fill="none" stroke-linecap="round"/>
<text x="968.98" y="760.9" font-size="9.24" text-anchor="middle" transform="rotate(-90 968.98 760.9)">0.0</text>
<text x="968.98" y="728.44" font-size="9.24" text-anchor="middle" transform="rotate(-90 968.98 728.44)">0.2</text>
<text x="968.98" y="695.98" font-size="9.24" text-anchor="middle" transform="rotate(-90 968.98 695.98)">0.4</text>
<text x="968.98" y="663.52" font-size="9.24" text-anchor="middle" transform="rotate(-90 968.98 663.52)">0.6</text>
<text x="968.98" y="631.06" font-size="9.24" text-anchor="middle" transform="rotate(-90 968.98 631.06)">0.8</text>
<text x="968.98" y="598.6" font-size="9.24" text-anchor="middle" transform="rotate(-90 968.98 598.6)">1.0</text>
<text x="1085.55" y="584.44" font-size="8.75" text-anchor="middle" font-weight="bold">PC1 coefficients</text>
<text x="1085.55" y="798.24" font-size="9.24" text-anchor="middle">Wavelength</text>
</svg>
</body></html>
